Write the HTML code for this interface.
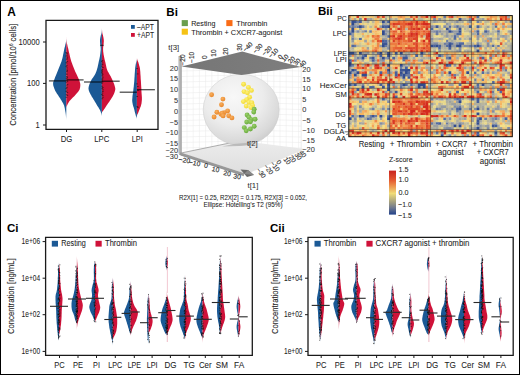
<!DOCTYPE html>
<html><head><meta charset="utf-8"><style>
html,body{margin:0;padding:0;background:#fff;}
body{width:520px;height:375px;overflow:hidden;position:relative;font-family:"Liberation Sans",sans-serif;}
.frame{position:absolute;left:0;top:0;width:518px;height:373px;border:1px solid #000;}
svg{position:absolute;left:0;top:0;}
</style></head><body>
<svg width="520" height="375" viewBox="0 0 520 375" font-family="Liberation Sans, sans-serif">
<rect x="0" y="0" width="520" height="375" fill="#fff"/>
<text x="7.30" y="16.20" font-size="11.88" text-anchor="start" font-weight="bold" fill="#000">A</text>
<linearGradient id="v1" gradientUnits="userSpaceOnUse" x1="0" y1="38.0" x2="0" y2="120.0"><stop offset="0" stop-color="#1b5995" stop-opacity="0.25"/><stop offset="0.082" stop-color="#1b5995"/><stop offset="0.898" stop-color="#1b5995"/><stop offset="1" stop-color="#1b5995" stop-opacity="0.25"/></linearGradient>
<path d="M66.3,38.0 66.3,38.5 66.2,39.1 66.2,39.8 66.1,40.6 66.0,41.5 65.8,42.5 65.6,43.5 65.3,44.7 65.1,45.9 64.7,47.2 64.4,48.6 64.1,50.0 63.8,51.5 63.5,53.1 63.1,54.8 62.8,56.6 62.4,58.3 61.9,60.0 61.4,61.7 60.8,63.3 60.1,65.0 59.4,66.7 58.8,68.3 58.1,70.0 57.4,71.7 56.7,73.6 55.9,75.4 55.2,77.1 54.6,78.7 54.1,80.0 53.7,81.0 53.4,81.7 53.2,82.2 53.1,82.7 53.1,83.3 53.1,84.0 53.2,84.9 53.4,85.9 53.8,86.9 54.1,88.0 54.5,89.0 54.9,90.0 55.3,90.9 55.8,91.7 56.3,92.6 56.8,93.4 57.4,94.2 57.9,95.0 58.4,95.8 59.0,96.7 59.5,97.5 60.1,98.3 60.6,99.2 61.1,100.0 61.6,100.8 62.1,101.7 62.6,102.5 63.1,103.3 63.5,104.2 63.9,105.0 64.2,105.8 64.4,106.7 64.6,107.5 64.8,108.3 64.9,109.2 65.1,110.0 65.2,110.8 65.4,111.7 65.5,112.5 65.6,113.3 65.7,114.2 65.8,115.0 65.9,115.9 66.0,116.9 66.1,117.8 66.2,118.7 66.2,119.5 66.3,120.0 66.3,120.0 66.3,38.0Z" fill="url(#v1)"/>
<linearGradient id="v2" gradientUnits="userSpaceOnUse" x1="0" y1="36.0" x2="0" y2="108.0"><stop offset="0" stop-color="#cf1239" stop-opacity="0.25"/><stop offset="0.123" stop-color="#cf1239"/><stop offset="0.959" stop-color="#cf1239"/><stop offset="1" stop-color="#cf1239" stop-opacity="0.25"/></linearGradient>
<path d="M66.3,36.0 66.3,36.7 66.4,37.6 66.4,38.8 66.5,40.0 66.6,41.3 66.8,42.5 67.0,43.7 67.3,44.8 67.5,46.0 67.8,47.3 68.2,48.6 68.5,50.0 68.8,51.5 69.2,53.1 69.6,54.8 70.0,56.6 70.4,58.3 70.9,60.0 71.4,61.7 72.0,63.3 72.6,65.0 73.3,66.7 73.9,68.3 74.6,70.0 75.3,71.7 76.2,73.5 77.0,75.3 77.8,77.0 78.5,78.6 79.1,80.0 79.5,81.1 79.8,82.0 80.0,82.8 80.2,83.5 80.3,84.2 80.3,85.0 80.3,85.8 80.2,86.7 80.1,87.5 79.9,88.3 79.7,89.2 79.3,90.0 78.8,90.8 78.2,91.7 77.5,92.5 76.8,93.3 76.0,94.2 75.3,95.0 74.5,95.9 73.7,96.7 72.8,97.6 71.9,98.5 71.2,99.3 70.5,100.0 70.0,100.6 69.5,101.1 69.2,101.6 68.9,102.1 68.6,102.5 68.3,103.0 68.0,103.5 67.7,104.0 67.5,104.6 67.3,105.1 67.1,105.6 66.9,106.0 66.7,106.4 66.6,106.8 66.5,107.2 66.4,107.5 66.4,107.8 66.3,108.0 66.3,108.0 66.3,36.0Z" fill="url(#v2)"/>
<linearGradient id="v3" gradientUnits="userSpaceOnUse" x1="0" y1="28.5" x2="0" y2="116.4"><stop offset="0" stop-color="#1b5995" stop-opacity="0.25"/><stop offset="0.074" stop-color="#1b5995"/><stop offset="0.956" stop-color="#1b5995"/><stop offset="1" stop-color="#1b5995" stop-opacity="0.25"/></linearGradient>
<path d="M101.9,28.5 101.8,29.0 101.8,29.7 101.7,30.6 101.6,31.4 101.5,32.3 101.4,33.0 101.3,33.6 101.2,34.1 101.1,34.5 100.9,35.0 100.8,35.5 100.7,36.0 100.6,36.6 100.4,37.3 100.3,37.9 100.2,38.6 100.1,39.3 100.0,40.0 100.0,40.7 100.0,41.3 100.0,41.9 100.1,42.6 100.1,43.3 100.2,44.0 100.3,44.8 100.4,45.6 100.5,46.4 100.6,47.2 100.7,48.1 100.7,49.0 100.7,49.9 100.6,50.8 100.5,51.8 100.4,52.7 100.3,53.8 100.1,55.0 99.9,56.4 99.6,57.9 99.3,59.5 98.9,61.1 98.6,62.6 98.3,64.0 98.0,65.2 97.8,66.3 97.6,67.2 97.3,68.2 97.1,69.1 96.8,70.0 96.5,70.9 96.2,71.7 95.9,72.6 95.5,73.4 95.1,74.2 94.7,75.0 94.2,75.8 93.7,76.6 93.1,77.4 92.5,78.3 91.9,79.1 91.4,80.0 90.9,81.0 90.4,82.0 90.0,83.1 89.5,84.1 89.2,85.1 88.9,86.0 88.7,86.8 88.6,87.4 88.5,88.1 88.5,88.7 88.6,89.3 88.7,90.0 88.9,90.8 89.2,91.6 89.6,92.4 90.0,93.3 90.5,94.2 90.9,95.0 91.4,95.8 91.8,96.7 92.4,97.5 92.9,98.3 93.4,99.2 93.9,100.0 94.4,100.8 94.9,101.7 95.4,102.5 95.9,103.3 96.4,104.2 96.9,105.0 97.4,105.9 98.0,106.7 98.5,107.6 99.0,108.5 99.5,109.3 99.9,110.0 100.2,110.6 100.4,111.1 100.6,111.6 100.8,112.0 100.9,112.5 101.1,113.0 101.3,113.6 101.4,114.2 101.6,114.9 101.7,115.5 101.8,116.0 101.9,116.4 101.9,116.4 101.9,28.5Z" fill="url(#v3)"/>
<linearGradient id="v4" gradientUnits="userSpaceOnUse" x1="0" y1="28.0" x2="0" y2="112.5"><stop offset="0" stop-color="#cf1239" stop-opacity="0.25"/><stop offset="0.083" stop-color="#cf1239"/><stop offset="0.984" stop-color="#cf1239"/><stop offset="1" stop-color="#cf1239" stop-opacity="0.25"/></linearGradient>
<path d="M101.9,28.0 102.0,28.6 102.0,29.4 102.1,30.3 102.2,31.3 102.3,32.2 102.4,33.0 102.5,33.6 102.6,34.1 102.7,34.6 102.9,35.0 103.0,35.5 103.1,36.0 103.2,36.6 103.4,37.3 103.5,37.9 103.6,38.6 103.7,39.3 103.8,40.0 103.8,40.7 103.8,41.3 103.8,41.9 103.7,42.6 103.7,43.3 103.6,44.0 103.5,44.8 103.4,45.6 103.3,46.4 103.2,47.2 103.1,48.1 103.1,49.0 103.1,49.9 103.2,50.8 103.2,51.8 103.4,52.7 103.5,53.8 103.7,55.0 104.0,56.4 104.3,57.9 104.6,59.5 105.0,61.1 105.4,62.6 105.7,64.0 106.0,65.2 106.2,66.3 106.4,67.2 106.6,68.2 106.9,69.1 107.2,70.0 107.6,70.9 108.0,71.7 108.5,72.6 109.0,73.4 109.4,74.2 109.9,75.0 110.3,75.8 110.8,76.6 111.2,77.4 111.6,78.3 112.0,79.1 112.4,80.0 112.8,81.0 113.2,82.0 113.7,83.1 114.1,84.1 114.4,85.1 114.7,86.0 114.9,86.8 115.1,87.4 115.2,88.1 115.3,88.7 115.3,89.3 115.2,90.0 115.0,90.8 114.8,91.6 114.5,92.4 114.2,93.3 113.8,94.2 113.4,95.0 113.0,95.8 112.5,96.7 112.0,97.5 111.5,98.3 110.9,99.2 110.4,100.0 109.8,100.8 109.3,101.7 108.7,102.5 108.1,103.3 107.5,104.2 106.9,105.0 106.3,105.9 105.8,106.8 105.2,107.7 104.7,108.5 104.1,109.3 103.7,110.0 103.3,110.6 102.9,111.1 102.6,111.6 102.3,111.9 102.1,112.3 101.9,112.5 101.9,112.5 101.9,28.0Z" fill="url(#v4)"/>
<linearGradient id="v5" gradientUnits="userSpaceOnUse" x1="0" y1="58.7" x2="0" y2="119.0"><stop offset="0" stop-color="#1b5995" stop-opacity="0.25"/><stop offset="0.087" stop-color="#1b5995"/><stop offset="0.948" stop-color="#1b5995"/><stop offset="1" stop-color="#1b5995" stop-opacity="0.25"/></linearGradient>
<path d="M136.9,58.7 136.8,59.4 136.5,60.4 136.3,61.5 136.0,62.8 135.8,64.0 135.6,65.0 135.5,65.8 135.4,66.5 135.3,67.1 135.2,67.8 135.1,68.7 135.0,70.0 134.9,71.8 134.7,73.9 134.6,76.2 134.4,78.7 134.3,81.0 134.1,83.0 133.9,84.7 133.8,86.3 133.6,87.8 133.4,89.2 133.3,90.6 133.1,92.0 132.9,93.4 132.7,94.8 132.5,96.1 132.4,97.4 132.3,98.7 132.2,99.8 132.2,100.8 132.3,101.8 132.4,102.6 132.6,103.5 132.7,104.2 132.9,105.0 133.1,105.7 133.3,106.4 133.5,107.0 133.7,107.6 133.9,108.3 134.1,109.0 134.3,109.8 134.5,110.6 134.7,111.4 134.9,112.3 135.2,113.2 135.4,114.0 135.7,114.9 135.9,115.9 136.2,116.8 136.5,117.7 136.7,118.5 136.9,119.0 136.9,119.0 136.9,58.7Z" fill="url(#v5)"/>
<linearGradient id="v6" gradientUnits="userSpaceOnUse" x1="0" y1="58.0" x2="0" y2="116.0"><stop offset="0" stop-color="#cf1239" stop-opacity="0.25"/><stop offset="0.055" stop-color="#cf1239"/><stop offset="0.954" stop-color="#cf1239"/><stop offset="1" stop-color="#cf1239" stop-opacity="0.25"/></linearGradient>
<path d="M136.9,58.0 137.2,58.8 137.5,59.9 137.9,61.2 138.4,62.6 138.8,63.9 139.1,65.0 139.3,65.9 139.5,66.5 139.7,67.1 139.8,67.8 140.0,68.7 140.1,70.0 140.3,71.8 140.4,73.9 140.6,76.2 140.7,78.7 140.9,81.0 141.0,83.0 141.1,84.7 141.2,86.3 141.3,87.8 141.4,89.2 141.4,90.6 141.5,92.0 141.6,93.4 141.7,94.8 141.8,96.1 141.9,97.4 141.9,98.7 141.9,99.8 141.8,100.8 141.7,101.8 141.6,102.6 141.5,103.5 141.3,104.2 141.1,105.0 140.9,105.7 140.7,106.4 140.5,107.0 140.2,107.6 140.0,108.3 139.7,109.0 139.4,109.8 139.0,110.7 138.7,111.6 138.3,112.5 138.0,113.3 137.7,114.0 137.5,114.5 137.3,115.0 137.2,115.3 137.1,115.6 137.0,115.8 136.9,116.0 136.9,116.0 136.9,58.0Z" fill="url(#v6)"/>
<rect x="65.58" y="52.00" width="1.7" height="0.55" fill="#111"/>
<rect x="66.04" y="53.46" width="1.7" height="0.55" fill="#111"/>
<rect x="66.01" y="54.71" width="1.7" height="0.55" fill="#111"/>
<rect x="65.48" y="55.74" width="1.7" height="0.55" fill="#111"/>
<rect x="66.39" y="56.80" width="1.7" height="0.55" fill="#111"/>
<rect x="66.15" y="57.89" width="1.7" height="0.55" fill="#111"/>
<rect x="65.88" y="59.55" width="1.7" height="0.55" fill="#111"/>
<rect x="66.43" y="61.23" width="1.7" height="0.55" fill="#111"/>
<rect x="65.54" y="62.44" width="1.7" height="0.55" fill="#111"/>
<rect x="65.62" y="63.65" width="1.7" height="0.55" fill="#111"/>
<rect x="65.85" y="65.06" width="1.7" height="0.55" fill="#111"/>
<rect x="65.47" y="66.44" width="1.7" height="0.55" fill="#111"/>
<rect x="65.91" y="67.59" width="1.7" height="0.55" fill="#111"/>
<rect x="65.94" y="68.81" width="1.7" height="0.55" fill="#111"/>
<rect x="66.24" y="70.02" width="1.7" height="0.55" fill="#111"/>
<rect x="66.03" y="71.19" width="1.7" height="0.55" fill="#111"/>
<rect x="65.75" y="72.80" width="1.7" height="0.55" fill="#111"/>
<rect x="65.90" y="74.49" width="1.7" height="0.55" fill="#111"/>
<rect x="65.99" y="76.02" width="1.7" height="0.55" fill="#111"/>
<rect x="66.32" y="77.04" width="1.7" height="0.55" fill="#111"/>
<rect x="65.78" y="78.45" width="1.7" height="0.55" fill="#111"/>
<rect x="66.10" y="79.93" width="1.7" height="0.55" fill="#111"/>
<rect x="66.53" y="81.25" width="1.7" height="0.55" fill="#111"/>
<rect x="65.47" y="82.58" width="1.7" height="0.55" fill="#111"/>
<rect x="66.59" y="84.08" width="1.7" height="0.55" fill="#111"/>
<rect x="65.86" y="85.65" width="1.7" height="0.55" fill="#111"/>
<rect x="65.95" y="87.12" width="1.7" height="0.55" fill="#111"/>
<rect x="65.47" y="88.24" width="1.7" height="0.55" fill="#111"/>
<rect x="65.70" y="89.77" width="1.7" height="0.55" fill="#111"/>
<rect x="65.50" y="91.05" width="1.7" height="0.55" fill="#111"/>
<rect x="66.46" y="92.36" width="1.7" height="0.55" fill="#111"/>
<rect x="65.73" y="93.94" width="1.7" height="0.55" fill="#111"/>
<rect x="66.46" y="95.23" width="1.7" height="0.55" fill="#111"/>
<rect x="65.61" y="96.90" width="1.7" height="0.55" fill="#111"/>
<line x1="48.90" y1="80.90" x2="66.30" y2="80.90" stroke="#000" stroke-opacity="0.72" stroke-width="1.25"/>
<line x1="66.30" y1="79.90" x2="83.60" y2="79.90" stroke="#000" stroke-opacity="0.72" stroke-width="1.25"/>
<rect x="101.58" y="60.00" width="1.7" height="0.55" fill="#111"/>
<rect x="101.00" y="61.41" width="1.7" height="0.55" fill="#111"/>
<rect x="101.68" y="62.71" width="1.7" height="0.55" fill="#111"/>
<rect x="101.62" y="64.37" width="1.7" height="0.55" fill="#111"/>
<rect x="101.06" y="65.81" width="1.7" height="0.55" fill="#111"/>
<rect x="102.05" y="67.43" width="1.7" height="0.55" fill="#111"/>
<rect x="101.48" y="68.99" width="1.7" height="0.55" fill="#111"/>
<rect x="101.07" y="70.07" width="1.7" height="0.55" fill="#111"/>
<rect x="101.19" y="71.11" width="1.7" height="0.55" fill="#111"/>
<rect x="101.00" y="72.35" width="1.7" height="0.55" fill="#111"/>
<rect x="101.44" y="73.46" width="1.7" height="0.55" fill="#111"/>
<rect x="101.74" y="74.47" width="1.7" height="0.55" fill="#111"/>
<rect x="101.42" y="75.58" width="1.7" height="0.55" fill="#111"/>
<rect x="102.02" y="76.83" width="1.7" height="0.55" fill="#111"/>
<rect x="101.58" y="78.53" width="1.7" height="0.55" fill="#111"/>
<rect x="101.41" y="79.59" width="1.7" height="0.55" fill="#111"/>
<rect x="101.19" y="80.77" width="1.7" height="0.55" fill="#111"/>
<rect x="101.63" y="81.79" width="1.7" height="0.55" fill="#111"/>
<rect x="101.03" y="82.89" width="1.7" height="0.55" fill="#111"/>
<rect x="101.31" y="85.87" width="1.7" height="0.55" fill="#111"/>
<rect x="101.93" y="87.12" width="1.7" height="0.55" fill="#111"/>
<rect x="101.40" y="88.50" width="1.7" height="0.55" fill="#111"/>
<rect x="102.18" y="89.65" width="1.7" height="0.55" fill="#111"/>
<rect x="101.98" y="91.25" width="1.7" height="0.55" fill="#111"/>
<rect x="101.62" y="92.77" width="1.7" height="0.55" fill="#111"/>
<rect x="101.03" y="94.02" width="1.7" height="0.55" fill="#111"/>
<rect x="101.83" y="95.21" width="1.7" height="0.55" fill="#111"/>
<rect x="102.12" y="96.88" width="1.7" height="0.55" fill="#111"/>
<rect x="101.44" y="98.57" width="1.7" height="0.55" fill="#111"/>
<line x1="84.00" y1="82.00" x2="101.90" y2="82.00" stroke="#000" stroke-opacity="0.72" stroke-width="1.25"/>
<line x1="101.90" y1="81.20" x2="119.70" y2="81.20" stroke="#000" stroke-opacity="0.72" stroke-width="1.25"/>
<rect x="136.24" y="68.00" width="1.7" height="0.55" fill="#111"/>
<rect x="136.79" y="73.67" width="1.7" height="0.55" fill="#111"/>
<rect x="136.15" y="83.66" width="1.7" height="0.55" fill="#111"/>
<rect x="136.99" y="86.33" width="1.7" height="0.55" fill="#111"/>
<rect x="137.17" y="90.35" width="1.7" height="0.55" fill="#111"/>
<rect x="136.35" y="96.22" width="1.7" height="0.55" fill="#111"/>
<rect x="136.53" y="106.33" width="1.7" height="0.55" fill="#111"/>
<rect x="136.96" y="107.45" width="1.7" height="0.55" fill="#111"/>
<line x1="119.70" y1="92.20" x2="136.90" y2="92.20" stroke="#000" stroke-opacity="0.72" stroke-width="1.25"/>
<line x1="136.90" y1="89.70" x2="154.90" y2="89.70" stroke="#000" stroke-opacity="0.72" stroke-width="1.25"/>
<rect x="100.2" y="44.8" width="3.4" height="0.9" fill="#111"/>
<path d="M46,20.3 H158 V129.3 H46 Z" fill="none" stroke="#1a1a1a" stroke-width="1.3"/>
<line x1="43" y1="42.0" x2="46" y2="42.0" stroke="#1a1a1a" stroke-width="1"/>
<text x="39.60" y="44.80" font-size="9.07" text-anchor="end" font-weight="normal" fill="#222" textLength="21.0" lengthAdjust="spacingAndGlyphs" stroke="#222" stroke-width="0.06">10000</text>
<line x1="43" y1="83.4" x2="46" y2="83.4" stroke="#1a1a1a" stroke-width="1"/>
<text x="39.60" y="86.20" font-size="9.07" text-anchor="end" font-weight="normal" fill="#222" textLength="12.6" lengthAdjust="spacingAndGlyphs" stroke="#222" stroke-width="0.06">100</text>
<line x1="43" y1="125.0" x2="46" y2="125.0" stroke="#1a1a1a" stroke-width="1"/>
<text x="39.60" y="127.80" font-size="9.07" text-anchor="end" font-weight="normal" fill="#222" textLength="4.2" lengthAdjust="spacingAndGlyphs" stroke="#222" stroke-width="0.06">1</text>
<line x1="66.5" y1="129.3" x2="66.5" y2="132" stroke="#1a1a1a" stroke-width="1"/>
<text x="66.50" y="141.80" font-size="9.30" text-anchor="middle" font-weight="normal" fill="#222" textLength="11.6" lengthAdjust="spacingAndGlyphs" stroke="#222" stroke-width="0.06">DG</text>
<line x1="101.8" y1="129.3" x2="101.8" y2="132" stroke="#1a1a1a" stroke-width="1"/>
<text x="101.80" y="141.80" font-size="9.30" text-anchor="middle" font-weight="normal" fill="#222" textLength="15.0" lengthAdjust="spacingAndGlyphs" stroke="#222" stroke-width="0.06">LPC</text>
<line x1="137.2" y1="129.3" x2="137.2" y2="132" stroke="#1a1a1a" stroke-width="1"/>
<text x="137.20" y="141.80" font-size="9.30" text-anchor="middle" font-weight="normal" fill="#222" textLength="11.0" lengthAdjust="spacingAndGlyphs" stroke="#222" stroke-width="0.06">LPI</text>
<text transform="translate(15.7,74.8) rotate(-90)" font-size="9.2" text-anchor="middle" fill="#2a2a2a" stroke="#2a2a2a" stroke-width="0.12" textLength="102" lengthAdjust="spacingAndGlyphs">Concentration [pmol/10<tspan dy="-2.5" font-size="5.5">6</tspan><tspan dy="2.5"> cells]</tspan></text>
<rect x="131" y="25" width="3.8" height="3.8" fill="#1b5995"/>
<rect x="131" y="33" width="3.8" height="3.8" fill="#cf1239"/>
<text x="137.00" y="30.30" font-size="8.96" text-anchor="start" font-weight="normal" fill="#222" textLength="17.0" lengthAdjust="spacingAndGlyphs" stroke="#222" stroke-width="0.06">–APT</text>
<text x="137.00" y="38.30" font-size="8.96" text-anchor="start" font-weight="normal" fill="#222" textLength="17.0" lengthAdjust="spacingAndGlyphs" stroke="#222" stroke-width="0.06">+APT</text>
<text x="166.30" y="15.90" font-size="11.56" text-anchor="start" font-weight="bold" fill="#000">Bi</text>
<rect x="181.7" y="20.1" width="6.2" height="6" fill="#6a9e4c"/>
<rect x="226.3" y="20.1" width="6.2" height="6" fill="#fa6c16"/>
<rect x="181.7" y="28.7" width="6.2" height="6" fill="#f5c215"/>
<text x="191.20" y="26.00" font-size="7.84" text-anchor="start" font-weight="normal" fill="#222" textLength="24.2" lengthAdjust="spacingAndGlyphs" stroke="#222" stroke-width="0.06">Resting</text>
<text x="236.20" y="26.00" font-size="7.84" text-anchor="start" font-weight="normal" fill="#222" textLength="31.2" lengthAdjust="spacingAndGlyphs" stroke="#222" stroke-width="0.06">Thrombin</text>
<text x="191.20" y="34.60" font-size="7.84" text-anchor="start" font-weight="normal" fill="#222" textLength="91.0" lengthAdjust="spacingAndGlyphs" stroke="#222" stroke-width="0.06">Thrombin + CXCR7-agonist</text>
<defs><radialGradient id="sph" cx="0.4" cy="0.32" r="0.78"><stop offset="0" stop-color="#f8f8f8"/><stop offset="0.5" stop-color="#ececec"/><stop offset="0.8" stop-color="#d9d9d9"/><stop offset="1" stop-color="#c4c4c4"/></radialGradient><linearGradient id="flr" x1="0" y1="0" x2="0" y2="1"><stop offset="0" stop-color="#ececec"/><stop offset="1" stop-color="#dedede"/></linearGradient><linearGradient id="top" x1="0" y1="0" x2="1" y2="0"><stop offset="0" stop-color="#767676"/><stop offset="1" stop-color="#7e7e7e"/></linearGradient><radialGradient id="dO" cx="0.4" cy="0.35" r="0.65"><stop offset="0" stop-color="#f8b060"/><stop offset="1" stop-color="#e8862a"/></radialGradient><radialGradient id="dY" cx="0.4" cy="0.35" r="0.65"><stop offset="0" stop-color="#fff27a"/><stop offset="1" stop-color="#f0d830"/></radialGradient><radialGradient id="dG" cx="0.4" cy="0.35" r="0.65"><stop offset="0" stop-color="#9ad06a"/><stop offset="1" stop-color="#68aa3c"/></radialGradient></defs>
<path d="M181.5,71.0 L240.5,69.5 L301,71.0 M181.5,76.5 L240.5,75.0 L301,76.5 M181.5,82.0 L240.5,80.5 L301,82.0 M181.5,87.5 L240.5,86.0 L301,87.5 M181.5,93.0 L240.5,91.5 L301,93.0 M181.5,98.5 L240.5,97.0 L301,98.5 M181.5,104.0 L240.5,102.5 L301,104.0 M181.5,109.5 L240.5,108.0 L301,109.5 M181.5,115.0 L240.5,113.5 L301,115.0 M181.5,120.5 L240.5,119.0 L301,120.5 M181.5,126.0 L240.5,124.5 L301,126.0 M181.5,131.5 L240.5,130.0 L301,131.5 M181.5,137.0 L240.5,135.5 L301,137.0 M181.5,142.5 L240.5,141.0 L301,142.5 M181.5,148.0 L240.5,146.5 L301,148.0 M187.0,68.0 V150.0 M193.2,68.0 V150.0 M199.4,68.0 V150.0 M205.6,68.0 V150.0 M211.8,68.0 V150.0 M218.0,68.0 V150.0 M224.2,68.0 V150.0 M230.4,68.0 V150.0 M236.6,68.0 V150.0 M242.8,68.0 V150.0 M249.0,68.0 V150.0 M255.2,68.0 V150.0 M261.4,68.0 V150.0 M267.6,68.0 V150.0 M273.8,68.0 V150.0 M280.0,68.0 V150.0 M286.2,68.0 V150.0 M292.4,68.0 V150.0 M298.6,68.0 V150.0" stroke="#e9e9e9" stroke-width="0.5" fill="none"/>
<polygon points="181,153 240.5,140.8 305,149 247,174" fill="url(#flr)"/>
<path d="M181,153 L240.5,140.8" stroke="#9a9a9a" stroke-width="0.8" fill="none"/>
<ellipse cx="241.2" cy="109.8" rx="38" ry="35.6" fill="url(#sph)" stroke="#c8c8c8" stroke-width="0.5"/>
<path d="M222,146.5 Q240,141 258,144 Q240,146.5 222,146.5Z" fill="#b4b4b4" fill-opacity="0.8"/>
<polygon points="181.5,66.5 242.3,51.6 301.2,66.9 241.5,75" fill="url(#top)"/>
<rect x="178.4" y="56" width="3" height="97.5" fill="#b9b9b9"/>
<line x1="181.2" y1="56" x2="181.2" y2="153.5" stroke="#8a8a8a" stroke-width="0.7"/>
<path d="M179.5,153.5 L244,174.5" stroke="#999" stroke-width="2.6" fill="none"/>
<path d="M180.5,155 L244,175.8" stroke="#888" stroke-width="0.7" fill="none"/>
<polygon points="240.5,169.5 248,170 254,175 247,177" fill="#6a6a6a"/>
<polygon points="244,174 248,170 254,175" fill="#8a8a8a"/>
<line x1="301.2" y1="67" x2="301.2" y2="151.5" stroke="#e0e0e0" stroke-width="0.6"/>
<circle cx="211.6" cy="94.8" r="2.45" fill="url(#dO)"/>
<circle cx="222.9" cy="99.1" r="2.45" fill="url(#dO)"/>
<circle cx="221.5" cy="104.7" r="2.45" fill="url(#dO)"/>
<circle cx="216.9" cy="112.2" r="2.45" fill="url(#dO)"/>
<circle cx="227.6" cy="110.9" r="2.45" fill="url(#dO)"/>
<circle cx="224.2" cy="112.7" r="2.45" fill="url(#dO)"/>
<circle cx="221.0" cy="114.3" r="2.45" fill="url(#dO)"/>
<circle cx="222.1" cy="113.3" r="2.45" fill="url(#dO)"/>
<circle cx="223.1" cy="115.9" r="2.45" fill="url(#dO)"/>
<circle cx="228.7" cy="115.7" r="2.45" fill="url(#dO)"/>
<circle cx="231.9" cy="117.9" r="2.45" fill="url(#dO)"/>
<circle cx="214.1" cy="117.0" r="2.45" fill="url(#dO)"/>
<circle cx="243.6" cy="84.2" r="2.45" fill="url(#dY)"/>
<circle cx="248.4" cy="87.4" r="2.45" fill="url(#dY)"/>
<circle cx="251.4" cy="90.4" r="2.45" fill="url(#dY)"/>
<circle cx="244.0" cy="91.6" r="2.45" fill="url(#dY)"/>
<circle cx="247.4" cy="92.8" r="2.45" fill="url(#dY)"/>
<circle cx="249.6" cy="97.2" r="2.45" fill="url(#dY)"/>
<circle cx="246.6" cy="99.6" r="2.45" fill="url(#dY)"/>
<circle cx="243.4" cy="101.6" r="2.45" fill="url(#dY)"/>
<circle cx="249.0" cy="102.4" r="2.45" fill="url(#dY)"/>
<circle cx="251.8" cy="102.8" r="2.45" fill="url(#dY)"/>
<circle cx="246.2" cy="106.1" r="2.45" fill="url(#dY)"/>
<circle cx="252.6" cy="105.6" r="2.45" fill="url(#dY)"/>
<circle cx="250.9" cy="107.5" r="2.45" fill="url(#dY)"/>
<circle cx="254.2" cy="109.3" r="2.45" fill="url(#dG)"/>
<circle cx="253.7" cy="112.1" r="2.45" fill="url(#dG)"/>
<circle cx="247.1" cy="115.0" r="2.45" fill="url(#dG)"/>
<circle cx="249.0" cy="117.3" r="2.45" fill="url(#dG)"/>
<circle cx="251.4" cy="119.6" r="2.45" fill="url(#dG)"/>
<circle cx="255.1" cy="119.2" r="2.45" fill="url(#dG)"/>
<circle cx="246.7" cy="122.0" r="2.45" fill="url(#dG)"/>
<circle cx="250.4" cy="121.7" r="2.45" fill="url(#dG)"/>
<circle cx="254.2" cy="126.2" r="2.45" fill="url(#dG)"/>
<circle cx="244.3" cy="127.6" r="2.45" fill="url(#dG)"/>
<circle cx="250.4" cy="129.0" r="2.45" fill="url(#dG)"/>
<circle cx="246.2" cy="130.8" r="2.45" fill="url(#dG)"/>
<text x="178.00" y="70.80" font-size="7.39" text-anchor="end" font-weight="normal" fill="#333" stroke="#333" stroke-width="0.06">20</text>
<text x="178.00" y="81.00" font-size="7.39" text-anchor="end" font-weight="normal" fill="#333" stroke="#333" stroke-width="0.06">15</text>
<text x="178.00" y="91.60" font-size="7.39" text-anchor="end" font-weight="normal" fill="#333" stroke="#333" stroke-width="0.06">10</text>
<text x="178.00" y="102.80" font-size="7.39" text-anchor="end" font-weight="normal" fill="#333" stroke="#333" stroke-width="0.06">5</text>
<text x="178.00" y="113.50" font-size="7.39" text-anchor="end" font-weight="normal" fill="#333" stroke="#333" stroke-width="0.06">0</text>
<text x="178.00" y="125.00" font-size="7.39" text-anchor="end" font-weight="normal" fill="#333" stroke="#333" stroke-width="0.06">−5</text>
<text x="178.00" y="134.80" font-size="7.39" text-anchor="end" font-weight="normal" fill="#333" stroke="#333" stroke-width="0.06">−10</text>
<text x="178.00" y="146.30" font-size="7.39" text-anchor="end" font-weight="normal" fill="#333" stroke="#333" stroke-width="0.06">−15</text>
<text x="178.00" y="153.00" font-size="7.39" text-anchor="end" font-weight="normal" fill="#333" stroke="#333" stroke-width="0.06">−20</text>
<text x="178.00" y="158.80" font-size="7.39" text-anchor="end" font-weight="normal" fill="#333" stroke="#333" stroke-width="0.06">−30</text>
<text x="302.30" y="72.30" font-size="7.39" text-anchor="start" font-weight="normal" fill="#333" stroke="#333" stroke-width="0.06">20</text>
<text x="302.30" y="81.50" font-size="7.39" text-anchor="start" font-weight="normal" fill="#333" stroke="#333" stroke-width="0.06">15</text>
<text x="302.30" y="91.10" font-size="7.39" text-anchor="start" font-weight="normal" fill="#333" stroke="#333" stroke-width="0.06">10</text>
<text x="302.30" y="101.80" font-size="7.39" text-anchor="start" font-weight="normal" fill="#333" stroke="#333" stroke-width="0.06">5</text>
<text x="302.30" y="111.60" font-size="7.39" text-anchor="start" font-weight="normal" fill="#333" stroke="#333" stroke-width="0.06">0</text>
<text x="302.30" y="123.10" font-size="7.39" text-anchor="start" font-weight="normal" fill="#333" stroke="#333" stroke-width="0.06">−5</text>
<text x="302.30" y="133.00" font-size="7.39" text-anchor="start" font-weight="normal" fill="#333" stroke="#333" stroke-width="0.06">−10</text>
<text x="302.30" y="142.80" font-size="7.39" text-anchor="start" font-weight="normal" fill="#333" stroke="#333" stroke-width="0.06">−15</text>
<text x="302.30" y="152.40" font-size="7.39" text-anchor="start" font-weight="normal" fill="#333" stroke="#333" stroke-width="0.06">−20</text>
<text transform="translate(184.8,65.5) rotate(-90)" font-size="6.5" fill="#333" stroke="#333" stroke-width="0.15">−20</text>
<text transform="translate(193.9,62.8) rotate(-90)" font-size="6.5" fill="#333" stroke="#333" stroke-width="0.15">−10</text>
<text transform="translate(206.6,59.0) rotate(-90)" font-size="6.5" fill="#333" stroke="#333" stroke-width="0.15">0</text>
<text transform="translate(216.2,56.7) rotate(-90)" font-size="6.5" fill="#333" stroke="#333" stroke-width="0.15">10</text>
<text transform="translate(227.6,54.8) rotate(-90)" font-size="6.5" fill="#333" stroke="#333" stroke-width="0.15">20</text>
<text transform="translate(241.6,50.8) rotate(-90)" font-size="6.5" fill="#333" stroke="#333" stroke-width="0.15">30</text>
<text transform="translate(245.4,52.3) rotate(-45)" font-size="6.4" fill="#333" stroke="#333" stroke-width="0.15">−40</text>
<text transform="translate(255.4,54.0) rotate(-45)" font-size="6.4" fill="#333" stroke="#333" stroke-width="0.15">−30</text>
<text transform="translate(264.6,56.3) rotate(-45)" font-size="6.4" fill="#333" stroke="#333" stroke-width="0.15">−20</text>
<text transform="translate(271.0,58.6) rotate(-45)" font-size="6.4" fill="#333" stroke="#333" stroke-width="0.15">−10</text>
<text transform="translate(280.5,59.8) rotate(-45)" font-size="6.4" fill="#333" stroke="#333" stroke-width="0.15">0</text>
<text transform="translate(284.0,62.0) rotate(-45)" font-size="6.4" fill="#333" stroke="#333" stroke-width="0.15">10</text>
<text transform="translate(290.5,64.0) rotate(-45)" font-size="6.4" fill="#333" stroke="#333" stroke-width="0.15">20</text>
<text transform="translate(296.0,66.0) rotate(-45)" font-size="6.4" fill="#333" stroke="#333" stroke-width="0.15">30</text>
<text transform="translate(301.8,68.0) rotate(-45)" font-size="6.4" fill="#333" stroke="#333" stroke-width="0.15">40</text>
<text transform="translate(178.3,161.5) rotate(10)" font-size="6.8" fill="#333" stroke="#333" stroke-width="0.15">−20</text>
<text transform="translate(188.5,164.3) rotate(10)" font-size="6.8" fill="#333" stroke="#333" stroke-width="0.15">−10</text>
<text transform="translate(203.8,167.6) rotate(10)" font-size="6.8" fill="#333" stroke="#333" stroke-width="0.15">0</text>
<text transform="translate(211.5,171.1) rotate(10)" font-size="6.8" fill="#333" stroke="#333" stroke-width="0.15">10</text>
<text transform="translate(223.0,175.0) rotate(10)" font-size="6.8" fill="#333" stroke="#333" stroke-width="0.15">20</text>
<text transform="translate(233.0,178.2) rotate(10)" font-size="6.8" fill="#333" stroke="#333" stroke-width="0.15">30</text>
<text transform="translate(256.0,170.0) rotate(52)" font-size="6.5" fill="#333" stroke="#333" stroke-width="0.15">−30</text>
<text transform="translate(263.5,166.5) rotate(52)" font-size="6.5" fill="#333" stroke="#333" stroke-width="0.15">−20</text>
<text transform="translate(270.0,163.5) rotate(52)" font-size="6.5" fill="#333" stroke="#333" stroke-width="0.15">−10</text>
<text transform="translate(276.0,162.3) rotate(52)" font-size="6.5" fill="#333" stroke="#333" stroke-width="0.15">0</text>
<text transform="translate(283.3,159.5) rotate(52)" font-size="6.5" fill="#333" stroke="#333" stroke-width="0.15">10</text>
<text transform="translate(288.5,157.5) rotate(52)" font-size="6.5" fill="#333" stroke="#333" stroke-width="0.15">20</text>
<text transform="translate(294.3,154.8) rotate(52)" font-size="6.5" fill="#333" stroke="#333" stroke-width="0.15">30</text>
<text transform="translate(298.8,152.5) rotate(52)" font-size="6.5" fill="#333" stroke="#333" stroke-width="0.15">40</text>
<text x="168.30" y="50.00" font-size="7.84" text-anchor="start" font-weight="normal" fill="#333" stroke="#333" stroke-width="0.06">t[3]</text>
<text x="246.90" y="145.60" font-size="7.84" text-anchor="start" font-weight="normal" fill="#333" stroke="#333" stroke-width="0.06">t[2]</text>
<text x="247.50" y="188.00" font-size="7.84" text-anchor="start" font-weight="normal" fill="#333" stroke="#333" stroke-width="0.06">t[1]</text>
<text x="243.00" y="200.30" font-size="7.06" text-anchor="middle" font-weight="normal" fill="#222" textLength="128.0" lengthAdjust="spacingAndGlyphs" stroke="#222" stroke-width="0.06">R2X[1] = 0.25, R2X[2] = 0.175, R2X[3] = 0.052,</text>
<text x="243.00" y="207.30" font-size="7.06" text-anchor="middle" font-weight="normal" fill="#222" textLength="79.0" lengthAdjust="spacingAndGlyphs" stroke="#222" stroke-width="0.06">Ellipse: Hotelling’s T2 (95%)</text>
<text x="318.00" y="15.40" font-size="11.56" text-anchor="start" font-weight="bold" fill="#000">Bii</text>
<g transform="translate(348.80,15.60) scale(2.5547,2.4220)">
<path fill="#f19851" d="M0 0h1.1v1.1h-1.1zM16 0h1.1v1.1h-1.1zM42 0h1.1v1.1h-1.1zM55 1h1.1v1.1h-1.1zM52 3h1.1v1.1h-1.1zM22 4h1.1v1.1h-1.1zM61 4h1.1v1.1h-1.1zM18 5h1.1v1.1h-1.1zM23 11h1.1v1.1h-1.1zM16 12h1.1v1.1h-1.1zM17 12h1.1v1.1h-1.1zM20 12h1.1v1.1h-1.1zM21 12h1.1v1.1h-1.1zM25 12h1.1v1.1h-1.1zM27 12h1.1v1.1h-1.1zM11 13h1.1v1.1h-1.1zM5 14h1.1v1.1h-1.1zM7 14h1.1v1.1h-1.1zM27 14h1.1v1.1h-1.1zM38 15h1.1v1.1h-1.1zM46 15h1.1v1.1h-1.1zM55 15h1.1v1.1h-1.1zM37 16h1.1v1.1h-1.1zM53 17h1.1v1.1h-1.1zM26 18h1.1v1.1h-1.1zM48 18h1.1v1.1h-1.1zM22 19h1.1v1.1h-1.1zM24 19h1.1v1.1h-1.1zM32 19h1.1v1.1h-1.1zM45 19h1.1v1.1h-1.1zM53 19h1.1v1.1h-1.1zM8 20h1.1v1.1h-1.1zM46 20h1.1v1.1h-1.1zM52 20h1.1v1.1h-1.1zM28 21h1.1v1.1h-1.1zM29 21h1.1v1.1h-1.1zM6 22h1.1v1.1h-1.1zM30 22h1.1v1.1h-1.1zM17 23h1.1v1.1h-1.1zM35 23h1.1v1.1h-1.1zM33 24h1.1v1.1h-1.1zM49 24h1.1v1.1h-1.1zM34 25h1.1v1.1h-1.1zM43 25h1.1v1.1h-1.1zM48 25h1.1v1.1h-1.1zM35 26h1.1v1.1h-1.1zM1 27h1.1v1.1h-1.1zM25 27h1.1v1.1h-1.1zM39 27h1.1v1.1h-1.1zM62 27h1.1v1.1h-1.1zM63 28h1.1v1.1h-1.1zM57 29h1.1v1.1h-1.1zM58 29h1.1v1.1h-1.1zM61 29h1.1v1.1h-1.1zM4 30h1.1v1.1h-1.1zM41 30h1.1v1.1h-1.1zM53 30h1.1v1.1h-1.1zM38 31h1.1v1.1h-1.1zM63 31h1.1v1.1h-1.1zM23 32h1.1v1.1h-1.1zM55 32h1.1v1.1h-1.1zM7 33h1.1v1.1h-1.1zM34 33h1.1v1.1h-1.1zM62 33h1.1v1.1h-1.1zM29 34h1.1v1.1h-1.1zM31 34h1.1v1.1h-1.1zM21 35h1.1v1.1h-1.1zM22 35h1.1v1.1h-1.1zM1 37h1.1v1.1h-1.1zM14 39h1.1v1.1h-1.1zM35 41h1.1v1.1h-1.1zM54 41h1.1v1.1h-1.1zM56 41h1.1v1.1h-1.1zM28 42h1.1v1.1h-1.1zM16 43h1.1v1.1h-1.1zM27 43h1.1v1.1h-1.1zM6 44h1.1v1.1h-1.1zM22 45h1.1v1.1h-1.1zM20 46h1.1v1.1h-1.1zM43 47h1.1v1.1h-1.1zM6 48h1.1v1.1h-1.1zM2 49h1.1v1.1h-1.1zM6 49h1.1v1.1h-1.1zM26 49h1.1v1.1h-1.1zM32 49h1.1v1.1h-1.1zM49 49h1.1v1.1h-1.1zM60 49h1.1v1.1h-1.1zM63 49h1.1v1.1h-1.1z"/>
<path fill="#f4d780" d="M1 0h1.1v1.1h-1.1zM7 0h1.1v1.1h-1.1zM35 0h1.1v1.1h-1.1zM11 1h1.1v1.1h-1.1zM42 1h1.1v1.1h-1.1zM49 1h1.1v1.1h-1.1zM56 1h1.1v1.1h-1.1zM52 2h1.1v1.1h-1.1zM56 2h1.1v1.1h-1.1zM6 3h1.1v1.1h-1.1zM33 3h1.1v1.1h-1.1zM40 3h1.1v1.1h-1.1zM61 3h1.1v1.1h-1.1zM7 4h1.1v1.1h-1.1zM48 4h1.1v1.1h-1.1zM7 5h1.1v1.1h-1.1zM41 5h1.1v1.1h-1.1zM51 5h1.1v1.1h-1.1zM55 5h1.1v1.1h-1.1zM59 5h1.1v1.1h-1.1zM62 5h1.1v1.1h-1.1zM12 6h1.1v1.1h-1.1zM2 7h1.1v1.1h-1.1zM8 7h1.1v1.1h-1.1zM60 7h1.1v1.1h-1.1zM2 8h1.1v1.1h-1.1zM8 8h1.1v1.1h-1.1zM43 8h1.1v1.1h-1.1zM22 9h1.1v1.1h-1.1zM42 9h1.1v1.1h-1.1zM48 9h1.1v1.1h-1.1zM45 10h1.1v1.1h-1.1zM46 10h1.1v1.1h-1.1zM57 11h1.1v1.1h-1.1zM8 12h1.1v1.1h-1.1zM48 13h1.1v1.1h-1.1zM54 13h1.1v1.1h-1.1zM15 14h1.1v1.1h-1.1zM7 16h1.1v1.1h-1.1zM19 16h1.1v1.1h-1.1zM47 16h1.1v1.1h-1.1zM49 17h1.1v1.1h-1.1zM57 17h1.1v1.1h-1.1zM7 18h1.1v1.1h-1.1zM15 18h1.1v1.1h-1.1zM43 18h1.1v1.1h-1.1zM60 18h1.1v1.1h-1.1zM3 19h1.1v1.1h-1.1zM18 19h1.1v1.1h-1.1zM46 19h1.1v1.1h-1.1zM35 20h1.1v1.1h-1.1zM9 21h1.1v1.1h-1.1zM19 21h1.1v1.1h-1.1zM58 21h1.1v1.1h-1.1zM62 21h1.1v1.1h-1.1zM4 22h1.1v1.1h-1.1zM19 22h1.1v1.1h-1.1zM32 22h1.1v1.1h-1.1zM41 22h1.1v1.1h-1.1zM7 23h1.1v1.1h-1.1zM40 23h1.1v1.1h-1.1zM48 23h1.1v1.1h-1.1zM31 24h1.1v1.1h-1.1zM35 24h1.1v1.1h-1.1zM52 24h1.1v1.1h-1.1zM31 25h1.1v1.1h-1.1zM17 26h1.1v1.1h-1.1zM20 26h1.1v1.1h-1.1zM23 26h1.1v1.1h-1.1zM35 27h1.1v1.1h-1.1zM37 27h1.1v1.1h-1.1zM6 28h1.1v1.1h-1.1zM9 28h1.1v1.1h-1.1zM42 28h1.1v1.1h-1.1zM48 28h1.1v1.1h-1.1zM11 29h1.1v1.1h-1.1zM8 30h1.1v1.1h-1.1zM13 30h1.1v1.1h-1.1zM29 30h1.1v1.1h-1.1zM39 30h1.1v1.1h-1.1zM46 30h1.1v1.1h-1.1zM61 30h1.1v1.1h-1.1zM36 31h1.1v1.1h-1.1zM40 31h1.1v1.1h-1.1zM43 31h1.1v1.1h-1.1zM61 31h1.1v1.1h-1.1zM25 32h1.1v1.1h-1.1zM49 32h1.1v1.1h-1.1zM53 32h1.1v1.1h-1.1zM9 33h1.1v1.1h-1.1zM19 33h1.1v1.1h-1.1zM22 33h1.1v1.1h-1.1zM16 34h1.1v1.1h-1.1zM14 35h1.1v1.1h-1.1zM61 35h1.1v1.1h-1.1zM12 36h1.1v1.1h-1.1zM13 36h1.1v1.1h-1.1zM26 36h1.1v1.1h-1.1zM34 36h1.1v1.1h-1.1zM7 37h1.1v1.1h-1.1zM45 37h1.1v1.1h-1.1zM56 37h1.1v1.1h-1.1zM3 38h1.1v1.1h-1.1zM9 39h1.1v1.1h-1.1zM13 39h1.1v1.1h-1.1zM34 39h1.1v1.1h-1.1zM50 39h1.1v1.1h-1.1zM57 39h1.1v1.1h-1.1zM58 39h1.1v1.1h-1.1zM3 40h1.1v1.1h-1.1zM45 40h1.1v1.1h-1.1zM14 41h1.1v1.1h-1.1zM50 41h1.1v1.1h-1.1zM13 42h1.1v1.1h-1.1zM32 42h1.1v1.1h-1.1zM59 42h1.1v1.1h-1.1zM6 43h1.1v1.1h-1.1zM12 43h1.1v1.1h-1.1zM35 43h1.1v1.1h-1.1zM40 43h1.1v1.1h-1.1zM45 43h1.1v1.1h-1.1zM46 43h1.1v1.1h-1.1zM3 44h1.1v1.1h-1.1zM8 44h1.1v1.1h-1.1zM10 44h1.1v1.1h-1.1zM37 44h1.1v1.1h-1.1zM60 44h1.1v1.1h-1.1zM19 45h1.1v1.1h-1.1zM62 45h1.1v1.1h-1.1zM12 47h1.1v1.1h-1.1zM27 47h1.1v1.1h-1.1zM38 48h1.1v1.1h-1.1zM41 48h1.1v1.1h-1.1zM21 49h1.1v1.1h-1.1zM33 49h1.1v1.1h-1.1zM37 49h1.1v1.1h-1.1zM40 49h1.1v1.1h-1.1zM56 49h1.1v1.1h-1.1z"/>
<path fill="#f4e087" d="M2 0h1.1v1.1h-1.1zM51 0h1.1v1.1h-1.1zM52 0h1.1v1.1h-1.1zM5 1h1.1v1.1h-1.1zM20 1h1.1v1.1h-1.1zM63 1h1.1v1.1h-1.1zM8 2h1.1v1.1h-1.1zM59 2h1.1v1.1h-1.1zM12 3h1.1v1.1h-1.1zM34 3h1.1v1.1h-1.1zM35 3h1.1v1.1h-1.1zM36 3h1.1v1.1h-1.1zM49 3h1.1v1.1h-1.1zM11 4h1.1v1.1h-1.1zM36 4h1.1v1.1h-1.1zM58 4h1.1v1.1h-1.1zM3 5h1.1v1.1h-1.1zM37 5h1.1v1.1h-1.1zM52 5h1.1v1.1h-1.1zM63 5h1.1v1.1h-1.1zM34 8h1.1v1.1h-1.1zM55 8h1.1v1.1h-1.1zM0 9h1.1v1.1h-1.1zM5 9h1.1v1.1h-1.1zM27 9h1.1v1.1h-1.1zM29 9h1.1v1.1h-1.1zM38 9h1.1v1.1h-1.1zM49 9h1.1v1.1h-1.1zM51 9h1.1v1.1h-1.1zM59 9h1.1v1.1h-1.1zM2 10h1.1v1.1h-1.1zM27 10h1.1v1.1h-1.1zM57 10h1.1v1.1h-1.1zM61 10h1.1v1.1h-1.1zM12 11h1.1v1.1h-1.1zM2 13h1.1v1.1h-1.1zM4 13h1.1v1.1h-1.1zM45 13h1.1v1.1h-1.1zM52 13h1.1v1.1h-1.1zM34 14h1.1v1.1h-1.1zM44 14h1.1v1.1h-1.1zM43 15h1.1v1.1h-1.1zM32 16h1.1v1.1h-1.1zM54 16h1.1v1.1h-1.1zM54 17h1.1v1.1h-1.1zM20 18h1.1v1.1h-1.1zM56 18h1.1v1.1h-1.1zM1 19h1.1v1.1h-1.1zM8 19h1.1v1.1h-1.1zM42 19h1.1v1.1h-1.1zM50 19h1.1v1.1h-1.1zM33 20h1.1v1.1h-1.1zM49 20h1.1v1.1h-1.1zM61 20h1.1v1.1h-1.1zM57 21h1.1v1.1h-1.1zM27 22h1.1v1.1h-1.1zM29 22h1.1v1.1h-1.1zM63 22h1.1v1.1h-1.1zM4 24h1.1v1.1h-1.1zM34 24h1.1v1.1h-1.1zM37 24h1.1v1.1h-1.1zM56 24h1.1v1.1h-1.1zM61 24h1.1v1.1h-1.1zM22 25h1.1v1.1h-1.1zM30 25h1.1v1.1h-1.1zM6 26h1.1v1.1h-1.1zM15 26h1.1v1.1h-1.1zM21 27h1.1v1.1h-1.1zM54 27h1.1v1.1h-1.1zM63 27h1.1v1.1h-1.1zM30 28h1.1v1.1h-1.1zM36 28h1.1v1.1h-1.1zM38 28h1.1v1.1h-1.1zM41 29h1.1v1.1h-1.1zM43 29h1.1v1.1h-1.1zM22 30h1.1v1.1h-1.1zM25 30h1.1v1.1h-1.1zM32 30h1.1v1.1h-1.1zM45 30h1.1v1.1h-1.1zM57 30h1.1v1.1h-1.1zM22 31h1.1v1.1h-1.1zM44 31h1.1v1.1h-1.1zM47 31h1.1v1.1h-1.1zM35 32h1.1v1.1h-1.1zM40 32h1.1v1.1h-1.1zM47 32h1.1v1.1h-1.1zM10 34h1.1v1.1h-1.1zM10 35h1.1v1.1h-1.1zM16 35h1.1v1.1h-1.1zM45 35h1.1v1.1h-1.1zM55 35h1.1v1.1h-1.1zM1 36h1.1v1.1h-1.1zM2 36h1.1v1.1h-1.1zM6 36h1.1v1.1h-1.1zM15 36h1.1v1.1h-1.1zM54 36h1.1v1.1h-1.1zM6 37h1.1v1.1h-1.1zM8 37h1.1v1.1h-1.1zM62 38h1.1v1.1h-1.1zM8 39h1.1v1.1h-1.1zM37 39h1.1v1.1h-1.1zM51 39h1.1v1.1h-1.1zM16 40h1.1v1.1h-1.1zM47 40h1.1v1.1h-1.1zM17 41h1.1v1.1h-1.1zM26 41h1.1v1.1h-1.1zM3 42h1.1v1.1h-1.1zM14 42h1.1v1.1h-1.1zM14 43h1.1v1.1h-1.1zM36 43h1.1v1.1h-1.1zM1 44h1.1v1.1h-1.1zM5 45h1.1v1.1h-1.1zM8 45h1.1v1.1h-1.1zM13 45h1.1v1.1h-1.1zM59 45h1.1v1.1h-1.1zM60 45h1.1v1.1h-1.1zM10 46h1.1v1.1h-1.1zM13 46h1.1v1.1h-1.1zM41 46h1.1v1.1h-1.1zM44 46h1.1v1.1h-1.1zM46 46h1.1v1.1h-1.1zM15 47h1.1v1.1h-1.1zM21 47h1.1v1.1h-1.1zM22 47h1.1v1.1h-1.1zM16 48h1.1v1.1h-1.1zM51 48h1.1v1.1h-1.1zM25 49h1.1v1.1h-1.1zM34 49h1.1v1.1h-1.1z"/>
<path fill="#d83823" d="M3 0h1.1v1.1h-1.1zM26 0h1.1v1.1h-1.1zM40 0h1.1v1.1h-1.1zM29 2h1.1v1.1h-1.1zM17 3h1.1v1.1h-1.1zM25 5h1.1v1.1h-1.1zM24 8h1.1v1.1h-1.1zM30 8h1.1v1.1h-1.1zM30 9h1.1v1.1h-1.1zM17 10h1.1v1.1h-1.1zM24 10h1.1v1.1h-1.1zM26 10h1.1v1.1h-1.1zM29 13h1.1v1.1h-1.1zM28 14h1.1v1.1h-1.1zM60 15h1.1v1.1h-1.1zM51 17h1.1v1.1h-1.1zM36 19h1.1v1.1h-1.1zM59 19h1.1v1.1h-1.1zM3 20h1.1v1.1h-1.1zM11 20h1.1v1.1h-1.1zM37 20h1.1v1.1h-1.1zM5 21h1.1v1.1h-1.1zM18 21h1.1v1.1h-1.1zM42 21h1.1v1.1h-1.1zM43 21h1.1v1.1h-1.1zM6 23h1.1v1.1h-1.1zM6 25h1.1v1.1h-1.1zM9 26h1.1v1.1h-1.1zM13 26h1.1v1.1h-1.1zM15 27h1.1v1.1h-1.1zM13 31h1.1v1.1h-1.1zM29 31h1.1v1.1h-1.1zM1 32h1.1v1.1h-1.1zM6 32h1.1v1.1h-1.1zM32 32h1.1v1.1h-1.1zM5 33h1.1v1.1h-1.1zM24 33h1.1v1.1h-1.1zM25 33h1.1v1.1h-1.1zM35 33h1.1v1.1h-1.1zM43 33h1.1v1.1h-1.1zM46 33h1.1v1.1h-1.1zM51 33h1.1v1.1h-1.1zM61 33h1.1v1.1h-1.1zM27 35h1.1v1.1h-1.1zM30 35h1.1v1.1h-1.1zM21 36h1.1v1.1h-1.1zM29 36h1.1v1.1h-1.1zM0 37h1.1v1.1h-1.1zM24 37h1.1v1.1h-1.1zM17 38h1.1v1.1h-1.1zM19 39h1.1v1.1h-1.1zM20 39h1.1v1.1h-1.1zM23 40h1.1v1.1h-1.1zM29 40h1.1v1.1h-1.1zM49 41h1.1v1.1h-1.1zM57 41h1.1v1.1h-1.1zM24 42h1.1v1.1h-1.1zM17 43h1.1v1.1h-1.1zM20 43h1.1v1.1h-1.1zM26 43h1.1v1.1h-1.1zM17 44h1.1v1.1h-1.1zM30 44h1.1v1.1h-1.1zM24 45h1.1v1.1h-1.1zM26 45h1.1v1.1h-1.1zM0 47h1.1v1.1h-1.1zM1 47h1.1v1.1h-1.1zM44 47h1.1v1.1h-1.1zM47 47h1.1v1.1h-1.1zM1 48h1.1v1.1h-1.1zM4 48h1.1v1.1h-1.1zM13 48h1.1v1.1h-1.1zM30 49h1.1v1.1h-1.1zM48 49h1.1v1.1h-1.1z"/>
<path fill="#ddcf8f" d="M4 0h1.1v1.1h-1.1zM45 0h1.1v1.1h-1.1zM58 0h1.1v1.1h-1.1zM29 1h1.1v1.1h-1.1zM31 1h1.1v1.1h-1.1zM53 1h1.1v1.1h-1.1zM5 3h1.1v1.1h-1.1zM7 3h1.1v1.1h-1.1zM9 3h1.1v1.1h-1.1zM44 3h1.1v1.1h-1.1zM9 4h1.1v1.1h-1.1zM52 4h1.1v1.1h-1.1zM55 4h1.1v1.1h-1.1zM6 5h1.1v1.1h-1.1zM15 5h1.1v1.1h-1.1zM33 5h1.1v1.1h-1.1zM34 5h1.1v1.1h-1.1zM47 5h1.1v1.1h-1.1zM54 5h1.1v1.1h-1.1zM7 6h1.1v1.1h-1.1zM52 6h1.1v1.1h-1.1zM55 6h1.1v1.1h-1.1zM3 7h1.1v1.1h-1.1zM4 7h1.1v1.1h-1.1zM7 7h1.1v1.1h-1.1zM9 7h1.1v1.1h-1.1zM62 7h1.1v1.1h-1.1zM36 8h1.1v1.1h-1.1zM48 8h1.1v1.1h-1.1zM37 9h1.1v1.1h-1.1zM44 9h1.1v1.1h-1.1zM0 10h1.1v1.1h-1.1zM56 10h1.1v1.1h-1.1zM59 10h1.1v1.1h-1.1zM63 10h1.1v1.1h-1.1zM0 11h1.1v1.1h-1.1zM8 11h1.1v1.1h-1.1zM10 11h1.1v1.1h-1.1zM45 11h1.1v1.1h-1.1zM52 11h1.1v1.1h-1.1zM60 11h1.1v1.1h-1.1zM7 12h1.1v1.1h-1.1zM61 12h1.1v1.1h-1.1zM44 13h1.1v1.1h-1.1zM46 13h1.1v1.1h-1.1zM2 14h1.1v1.1h-1.1zM52 14h1.1v1.1h-1.1zM3 15h1.1v1.1h-1.1zM8 15h1.1v1.1h-1.1zM13 15h1.1v1.1h-1.1zM30 15h1.1v1.1h-1.1zM57 15h1.1v1.1h-1.1zM8 16h1.1v1.1h-1.1zM0 17h1.1v1.1h-1.1zM16 17h1.1v1.1h-1.1zM47 17h1.1v1.1h-1.1zM50 18h1.1v1.1h-1.1zM62 18h1.1v1.1h-1.1zM31 19h1.1v1.1h-1.1zM36 20h1.1v1.1h-1.1zM42 20h1.1v1.1h-1.1zM36 21h1.1v1.1h-1.1zM3 22h1.1v1.1h-1.1zM17 22h1.1v1.1h-1.1zM55 22h1.1v1.1h-1.1zM42 23h1.1v1.1h-1.1zM47 23h1.1v1.1h-1.1zM51 23h1.1v1.1h-1.1zM59 23h1.1v1.1h-1.1zM10 24h1.1v1.1h-1.1zM11 24h1.1v1.1h-1.1zM17 24h1.1v1.1h-1.1zM43 24h1.1v1.1h-1.1zM45 24h1.1v1.1h-1.1zM15 25h1.1v1.1h-1.1zM27 25h1.1v1.1h-1.1zM37 25h1.1v1.1h-1.1zM46 25h1.1v1.1h-1.1zM54 25h1.1v1.1h-1.1zM36 26h1.1v1.1h-1.1zM38 26h1.1v1.1h-1.1zM27 27h1.1v1.1h-1.1zM40 27h1.1v1.1h-1.1zM37 28h1.1v1.1h-1.1zM2 29h1.1v1.1h-1.1zM4 29h1.1v1.1h-1.1zM6 29h1.1v1.1h-1.1zM25 29h1.1v1.1h-1.1zM32 29h1.1v1.1h-1.1zM34 29h1.1v1.1h-1.1zM52 29h1.1v1.1h-1.1zM6 30h1.1v1.1h-1.1zM28 30h1.1v1.1h-1.1zM38 30h1.1v1.1h-1.1zM40 30h1.1v1.1h-1.1zM43 30h1.1v1.1h-1.1zM47 30h1.1v1.1h-1.1zM62 30h1.1v1.1h-1.1zM12 31h1.1v1.1h-1.1zM21 31h1.1v1.1h-1.1zM31 31h1.1v1.1h-1.1zM37 31h1.1v1.1h-1.1zM52 31h1.1v1.1h-1.1zM37 32h1.1v1.1h-1.1zM10 33h1.1v1.1h-1.1zM63 33h1.1v1.1h-1.1zM45 34h1.1v1.1h-1.1zM7 35h1.1v1.1h-1.1zM12 35h1.1v1.1h-1.1zM33 35h1.1v1.1h-1.1zM51 35h1.1v1.1h-1.1zM3 36h1.1v1.1h-1.1zM61 36h1.1v1.1h-1.1zM3 37h1.1v1.1h-1.1zM5 37h1.1v1.1h-1.1zM40 37h1.1v1.1h-1.1zM53 37h1.1v1.1h-1.1zM61 37h1.1v1.1h-1.1zM6 38h1.1v1.1h-1.1zM7 38h1.1v1.1h-1.1zM10 38h1.1v1.1h-1.1zM55 38h1.1v1.1h-1.1zM12 39h1.1v1.1h-1.1zM40 39h1.1v1.1h-1.1zM8 40h1.1v1.1h-1.1zM10 40h1.1v1.1h-1.1zM12 40h1.1v1.1h-1.1zM13 40h1.1v1.1h-1.1zM41 40h1.1v1.1h-1.1zM46 40h1.1v1.1h-1.1zM48 40h1.1v1.1h-1.1zM49 40h1.1v1.1h-1.1zM55 40h1.1v1.1h-1.1zM58 40h1.1v1.1h-1.1zM59 40h1.1v1.1h-1.1zM6 41h1.1v1.1h-1.1zM21 41h1.1v1.1h-1.1zM25 41h1.1v1.1h-1.1zM1 42h1.1v1.1h-1.1zM35 42h1.1v1.1h-1.1zM47 42h1.1v1.1h-1.1zM49 42h1.1v1.1h-1.1zM52 42h1.1v1.1h-1.1zM7 43h1.1v1.1h-1.1zM8 43h1.1v1.1h-1.1zM34 43h1.1v1.1h-1.1zM41 43h1.1v1.1h-1.1zM53 43h1.1v1.1h-1.1zM59 43h1.1v1.1h-1.1zM7 44h1.1v1.1h-1.1zM52 44h1.1v1.1h-1.1zM58 44h1.1v1.1h-1.1zM7 45h1.1v1.1h-1.1zM48 45h1.1v1.1h-1.1zM55 45h1.1v1.1h-1.1zM53 46h1.1v1.1h-1.1zM61 46h1.1v1.1h-1.1zM11 47h1.1v1.1h-1.1zM14 48h1.1v1.1h-1.1zM61 48h1.1v1.1h-1.1zM54 49h1.1v1.1h-1.1z"/>
<path fill="#f5b462" d="M5 0h1.1v1.1h-1.1zM12 0h1.1v1.1h-1.1zM34 0h1.1v1.1h-1.1zM38 0h1.1v1.1h-1.1zM43 0h1.1v1.1h-1.1zM1 1h1.1v1.1h-1.1zM21 1h1.1v1.1h-1.1zM34 1h1.1v1.1h-1.1zM55 2h1.1v1.1h-1.1zM48 3h1.1v1.1h-1.1zM58 3h1.1v1.1h-1.1zM49 5h1.1v1.1h-1.1zM10 6h1.1v1.1h-1.1zM22 6h1.1v1.1h-1.1zM23 6h1.1v1.1h-1.1zM5 7h1.1v1.1h-1.1zM18 8h1.1v1.1h-1.1zM27 8h1.1v1.1h-1.1zM44 8h1.1v1.1h-1.1zM49 8h1.1v1.1h-1.1zM63 9h1.1v1.1h-1.1zM16 10h1.1v1.1h-1.1zM60 10h1.1v1.1h-1.1zM2 11h1.1v1.1h-1.1zM9 12h1.1v1.1h-1.1zM9 13h1.1v1.1h-1.1zM37 15h1.1v1.1h-1.1zM40 15h1.1v1.1h-1.1zM45 15h1.1v1.1h-1.1zM50 15h1.1v1.1h-1.1zM56 15h1.1v1.1h-1.1zM33 16h1.1v1.1h-1.1zM59 16h1.1v1.1h-1.1zM40 17h1.1v1.1h-1.1zM56 17h1.1v1.1h-1.1zM60 17h1.1v1.1h-1.1zM3 18h1.1v1.1h-1.1zM19 18h1.1v1.1h-1.1zM29 18h1.1v1.1h-1.1zM31 18h1.1v1.1h-1.1zM11 19h1.1v1.1h-1.1zM56 19h1.1v1.1h-1.1zM18 20h1.1v1.1h-1.1zM45 20h1.1v1.1h-1.1zM50 21h1.1v1.1h-1.1zM51 21h1.1v1.1h-1.1zM12 22h1.1v1.1h-1.1zM56 22h1.1v1.1h-1.1zM29 23h1.1v1.1h-1.1zM38 23h1.1v1.1h-1.1zM26 24h1.1v1.1h-1.1zM24 25h1.1v1.1h-1.1zM53 25h1.1v1.1h-1.1zM57 25h1.1v1.1h-1.1zM5 26h1.1v1.1h-1.1zM22 26h1.1v1.1h-1.1zM43 26h1.1v1.1h-1.1zM51 26h1.1v1.1h-1.1zM2 27h1.1v1.1h-1.1zM14 27h1.1v1.1h-1.1zM53 27h1.1v1.1h-1.1zM57 27h1.1v1.1h-1.1zM1 29h1.1v1.1h-1.1zM39 29h1.1v1.1h-1.1zM51 29h1.1v1.1h-1.1zM63 29h1.1v1.1h-1.1zM0 30h1.1v1.1h-1.1zM30 30h1.1v1.1h-1.1zM42 30h1.1v1.1h-1.1zM52 30h1.1v1.1h-1.1zM63 30h1.1v1.1h-1.1zM7 31h1.1v1.1h-1.1zM15 31h1.1v1.1h-1.1zM20 31h1.1v1.1h-1.1zM46 31h1.1v1.1h-1.1zM58 31h1.1v1.1h-1.1zM62 31h1.1v1.1h-1.1zM33 32h1.1v1.1h-1.1zM36 32h1.1v1.1h-1.1zM4 33h1.1v1.1h-1.1zM15 33h1.1v1.1h-1.1zM23 33h1.1v1.1h-1.1zM38 33h1.1v1.1h-1.1zM45 33h1.1v1.1h-1.1zM49 33h1.1v1.1h-1.1zM28 34h1.1v1.1h-1.1zM1 35h1.1v1.1h-1.1zM5 35h1.1v1.1h-1.1zM32 35h1.1v1.1h-1.1zM9 36h1.1v1.1h-1.1zM11 36h1.1v1.1h-1.1zM48 36h1.1v1.1h-1.1zM59 36h1.1v1.1h-1.1zM63 37h1.1v1.1h-1.1zM29 38h1.1v1.1h-1.1zM5 39h1.1v1.1h-1.1zM33 39h1.1v1.1h-1.1zM45 39h1.1v1.1h-1.1zM46 39h1.1v1.1h-1.1zM59 39h1.1v1.1h-1.1zM4 40h1.1v1.1h-1.1zM5 40h1.1v1.1h-1.1zM9 40h1.1v1.1h-1.1zM40 41h1.1v1.1h-1.1zM61 41h1.1v1.1h-1.1zM47 43h1.1v1.1h-1.1zM61 43h1.1v1.1h-1.1zM59 44h1.1v1.1h-1.1zM63 44h1.1v1.1h-1.1zM1 46h1.1v1.1h-1.1zM5 47h1.1v1.1h-1.1zM23 47h1.1v1.1h-1.1zM38 47h1.1v1.1h-1.1zM49 47h1.1v1.1h-1.1zM50 47h1.1v1.1h-1.1zM54 47h1.1v1.1h-1.1zM56 47h1.1v1.1h-1.1zM0 48h1.1v1.1h-1.1zM20 48h1.1v1.1h-1.1zM35 48h1.1v1.1h-1.1zM47 48h1.1v1.1h-1.1zM3 49h1.1v1.1h-1.1zM7 49h1.1v1.1h-1.1zM20 49h1.1v1.1h-1.1zM28 49h1.1v1.1h-1.1zM29 49h1.1v1.1h-1.1z"/>
<path fill="#f4ce78" d="M6 0h1.1v1.1h-1.1zM17 0h1.1v1.1h-1.1zM18 0h1.1v1.1h-1.1zM44 0h1.1v1.1h-1.1zM53 0h1.1v1.1h-1.1zM63 0h1.1v1.1h-1.1zM48 2h1.1v1.1h-1.1zM49 2h1.1v1.1h-1.1zM11 3h1.1v1.1h-1.1zM50 3h1.1v1.1h-1.1zM5 5h1.1v1.1h-1.1zM8 5h1.1v1.1h-1.1zM9 5h1.1v1.1h-1.1zM29 5h1.1v1.1h-1.1zM11 6h1.1v1.1h-1.1zM60 6h1.1v1.1h-1.1zM12 7h1.1v1.1h-1.1zM0 8h1.1v1.1h-1.1zM57 8h1.1v1.1h-1.1zM7 9h1.1v1.1h-1.1zM15 9h1.1v1.1h-1.1zM3 10h1.1v1.1h-1.1zM5 10h1.1v1.1h-1.1zM7 10h1.1v1.1h-1.1zM25 10h1.1v1.1h-1.1zM44 10h1.1v1.1h-1.1zM48 10h1.1v1.1h-1.1zM6 11h1.1v1.1h-1.1zM9 11h1.1v1.1h-1.1zM49 11h1.1v1.1h-1.1zM55 11h1.1v1.1h-1.1zM59 12h1.1v1.1h-1.1zM17 15h1.1v1.1h-1.1zM49 15h1.1v1.1h-1.1zM59 15h1.1v1.1h-1.1zM25 16h1.1v1.1h-1.1zM29 16h1.1v1.1h-1.1zM49 16h1.1v1.1h-1.1zM7 17h1.1v1.1h-1.1zM37 17h1.1v1.1h-1.1zM14 18h1.1v1.1h-1.1zM52 18h1.1v1.1h-1.1zM57 18h1.1v1.1h-1.1zM5 19h1.1v1.1h-1.1zM47 19h1.1v1.1h-1.1zM16 20h1.1v1.1h-1.1zM28 20h1.1v1.1h-1.1zM40 20h1.1v1.1h-1.1zM7 21h1.1v1.1h-1.1zM23 21h1.1v1.1h-1.1zM33 21h1.1v1.1h-1.1zM41 21h1.1v1.1h-1.1zM52 21h1.1v1.1h-1.1zM35 22h1.1v1.1h-1.1zM40 22h1.1v1.1h-1.1zM45 22h1.1v1.1h-1.1zM27 24h1.1v1.1h-1.1zM30 24h1.1v1.1h-1.1zM55 24h1.1v1.1h-1.1zM4 25h1.1v1.1h-1.1zM17 25h1.1v1.1h-1.1zM49 25h1.1v1.1h-1.1zM52 25h1.1v1.1h-1.1zM30 26h1.1v1.1h-1.1zM37 26h1.1v1.1h-1.1zM40 26h1.1v1.1h-1.1zM42 26h1.1v1.1h-1.1zM47 26h1.1v1.1h-1.1zM59 26h1.1v1.1h-1.1zM5 27h1.1v1.1h-1.1zM10 28h1.1v1.1h-1.1zM41 28h1.1v1.1h-1.1zM44 28h1.1v1.1h-1.1zM46 28h1.1v1.1h-1.1zM57 28h1.1v1.1h-1.1zM60 28h1.1v1.1h-1.1zM7 29h1.1v1.1h-1.1zM10 29h1.1v1.1h-1.1zM47 29h1.1v1.1h-1.1zM14 30h1.1v1.1h-1.1zM19 30h1.1v1.1h-1.1zM34 30h1.1v1.1h-1.1zM48 30h1.1v1.1h-1.1zM54 30h1.1v1.1h-1.1zM8 31h1.1v1.1h-1.1zM45 31h1.1v1.1h-1.1zM5 32h1.1v1.1h-1.1zM19 32h1.1v1.1h-1.1zM22 32h1.1v1.1h-1.1zM48 32h1.1v1.1h-1.1zM58 32h1.1v1.1h-1.1zM63 32h1.1v1.1h-1.1zM2 33h1.1v1.1h-1.1zM27 33h1.1v1.1h-1.1zM29 33h1.1v1.1h-1.1zM53 33h1.1v1.1h-1.1zM3 35h1.1v1.1h-1.1zM35 35h1.1v1.1h-1.1zM4 36h1.1v1.1h-1.1zM7 36h1.1v1.1h-1.1zM17 36h1.1v1.1h-1.1zM31 36h1.1v1.1h-1.1zM12 37h1.1v1.1h-1.1zM36 39h1.1v1.1h-1.1zM6 40h1.1v1.1h-1.1zM14 40h1.1v1.1h-1.1zM61 40h1.1v1.1h-1.1zM11 41h1.1v1.1h-1.1zM31 41h1.1v1.1h-1.1zM39 41h1.1v1.1h-1.1zM36 42h1.1v1.1h-1.1zM46 42h1.1v1.1h-1.1zM62 42h1.1v1.1h-1.1zM3 43h1.1v1.1h-1.1zM4 43h1.1v1.1h-1.1zM9 43h1.1v1.1h-1.1zM11 43h1.1v1.1h-1.1zM3 45h1.1v1.1h-1.1zM6 45h1.1v1.1h-1.1zM14 45h1.1v1.1h-1.1zM63 45h1.1v1.1h-1.1zM2 46h1.1v1.1h-1.1zM6 46h1.1v1.1h-1.1zM3 47h1.1v1.1h-1.1zM7 47h1.1v1.1h-1.1zM18 47h1.1v1.1h-1.1zM19 47h1.1v1.1h-1.1zM29 47h1.1v1.1h-1.1zM58 47h1.1v1.1h-1.1zM43 48h1.1v1.1h-1.1zM46 48h1.1v1.1h-1.1zM1 49h1.1v1.1h-1.1zM35 49h1.1v1.1h-1.1z"/>
<path fill="#f5c671" d="M8 0h1.1v1.1h-1.1zM9 0h1.1v1.1h-1.1zM22 0h1.1v1.1h-1.1zM23 0h1.1v1.1h-1.1zM36 0h1.1v1.1h-1.1zM19 1h1.1v1.1h-1.1zM32 1h1.1v1.1h-1.1zM60 2h1.1v1.1h-1.1zM0 3h1.1v1.1h-1.1zM4 3h1.1v1.1h-1.1zM55 3h1.1v1.1h-1.1zM0 5h1.1v1.1h-1.1zM11 7h1.1v1.1h-1.1zM44 7h1.1v1.1h-1.1zM51 7h1.1v1.1h-1.1zM6 8h1.1v1.1h-1.1zM6 9h1.1v1.1h-1.1zM9 9h1.1v1.1h-1.1zM28 9h1.1v1.1h-1.1zM60 9h1.1v1.1h-1.1zM4 10h1.1v1.1h-1.1zM10 10h1.1v1.1h-1.1zM35 10h1.1v1.1h-1.1zM3 11h1.1v1.1h-1.1zM0 12h1.1v1.1h-1.1zM10 12h1.1v1.1h-1.1zM22 12h1.1v1.1h-1.1zM6 13h1.1v1.1h-1.1zM60 13h1.1v1.1h-1.1zM3 14h1.1v1.1h-1.1zM55 14h1.1v1.1h-1.1zM42 15h1.1v1.1h-1.1zM47 15h1.1v1.1h-1.1zM54 15h1.1v1.1h-1.1zM62 15h1.1v1.1h-1.1zM13 16h1.1v1.1h-1.1zM11 17h1.1v1.1h-1.1zM26 17h1.1v1.1h-1.1zM43 17h1.1v1.1h-1.1zM45 17h1.1v1.1h-1.1zM37 18h1.1v1.1h-1.1zM58 18h1.1v1.1h-1.1zM17 19h1.1v1.1h-1.1zM20 19h1.1v1.1h-1.1zM27 19h1.1v1.1h-1.1zM28 19h1.1v1.1h-1.1zM33 19h1.1v1.1h-1.1zM43 19h1.1v1.1h-1.1zM60 19h1.1v1.1h-1.1zM29 20h1.1v1.1h-1.1zM25 21h1.1v1.1h-1.1zM39 21h1.1v1.1h-1.1zM40 21h1.1v1.1h-1.1zM11 22h1.1v1.1h-1.1zM39 22h1.1v1.1h-1.1zM46 22h1.1v1.1h-1.1zM11 23h1.1v1.1h-1.1zM19 23h1.1v1.1h-1.1zM30 23h1.1v1.1h-1.1zM55 23h1.1v1.1h-1.1zM63 23h1.1v1.1h-1.1zM10 25h1.1v1.1h-1.1zM36 25h1.1v1.1h-1.1zM38 25h1.1v1.1h-1.1zM60 25h1.1v1.1h-1.1zM1 26h1.1v1.1h-1.1zM10 26h1.1v1.1h-1.1zM27 26h1.1v1.1h-1.1zM55 26h1.1v1.1h-1.1zM56 26h1.1v1.1h-1.1zM63 26h1.1v1.1h-1.1zM19 27h1.1v1.1h-1.1zM48 27h1.1v1.1h-1.1zM50 27h1.1v1.1h-1.1zM14 28h1.1v1.1h-1.1zM34 28h1.1v1.1h-1.1zM45 28h1.1v1.1h-1.1zM19 29h1.1v1.1h-1.1zM33 29h1.1v1.1h-1.1zM18 30h1.1v1.1h-1.1zM21 30h1.1v1.1h-1.1zM43 32h1.1v1.1h-1.1zM59 32h1.1v1.1h-1.1zM61 32h1.1v1.1h-1.1zM12 33h1.1v1.1h-1.1zM31 33h1.1v1.1h-1.1zM2 35h1.1v1.1h-1.1zM9 35h1.1v1.1h-1.1zM13 35h1.1v1.1h-1.1zM41 35h1.1v1.1h-1.1zM47 35h1.1v1.1h-1.1zM60 35h1.1v1.1h-1.1zM14 36h1.1v1.1h-1.1zM16 36h1.1v1.1h-1.1zM14 37h1.1v1.1h-1.1zM16 37h1.1v1.1h-1.1zM1 38h1.1v1.1h-1.1zM20 38h1.1v1.1h-1.1zM7 39h1.1v1.1h-1.1zM10 39h1.1v1.1h-1.1zM16 39h1.1v1.1h-1.1zM26 39h1.1v1.1h-1.1zM32 39h1.1v1.1h-1.1zM47 39h1.1v1.1h-1.1zM7 40h1.1v1.1h-1.1zM0 41h1.1v1.1h-1.1zM30 41h1.1v1.1h-1.1zM46 41h1.1v1.1h-1.1zM23 42h1.1v1.1h-1.1zM44 43h1.1v1.1h-1.1zM9 44h1.1v1.1h-1.1zM55 44h1.1v1.1h-1.1zM1 45h1.1v1.1h-1.1zM17 45h1.1v1.1h-1.1zM3 46h1.1v1.1h-1.1zM7 46h1.1v1.1h-1.1zM9 46h1.1v1.1h-1.1zM12 46h1.1v1.1h-1.1zM14 46h1.1v1.1h-1.1zM18 46h1.1v1.1h-1.1zM60 46h1.1v1.1h-1.1zM2 47h1.1v1.1h-1.1zM32 47h1.1v1.1h-1.1zM48 47h1.1v1.1h-1.1zM9 48h1.1v1.1h-1.1zM12 48h1.1v1.1h-1.1zM52 48h1.1v1.1h-1.1zM14 49h1.1v1.1h-1.1zM42 49h1.1v1.1h-1.1zM47 49h1.1v1.1h-1.1zM59 49h1.1v1.1h-1.1zM62 49h1.1v1.1h-1.1z"/>
<path fill="#c6be98" d="M10 0h1.1v1.1h-1.1zM14 0h1.1v1.1h-1.1zM27 0h1.1v1.1h-1.1zM41 0h1.1v1.1h-1.1zM9 1h1.1v1.1h-1.1zM36 1h1.1v1.1h-1.1zM40 1h1.1v1.1h-1.1zM46 1h1.1v1.1h-1.1zM6 2h1.1v1.1h-1.1zM62 2h1.1v1.1h-1.1zM41 3h1.1v1.1h-1.1zM47 3h1.1v1.1h-1.1zM59 3h1.1v1.1h-1.1zM6 4h1.1v1.1h-1.1zM45 4h1.1v1.1h-1.1zM53 4h1.1v1.1h-1.1zM10 5h1.1v1.1h-1.1zM36 5h1.1v1.1h-1.1zM46 5h1.1v1.1h-1.1zM48 5h1.1v1.1h-1.1zM4 6h1.1v1.1h-1.1zM45 6h1.1v1.1h-1.1zM46 6h1.1v1.1h-1.1zM37 7h1.1v1.1h-1.1zM39 7h1.1v1.1h-1.1zM40 7h1.1v1.1h-1.1zM5 8h1.1v1.1h-1.1zM12 8h1.1v1.1h-1.1zM29 8h1.1v1.1h-1.1zM47 8h1.1v1.1h-1.1zM46 9h1.1v1.1h-1.1zM56 9h1.1v1.1h-1.1zM57 9h1.1v1.1h-1.1zM50 10h1.1v1.1h-1.1zM1 11h1.1v1.1h-1.1zM4 12h1.1v1.1h-1.1zM53 12h1.1v1.1h-1.1zM60 12h1.1v1.1h-1.1zM0 13h1.1v1.1h-1.1zM32 13h1.1v1.1h-1.1zM40 13h1.1v1.1h-1.1zM47 13h1.1v1.1h-1.1zM59 13h1.1v1.1h-1.1zM61 13h1.1v1.1h-1.1zM62 13h1.1v1.1h-1.1zM1 14h1.1v1.1h-1.1zM38 14h1.1v1.1h-1.1zM39 14h1.1v1.1h-1.1zM53 14h1.1v1.1h-1.1zM54 14h1.1v1.1h-1.1zM21 15h1.1v1.1h-1.1zM24 15h1.1v1.1h-1.1zM42 16h1.1v1.1h-1.1zM44 16h1.1v1.1h-1.1zM32 17h1.1v1.1h-1.1zM18 18h1.1v1.1h-1.1zM24 18h1.1v1.1h-1.1zM38 18h1.1v1.1h-1.1zM39 18h1.1v1.1h-1.1zM7 19h1.1v1.1h-1.1zM14 19h1.1v1.1h-1.1zM38 19h1.1v1.1h-1.1zM55 19h1.1v1.1h-1.1zM9 20h1.1v1.1h-1.1zM31 20h1.1v1.1h-1.1zM1 21h1.1v1.1h-1.1zM16 21h1.1v1.1h-1.1zM46 21h1.1v1.1h-1.1zM16 22h1.1v1.1h-1.1zM25 22h1.1v1.1h-1.1zM37 22h1.1v1.1h-1.1zM42 22h1.1v1.1h-1.1zM9 23h1.1v1.1h-1.1zM28 23h1.1v1.1h-1.1zM7 24h1.1v1.1h-1.1zM25 24h1.1v1.1h-1.1zM38 24h1.1v1.1h-1.1zM51 24h1.1v1.1h-1.1zM62 24h1.1v1.1h-1.1zM35 25h1.1v1.1h-1.1zM51 25h1.1v1.1h-1.1zM41 26h1.1v1.1h-1.1zM31 27h1.1v1.1h-1.1zM11 28h1.1v1.1h-1.1zM23 28h1.1v1.1h-1.1zM10 30h1.1v1.1h-1.1zM23 31h1.1v1.1h-1.1zM27 31h1.1v1.1h-1.1zM0 32h1.1v1.1h-1.1zM4 32h1.1v1.1h-1.1zM46 32h1.1v1.1h-1.1zM57 32h1.1v1.1h-1.1zM58 33h1.1v1.1h-1.1zM2 34h1.1v1.1h-1.1zM9 34h1.1v1.1h-1.1zM15 34h1.1v1.1h-1.1zM33 34h1.1v1.1h-1.1zM37 34h1.1v1.1h-1.1zM40 34h1.1v1.1h-1.1zM46 34h1.1v1.1h-1.1zM57 34h1.1v1.1h-1.1zM49 35h1.1v1.1h-1.1zM52 35h1.1v1.1h-1.1zM33 36h1.1v1.1h-1.1zM56 36h1.1v1.1h-1.1zM9 37h1.1v1.1h-1.1zM28 37h1.1v1.1h-1.1zM34 37h1.1v1.1h-1.1zM39 37h1.1v1.1h-1.1zM54 37h1.1v1.1h-1.1zM55 37h1.1v1.1h-1.1zM57 37h1.1v1.1h-1.1zM62 37h1.1v1.1h-1.1zM61 39h1.1v1.1h-1.1zM34 40h1.1v1.1h-1.1zM36 40h1.1v1.1h-1.1zM37 40h1.1v1.1h-1.1zM38 40h1.1v1.1h-1.1zM53 40h1.1v1.1h-1.1zM42 42h1.1v1.1h-1.1zM54 42h1.1v1.1h-1.1zM1 43h1.1v1.1h-1.1zM5 43h1.1v1.1h-1.1zM33 43h1.1v1.1h-1.1zM43 43h1.1v1.1h-1.1zM58 43h1.1v1.1h-1.1zM2 44h1.1v1.1h-1.1zM41 44h1.1v1.1h-1.1zM45 44h1.1v1.1h-1.1zM49 44h1.1v1.1h-1.1zM51 44h1.1v1.1h-1.1zM54 44h1.1v1.1h-1.1zM12 45h1.1v1.1h-1.1zM32 45h1.1v1.1h-1.1zM35 45h1.1v1.1h-1.1zM39 45h1.1v1.1h-1.1zM45 45h1.1v1.1h-1.1zM43 46h1.1v1.1h-1.1zM52 46h1.1v1.1h-1.1zM8 47h1.1v1.1h-1.1zM27 49h1.1v1.1h-1.1zM58 49h1.1v1.1h-1.1z"/>
<path fill="#e1532d" d="M11 0h1.1v1.1h-1.1zM24 0h1.1v1.1h-1.1zM25 1h1.1v1.1h-1.1zM24 2h1.1v1.1h-1.1zM27 3h1.1v1.1h-1.1zM17 4h1.1v1.1h-1.1zM20 4h1.1v1.1h-1.1zM26 4h1.1v1.1h-1.1zM30 4h1.1v1.1h-1.1zM16 5h1.1v1.1h-1.1zM20 5h1.1v1.1h-1.1zM17 6h1.1v1.1h-1.1zM24 6h1.1v1.1h-1.1zM26 6h1.1v1.1h-1.1zM29 6h1.1v1.1h-1.1zM31 6h1.1v1.1h-1.1zM21 7h1.1v1.1h-1.1zM25 8h1.1v1.1h-1.1zM23 9h1.1v1.1h-1.1zM11 10h1.1v1.1h-1.1zM23 10h1.1v1.1h-1.1zM25 11h1.1v1.1h-1.1zM59 11h1.1v1.1h-1.1zM30 12h1.1v1.1h-1.1zM20 13h1.1v1.1h-1.1zM22 13h1.1v1.1h-1.1zM25 13h1.1v1.1h-1.1zM19 14h1.1v1.1h-1.1zM21 14h1.1v1.1h-1.1zM53 15h1.1v1.1h-1.1zM1 18h1.1v1.1h-1.1zM16 18h1.1v1.1h-1.1zM32 18h1.1v1.1h-1.1zM33 18h1.1v1.1h-1.1zM45 18h1.1v1.1h-1.1zM46 18h1.1v1.1h-1.1zM47 18h1.1v1.1h-1.1zM58 19h1.1v1.1h-1.1zM60 20h1.1v1.1h-1.1zM53 21h1.1v1.1h-1.1zM5 23h1.1v1.1h-1.1zM25 25h1.1v1.1h-1.1zM11 26h1.1v1.1h-1.1zM12 26h1.1v1.1h-1.1zM3 27h1.1v1.1h-1.1zM8 27h1.1v1.1h-1.1zM41 27h1.1v1.1h-1.1zM58 27h1.1v1.1h-1.1zM48 29h1.1v1.1h-1.1zM44 30h1.1v1.1h-1.1zM3 32h1.1v1.1h-1.1zM24 32h1.1v1.1h-1.1zM30 32h1.1v1.1h-1.1zM31 32h1.1v1.1h-1.1zM0 33h1.1v1.1h-1.1zM50 33h1.1v1.1h-1.1zM55 33h1.1v1.1h-1.1zM60 33h1.1v1.1h-1.1zM20 35h1.1v1.1h-1.1zM23 35h1.1v1.1h-1.1zM24 35h1.1v1.1h-1.1zM31 35h1.1v1.1h-1.1zM27 36h1.1v1.1h-1.1zM28 36h1.1v1.1h-1.1zM19 37h1.1v1.1h-1.1zM26 37h1.1v1.1h-1.1zM27 38h1.1v1.1h-1.1zM27 39h1.1v1.1h-1.1zM0 40h1.1v1.1h-1.1zM17 40h1.1v1.1h-1.1zM41 41h1.1v1.1h-1.1zM30 42h1.1v1.1h-1.1zM63 42h1.1v1.1h-1.1zM25 43h1.1v1.1h-1.1zM28 43h1.1v1.1h-1.1zM29 43h1.1v1.1h-1.1zM23 44h1.1v1.1h-1.1zM24 46h1.1v1.1h-1.1zM26 46h1.1v1.1h-1.1zM30 46h1.1v1.1h-1.1zM24 47h1.1v1.1h-1.1zM37 47h1.1v1.1h-1.1zM21 48h1.1v1.1h-1.1zM52 49h1.1v1.1h-1.1z"/>
<path fill="#dd4528" d="M13 0h1.1v1.1h-1.1zM61 0h1.1v1.1h-1.1zM61 1h1.1v1.1h-1.1zM18 3h1.1v1.1h-1.1zM19 3h1.1v1.1h-1.1zM22 3h1.1v1.1h-1.1zM28 3h1.1v1.1h-1.1zM31 3h1.1v1.1h-1.1zM24 4h1.1v1.1h-1.1zM24 5h1.1v1.1h-1.1zM26 5h1.1v1.1h-1.1zM20 6h1.1v1.1h-1.1zM25 7h1.1v1.1h-1.1zM30 7h1.1v1.1h-1.1zM16 8h1.1v1.1h-1.1zM19 8h1.1v1.1h-1.1zM23 8h1.1v1.1h-1.1zM26 8h1.1v1.1h-1.1zM18 9h1.1v1.1h-1.1zM20 9h1.1v1.1h-1.1zM25 9h1.1v1.1h-1.1zM26 9h1.1v1.1h-1.1zM31 9h1.1v1.1h-1.1zM12 10h1.1v1.1h-1.1zM19 11h1.1v1.1h-1.1zM26 11h1.1v1.1h-1.1zM31 11h1.1v1.1h-1.1zM26 12h1.1v1.1h-1.1zM23 13h1.1v1.1h-1.1zM24 13h1.1v1.1h-1.1zM26 13h1.1v1.1h-1.1zM26 14h1.1v1.1h-1.1zM30 14h1.1v1.1h-1.1zM10 21h1.1v1.1h-1.1zM55 21h1.1v1.1h-1.1zM24 24h1.1v1.1h-1.1zM40 24h1.1v1.1h-1.1zM14 25h1.1v1.1h-1.1zM26 27h1.1v1.1h-1.1zM38 27h1.1v1.1h-1.1zM47 27h1.1v1.1h-1.1zM5 31h1.1v1.1h-1.1zM55 31h1.1v1.1h-1.1zM14 32h1.1v1.1h-1.1zM17 32h1.1v1.1h-1.1zM20 32h1.1v1.1h-1.1zM29 32h1.1v1.1h-1.1zM41 32h1.1v1.1h-1.1zM14 33h1.1v1.1h-1.1zM30 33h1.1v1.1h-1.1zM36 33h1.1v1.1h-1.1zM52 33h1.1v1.1h-1.1zM18 35h1.1v1.1h-1.1zM28 35h1.1v1.1h-1.1zM29 35h1.1v1.1h-1.1zM22 37h1.1v1.1h-1.1zM23 38h1.1v1.1h-1.1zM24 38h1.1v1.1h-1.1zM25 38h1.1v1.1h-1.1zM26 38h1.1v1.1h-1.1zM0 39h1.1v1.1h-1.1zM22 39h1.1v1.1h-1.1zM28 39h1.1v1.1h-1.1zM21 40h1.1v1.1h-1.1zM26 40h1.1v1.1h-1.1zM55 41h1.1v1.1h-1.1zM63 41h1.1v1.1h-1.1zM24 43h1.1v1.1h-1.1zM30 43h1.1v1.1h-1.1zM20 44h1.1v1.1h-1.1zM30 45h1.1v1.1h-1.1zM30 47h1.1v1.1h-1.1zM24 48h1.1v1.1h-1.1zM29 48h1.1v1.1h-1.1zM45 48h1.1v1.1h-1.1zM60 48h1.1v1.1h-1.1zM55 49h1.1v1.1h-1.1zM61 49h1.1v1.1h-1.1z"/>
<path fill="#d1c794" d="M15 0h1.1v1.1h-1.1zM31 0h1.1v1.1h-1.1zM17 1h1.1v1.1h-1.1zM24 1h1.1v1.1h-1.1zM5 2h1.1v1.1h-1.1zM38 2h1.1v1.1h-1.1zM32 3h1.1v1.1h-1.1zM42 3h1.1v1.1h-1.1zM43 3h1.1v1.1h-1.1zM53 3h1.1v1.1h-1.1zM19 4h1.1v1.1h-1.1zM49 4h1.1v1.1h-1.1zM13 5h1.1v1.1h-1.1zM31 5h1.1v1.1h-1.1zM59 6h1.1v1.1h-1.1zM33 7h1.1v1.1h-1.1zM35 7h1.1v1.1h-1.1zM47 7h1.1v1.1h-1.1zM59 7h1.1v1.1h-1.1zM45 8h1.1v1.1h-1.1zM54 8h1.1v1.1h-1.1zM56 8h1.1v1.1h-1.1zM3 9h1.1v1.1h-1.1zM40 9h1.1v1.1h-1.1zM62 9h1.1v1.1h-1.1zM8 10h1.1v1.1h-1.1zM33 10h1.1v1.1h-1.1zM34 10h1.1v1.1h-1.1zM36 10h1.1v1.1h-1.1zM42 10h1.1v1.1h-1.1zM43 10h1.1v1.1h-1.1zM58 10h1.1v1.1h-1.1zM4 11h1.1v1.1h-1.1zM53 11h1.1v1.1h-1.1zM56 11h1.1v1.1h-1.1zM62 11h1.1v1.1h-1.1zM5 12h1.1v1.1h-1.1zM6 12h1.1v1.1h-1.1zM34 13h1.1v1.1h-1.1zM50 13h1.1v1.1h-1.1zM32 14h1.1v1.1h-1.1zM36 14h1.1v1.1h-1.1zM51 14h1.1v1.1h-1.1zM10 15h1.1v1.1h-1.1zM19 15h1.1v1.1h-1.1zM3 16h1.1v1.1h-1.1zM27 16h1.1v1.1h-1.1zM52 16h1.1v1.1h-1.1zM24 17h1.1v1.1h-1.1zM27 17h1.1v1.1h-1.1zM36 17h1.1v1.1h-1.1zM4 18h1.1v1.1h-1.1zM34 18h1.1v1.1h-1.1zM63 18h1.1v1.1h-1.1zM15 19h1.1v1.1h-1.1zM32 20h1.1v1.1h-1.1zM58 20h1.1v1.1h-1.1zM62 20h1.1v1.1h-1.1zM57 22h1.1v1.1h-1.1zM60 23h1.1v1.1h-1.1zM61 23h1.1v1.1h-1.1zM2 25h1.1v1.1h-1.1zM16 25h1.1v1.1h-1.1zM50 25h1.1v1.1h-1.1zM58 25h1.1v1.1h-1.1zM54 26h1.1v1.1h-1.1zM61 26h1.1v1.1h-1.1zM43 27h1.1v1.1h-1.1zM51 27h1.1v1.1h-1.1zM33 28h1.1v1.1h-1.1zM49 28h1.1v1.1h-1.1zM56 28h1.1v1.1h-1.1zM22 29h1.1v1.1h-1.1zM27 30h1.1v1.1h-1.1zM19 31h1.1v1.1h-1.1zM9 32h1.1v1.1h-1.1zM54 32h1.1v1.1h-1.1zM20 33h1.1v1.1h-1.1zM1 34h1.1v1.1h-1.1zM53 34h1.1v1.1h-1.1zM62 34h1.1v1.1h-1.1zM53 35h1.1v1.1h-1.1zM10 36h1.1v1.1h-1.1zM36 36h1.1v1.1h-1.1zM45 36h1.1v1.1h-1.1zM55 36h1.1v1.1h-1.1zM57 36h1.1v1.1h-1.1zM46 37h1.1v1.1h-1.1zM11 38h1.1v1.1h-1.1zM14 38h1.1v1.1h-1.1zM16 38h1.1v1.1h-1.1zM32 38h1.1v1.1h-1.1zM33 38h1.1v1.1h-1.1zM37 38h1.1v1.1h-1.1zM48 38h1.1v1.1h-1.1zM53 38h1.1v1.1h-1.1zM41 39h1.1v1.1h-1.1zM52 39h1.1v1.1h-1.1zM53 39h1.1v1.1h-1.1zM62 39h1.1v1.1h-1.1zM32 40h1.1v1.1h-1.1zM51 40h1.1v1.1h-1.1zM56 40h1.1v1.1h-1.1zM18 41h1.1v1.1h-1.1zM23 41h1.1v1.1h-1.1zM24 41h1.1v1.1h-1.1zM5 42h1.1v1.1h-1.1zM41 42h1.1v1.1h-1.1zM37 43h1.1v1.1h-1.1zM39 43h1.1v1.1h-1.1zM52 43h1.1v1.1h-1.1zM57 43h1.1v1.1h-1.1zM15 44h1.1v1.1h-1.1zM0 45h1.1v1.1h-1.1zM46 45h1.1v1.1h-1.1zM8 46h1.1v1.1h-1.1zM15 46h1.1v1.1h-1.1zM35 46h1.1v1.1h-1.1zM42 46h1.1v1.1h-1.1zM31 47h1.1v1.1h-1.1zM53 47h1.1v1.1h-1.1zM56 48h1.1v1.1h-1.1zM58 48h1.1v1.1h-1.1z"/>
<path fill="#f3a659" d="M19 0h1.1v1.1h-1.1zM21 0h1.1v1.1h-1.1zM25 0h1.1v1.1h-1.1zM46 0h1.1v1.1h-1.1zM48 0h1.1v1.1h-1.1zM56 0h1.1v1.1h-1.1zM57 0h1.1v1.1h-1.1zM57 1h1.1v1.1h-1.1zM16 2h1.1v1.1h-1.1zM58 2h1.1v1.1h-1.1zM46 3h1.1v1.1h-1.1zM16 4h1.1v1.1h-1.1zM27 4h1.1v1.1h-1.1zM60 5h1.1v1.1h-1.1zM48 6h1.1v1.1h-1.1zM16 7h1.1v1.1h-1.1zM22 7h1.1v1.1h-1.1zM61 7h1.1v1.1h-1.1zM7 8h1.1v1.1h-1.1zM52 8h1.1v1.1h-1.1zM7 11h1.1v1.1h-1.1zM19 12h1.1v1.1h-1.1zM28 12h1.1v1.1h-1.1zM5 13h1.1v1.1h-1.1zM11 14h1.1v1.1h-1.1zM18 14h1.1v1.1h-1.1zM41 15h1.1v1.1h-1.1zM44 15h1.1v1.1h-1.1zM51 15h1.1v1.1h-1.1zM52 15h1.1v1.1h-1.1zM11 16h1.1v1.1h-1.1zM24 16h1.1v1.1h-1.1zM30 16h1.1v1.1h-1.1zM41 16h1.1v1.1h-1.1zM48 16h1.1v1.1h-1.1zM19 17h1.1v1.1h-1.1zM35 17h1.1v1.1h-1.1zM41 17h1.1v1.1h-1.1zM59 17h1.1v1.1h-1.1zM17 18h1.1v1.1h-1.1zM41 18h1.1v1.1h-1.1zM42 18h1.1v1.1h-1.1zM4 19h1.1v1.1h-1.1zM61 19h1.1v1.1h-1.1zM4 20h1.1v1.1h-1.1zM14 20h1.1v1.1h-1.1zM19 20h1.1v1.1h-1.1zM24 20h1.1v1.1h-1.1zM26 20h1.1v1.1h-1.1zM44 20h1.1v1.1h-1.1zM48 20h1.1v1.1h-1.1zM63 20h1.1v1.1h-1.1zM2 21h1.1v1.1h-1.1zM17 21h1.1v1.1h-1.1zM7 22h1.1v1.1h-1.1zM8 22h1.1v1.1h-1.1zM58 23h1.1v1.1h-1.1zM1 24h1.1v1.1h-1.1zM13 24h1.1v1.1h-1.1zM54 24h1.1v1.1h-1.1zM59 24h1.1v1.1h-1.1zM1 25h1.1v1.1h-1.1zM29 25h1.1v1.1h-1.1zM47 25h1.1v1.1h-1.1zM19 26h1.1v1.1h-1.1zM7 27h1.1v1.1h-1.1zM32 27h1.1v1.1h-1.1zM34 27h1.1v1.1h-1.1zM40 29h1.1v1.1h-1.1zM55 29h1.1v1.1h-1.1zM2 30h1.1v1.1h-1.1zM12 30h1.1v1.1h-1.1zM11 31h1.1v1.1h-1.1zM34 31h1.1v1.1h-1.1zM35 31h1.1v1.1h-1.1zM54 31h1.1v1.1h-1.1zM13 32h1.1v1.1h-1.1zM18 32h1.1v1.1h-1.1zM42 32h1.1v1.1h-1.1zM62 32h1.1v1.1h-1.1zM57 33h1.1v1.1h-1.1zM21 34h1.1v1.1h-1.1zM6 35h1.1v1.1h-1.1zM54 35h1.1v1.1h-1.1zM57 35h1.1v1.1h-1.1zM0 38h1.1v1.1h-1.1zM6 39h1.1v1.1h-1.1zM11 39h1.1v1.1h-1.1zM55 39h1.1v1.1h-1.1zM60 39h1.1v1.1h-1.1zM1 40h1.1v1.1h-1.1zM51 41h1.1v1.1h-1.1zM22 42h1.1v1.1h-1.1zM29 42h1.1v1.1h-1.1zM22 43h1.1v1.1h-1.1zM19 44h1.1v1.1h-1.1zM21 44h1.1v1.1h-1.1zM9 45h1.1v1.1h-1.1zM21 45h1.1v1.1h-1.1zM63 46h1.1v1.1h-1.1zM4 47h1.1v1.1h-1.1zM20 47h1.1v1.1h-1.1zM35 47h1.1v1.1h-1.1zM45 47h1.1v1.1h-1.1zM55 47h1.1v1.1h-1.1zM59 47h1.1v1.1h-1.1zM63 47h1.1v1.1h-1.1zM22 48h1.1v1.1h-1.1zM27 48h1.1v1.1h-1.1zM24 49h1.1v1.1h-1.1zM31 49h1.1v1.1h-1.1z"/>
<path fill="#ee8a48" d="M20 0h1.1v1.1h-1.1zM29 0h1.1v1.1h-1.1zM55 0h1.1v1.1h-1.1zM60 1h1.1v1.1h-1.1zM17 2h1.1v1.1h-1.1zM18 2h1.1v1.1h-1.1zM23 2h1.1v1.1h-1.1zM25 3h1.1v1.1h-1.1zM10 4h1.1v1.1h-1.1zM12 5h1.1v1.1h-1.1zM58 5h1.1v1.1h-1.1zM18 7h1.1v1.1h-1.1zM28 7h1.1v1.1h-1.1zM10 8h1.1v1.1h-1.1zM16 9h1.1v1.1h-1.1zM9 10h1.1v1.1h-1.1zM18 10h1.1v1.1h-1.1zM54 10h1.1v1.1h-1.1zM11 11h1.1v1.1h-1.1zM21 11h1.1v1.1h-1.1zM24 11h1.1v1.1h-1.1zM27 11h1.1v1.1h-1.1zM28 11h1.1v1.1h-1.1zM11 12h1.1v1.1h-1.1zM24 12h1.1v1.1h-1.1zM29 12h1.1v1.1h-1.1zM10 13h1.1v1.1h-1.1zM16 13h1.1v1.1h-1.1zM21 13h1.1v1.1h-1.1zM51 13h1.1v1.1h-1.1zM6 14h1.1v1.1h-1.1zM16 14h1.1v1.1h-1.1zM23 14h1.1v1.1h-1.1zM56 14h1.1v1.1h-1.1zM26 15h1.1v1.1h-1.1zM58 15h1.1v1.1h-1.1zM1 16h1.1v1.1h-1.1zM61 16h1.1v1.1h-1.1zM20 17h1.1v1.1h-1.1zM40 18h1.1v1.1h-1.1zM55 18h1.1v1.1h-1.1zM25 19h1.1v1.1h-1.1zM37 19h1.1v1.1h-1.1zM62 19h1.1v1.1h-1.1zM15 21h1.1v1.1h-1.1zM35 21h1.1v1.1h-1.1zM38 21h1.1v1.1h-1.1zM9 22h1.1v1.1h-1.1zM10 22h1.1v1.1h-1.1zM14 22h1.1v1.1h-1.1zM28 22h1.1v1.1h-1.1zM48 22h1.1v1.1h-1.1zM13 23h1.1v1.1h-1.1zM8 24h1.1v1.1h-1.1zM16 24h1.1v1.1h-1.1zM3 25h1.1v1.1h-1.1zM5 25h1.1v1.1h-1.1zM55 25h1.1v1.1h-1.1zM59 25h1.1v1.1h-1.1zM26 26h1.1v1.1h-1.1zM33 26h1.1v1.1h-1.1zM45 26h1.1v1.1h-1.1zM46 26h1.1v1.1h-1.1zM42 27h1.1v1.1h-1.1zM61 27h1.1v1.1h-1.1zM37 29h1.1v1.1h-1.1zM42 29h1.1v1.1h-1.1zM60 29h1.1v1.1h-1.1zM23 30h1.1v1.1h-1.1zM35 30h1.1v1.1h-1.1zM51 30h1.1v1.1h-1.1zM55 30h1.1v1.1h-1.1zM24 31h1.1v1.1h-1.1zM2 32h1.1v1.1h-1.1zM28 32h1.1v1.1h-1.1zM1 33h1.1v1.1h-1.1zM6 33h1.1v1.1h-1.1zM28 33h1.1v1.1h-1.1zM54 33h1.1v1.1h-1.1zM22 34h1.1v1.1h-1.1zM23 34h1.1v1.1h-1.1zM23 36h1.1v1.1h-1.1zM63 36h1.1v1.1h-1.1zM25 37h1.1v1.1h-1.1zM23 39h1.1v1.1h-1.1zM48 39h1.1v1.1h-1.1zM11 40h1.1v1.1h-1.1zM27 40h1.1v1.1h-1.1zM60 40h1.1v1.1h-1.1zM42 41h1.1v1.1h-1.1zM44 41h1.1v1.1h-1.1zM47 41h1.1v1.1h-1.1zM59 41h1.1v1.1h-1.1zM19 42h1.1v1.1h-1.1zM20 42h1.1v1.1h-1.1zM21 42h1.1v1.1h-1.1zM25 42h1.1v1.1h-1.1zM10 43h1.1v1.1h-1.1zM32 43h1.1v1.1h-1.1zM63 43h1.1v1.1h-1.1zM18 44h1.1v1.1h-1.1zM11 45h1.1v1.1h-1.1zM29 45h1.1v1.1h-1.1zM29 46h1.1v1.1h-1.1zM6 47h1.1v1.1h-1.1zM13 47h1.1v1.1h-1.1zM34 47h1.1v1.1h-1.1zM41 47h1.1v1.1h-1.1z"/>
<path fill="#ec7c40" d="M28 0h1.1v1.1h-1.1zM49 0h1.1v1.1h-1.1zM54 1h1.1v1.1h-1.1zM62 1h1.1v1.1h-1.1zM20 2h1.1v1.1h-1.1zM22 2h1.1v1.1h-1.1zM27 2h1.1v1.1h-1.1zM60 3h1.1v1.1h-1.1zM18 4h1.1v1.1h-1.1zM23 4h1.1v1.1h-1.1zM25 4h1.1v1.1h-1.1zM16 6h1.1v1.1h-1.1zM21 6h1.1v1.1h-1.1zM28 6h1.1v1.1h-1.1zM19 7h1.1v1.1h-1.1zM10 9h1.1v1.1h-1.1zM11 9h1.1v1.1h-1.1zM20 10h1.1v1.1h-1.1zM28 10h1.1v1.1h-1.1zM16 11h1.1v1.1h-1.1zM17 11h1.1v1.1h-1.1zM18 11h1.1v1.1h-1.1zM20 11h1.1v1.1h-1.1zM22 11h1.1v1.1h-1.1zM18 12h1.1v1.1h-1.1zM31 12h1.1v1.1h-1.1zM27 13h1.1v1.1h-1.1zM9 14h1.1v1.1h-1.1zM29 14h1.1v1.1h-1.1zM33 15h1.1v1.1h-1.1zM48 15h1.1v1.1h-1.1zM61 15h1.1v1.1h-1.1zM31 16h1.1v1.1h-1.1zM40 16h1.1v1.1h-1.1zM63 16h1.1v1.1h-1.1zM62 17h1.1v1.1h-1.1zM22 18h1.1v1.1h-1.1zM44 18h1.1v1.1h-1.1zM51 18h1.1v1.1h-1.1zM52 19h1.1v1.1h-1.1zM57 19h1.1v1.1h-1.1zM51 20h1.1v1.1h-1.1zM32 21h1.1v1.1h-1.1zM44 21h1.1v1.1h-1.1zM63 21h1.1v1.1h-1.1zM26 22h1.1v1.1h-1.1zM4 23h1.1v1.1h-1.1zM14 23h1.1v1.1h-1.1zM26 23h1.1v1.1h-1.1zM15 24h1.1v1.1h-1.1zM19 25h1.1v1.1h-1.1zM28 25h1.1v1.1h-1.1zM33 25h1.1v1.1h-1.1zM4 26h1.1v1.1h-1.1zM44 26h1.1v1.1h-1.1zM6 27h1.1v1.1h-1.1zM24 29h1.1v1.1h-1.1zM30 29h1.1v1.1h-1.1zM44 29h1.1v1.1h-1.1zM20 30h1.1v1.1h-1.1zM26 30h1.1v1.1h-1.1zM0 31h1.1v1.1h-1.1zM4 31h1.1v1.1h-1.1zM6 31h1.1v1.1h-1.1zM26 31h1.1v1.1h-1.1zM26 32h1.1v1.1h-1.1zM34 32h1.1v1.1h-1.1zM0 34h1.1v1.1h-1.1zM11 34h1.1v1.1h-1.1zM20 34h1.1v1.1h-1.1zM25 34h1.1v1.1h-1.1zM26 34h1.1v1.1h-1.1zM27 34h1.1v1.1h-1.1zM11 35h1.1v1.1h-1.1zM8 36h1.1v1.1h-1.1zM22 36h1.1v1.1h-1.1zM17 37h1.1v1.1h-1.1zM20 37h1.1v1.1h-1.1zM22 38h1.1v1.1h-1.1zM31 38h1.1v1.1h-1.1zM19 40h1.1v1.1h-1.1zM31 40h1.1v1.1h-1.1zM38 41h1.1v1.1h-1.1zM62 41h1.1v1.1h-1.1zM16 42h1.1v1.1h-1.1zM17 42h1.1v1.1h-1.1zM18 42h1.1v1.1h-1.1zM19 43h1.1v1.1h-1.1zM29 44h1.1v1.1h-1.1zM20 45h1.1v1.1h-1.1zM23 45h1.1v1.1h-1.1zM27 45h1.1v1.1h-1.1zM28 45h1.1v1.1h-1.1zM16 46h1.1v1.1h-1.1zM17 46h1.1v1.1h-1.1zM21 46h1.1v1.1h-1.1zM22 46h1.1v1.1h-1.1zM25 46h1.1v1.1h-1.1zM61 47h1.1v1.1h-1.1zM2 48h1.1v1.1h-1.1zM25 48h1.1v1.1h-1.1zM63 48h1.1v1.1h-1.1zM10 49h1.1v1.1h-1.1zM19 49h1.1v1.1h-1.1zM45 49h1.1v1.1h-1.1z"/>
<path fill="#d42a1e" d="M30 0h1.1v1.1h-1.1zM33 0h1.1v1.1h-1.1zM6 1h1.1v1.1h-1.1zM48 1h1.1v1.1h-1.1zM59 1h1.1v1.1h-1.1zM26 2h1.1v1.1h-1.1zM23 3h1.1v1.1h-1.1zM24 3h1.1v1.1h-1.1zM26 3h1.1v1.1h-1.1zM29 3h1.1v1.1h-1.1zM30 3h1.1v1.1h-1.1zM11 5h1.1v1.1h-1.1zM19 5h1.1v1.1h-1.1zM27 5h1.1v1.1h-1.1zM30 5h1.1v1.1h-1.1zM24 7h1.1v1.1h-1.1zM26 7h1.1v1.1h-1.1zM31 7h1.1v1.1h-1.1zM17 8h1.1v1.1h-1.1zM20 8h1.1v1.1h-1.1zM31 8h1.1v1.1h-1.1zM19 9h1.1v1.1h-1.1zM29 10h1.1v1.1h-1.1zM31 10h1.1v1.1h-1.1zM24 14h1.1v1.1h-1.1zM34 15h1.1v1.1h-1.1zM45 16h1.1v1.1h-1.1zM60 16h1.1v1.1h-1.1zM34 17h1.1v1.1h-1.1zM46 17h1.1v1.1h-1.1zM53 18h1.1v1.1h-1.1zM59 18h1.1v1.1h-1.1zM30 19h1.1v1.1h-1.1zM35 19h1.1v1.1h-1.1zM39 19h1.1v1.1h-1.1zM40 19h1.1v1.1h-1.1zM44 19h1.1v1.1h-1.1zM51 19h1.1v1.1h-1.1zM63 19h1.1v1.1h-1.1zM7 20h1.1v1.1h-1.1zM10 20h1.1v1.1h-1.1zM13 20h1.1v1.1h-1.1zM43 20h1.1v1.1h-1.1zM59 20h1.1v1.1h-1.1zM11 21h1.1v1.1h-1.1zM24 21h1.1v1.1h-1.1zM26 21h1.1v1.1h-1.1zM48 21h1.1v1.1h-1.1zM59 21h1.1v1.1h-1.1zM52 22h1.1v1.1h-1.1zM12 24h1.1v1.1h-1.1zM19 24h1.1v1.1h-1.1zM18 25h1.1v1.1h-1.1zM26 25h1.1v1.1h-1.1zM41 25h1.1v1.1h-1.1zM63 25h1.1v1.1h-1.1zM14 26h1.1v1.1h-1.1zM16 26h1.1v1.1h-1.1zM24 26h1.1v1.1h-1.1zM4 27h1.1v1.1h-1.1zM11 27h1.1v1.1h-1.1zM17 27h1.1v1.1h-1.1zM24 27h1.1v1.1h-1.1zM28 27h1.1v1.1h-1.1zM29 27h1.1v1.1h-1.1zM36 27h1.1v1.1h-1.1zM44 27h1.1v1.1h-1.1zM45 27h1.1v1.1h-1.1zM59 27h1.1v1.1h-1.1zM60 27h1.1v1.1h-1.1zM47 28h1.1v1.1h-1.1zM59 28h1.1v1.1h-1.1zM45 29h1.1v1.1h-1.1zM46 29h1.1v1.1h-1.1zM5 30h1.1v1.1h-1.1zM7 30h1.1v1.1h-1.1zM11 30h1.1v1.1h-1.1zM24 30h1.1v1.1h-1.1zM36 30h1.1v1.1h-1.1zM59 30h1.1v1.1h-1.1zM60 30h1.1v1.1h-1.1zM1 31h1.1v1.1h-1.1zM30 31h1.1v1.1h-1.1zM7 32h1.1v1.1h-1.1zM8 32h1.1v1.1h-1.1zM10 32h1.1v1.1h-1.1zM39 32h1.1v1.1h-1.1zM51 32h1.1v1.1h-1.1zM60 32h1.1v1.1h-1.1zM11 33h1.1v1.1h-1.1zM17 33h1.1v1.1h-1.1zM21 33h1.1v1.1h-1.1zM26 33h1.1v1.1h-1.1zM39 33h1.1v1.1h-1.1zM41 33h1.1v1.1h-1.1zM44 33h1.1v1.1h-1.1zM47 33h1.1v1.1h-1.1zM48 33h1.1v1.1h-1.1zM17 35h1.1v1.1h-1.1zM19 35h1.1v1.1h-1.1zM26 35h1.1v1.1h-1.1zM63 35h1.1v1.1h-1.1zM0 36h1.1v1.1h-1.1zM24 36h1.1v1.1h-1.1zM30 36h1.1v1.1h-1.1zM29 37h1.1v1.1h-1.1zM30 37h1.1v1.1h-1.1zM30 38h1.1v1.1h-1.1zM24 39h1.1v1.1h-1.1zM25 39h1.1v1.1h-1.1zM29 39h1.1v1.1h-1.1zM30 39h1.1v1.1h-1.1zM31 39h1.1v1.1h-1.1zM24 40h1.1v1.1h-1.1zM28 40h1.1v1.1h-1.1zM30 40h1.1v1.1h-1.1zM32 41h1.1v1.1h-1.1zM33 41h1.1v1.1h-1.1zM34 41h1.1v1.1h-1.1zM45 41h1.1v1.1h-1.1zM48 41h1.1v1.1h-1.1zM26 42h1.1v1.1h-1.1zM23 43h1.1v1.1h-1.1zM14 47h1.1v1.1h-1.1zM16 47h1.1v1.1h-1.1zM17 47h1.1v1.1h-1.1zM36 47h1.1v1.1h-1.1zM40 47h1.1v1.1h-1.1zM42 47h1.1v1.1h-1.1zM46 47h1.1v1.1h-1.1zM3 48h1.1v1.1h-1.1zM11 48h1.1v1.1h-1.1zM17 48h1.1v1.1h-1.1zM19 48h1.1v1.1h-1.1zM23 48h1.1v1.1h-1.1zM28 48h1.1v1.1h-1.1zM30 48h1.1v1.1h-1.1zM37 48h1.1v1.1h-1.1zM44 48h1.1v1.1h-1.1zM9 49h1.1v1.1h-1.1zM23 49h1.1v1.1h-1.1z"/>
<path fill="#e66032" d="M32 0h1.1v1.1h-1.1zM39 0h1.1v1.1h-1.1zM47 0h1.1v1.1h-1.1zM19 2h1.1v1.1h-1.1zM21 2h1.1v1.1h-1.1zM20 3h1.1v1.1h-1.1zM21 3h1.1v1.1h-1.1zM21 4h1.1v1.1h-1.1zM29 4h1.1v1.1h-1.1zM31 4h1.1v1.1h-1.1zM23 5h1.1v1.1h-1.1zM28 5h1.1v1.1h-1.1zM18 6h1.1v1.1h-1.1zM23 7h1.1v1.1h-1.1zM21 8h1.1v1.1h-1.1zM28 8h1.1v1.1h-1.1zM17 9h1.1v1.1h-1.1zM21 9h1.1v1.1h-1.1zM24 9h1.1v1.1h-1.1zM19 10h1.1v1.1h-1.1zM29 11h1.1v1.1h-1.1zM18 13h1.1v1.1h-1.1zM19 13h1.1v1.1h-1.1zM28 13h1.1v1.1h-1.1zM30 13h1.1v1.1h-1.1zM31 13h1.1v1.1h-1.1zM10 14h1.1v1.1h-1.1zM25 14h1.1v1.1h-1.1zM31 14h1.1v1.1h-1.1zM55 16h1.1v1.1h-1.1zM57 16h1.1v1.1h-1.1zM11 18h1.1v1.1h-1.1zM36 18h1.1v1.1h-1.1zM13 19h1.1v1.1h-1.1zM29 19h1.1v1.1h-1.1zM49 19h1.1v1.1h-1.1zM6 20h1.1v1.1h-1.1zM3 21h1.1v1.1h-1.1zM12 21h1.1v1.1h-1.1zM37 21h1.1v1.1h-1.1zM56 21h1.1v1.1h-1.1zM34 22h1.1v1.1h-1.1zM59 22h1.1v1.1h-1.1zM37 23h1.1v1.1h-1.1zM63 24h1.1v1.1h-1.1zM9 25h1.1v1.1h-1.1zM11 25h1.1v1.1h-1.1zM44 25h1.1v1.1h-1.1zM45 25h1.1v1.1h-1.1zM56 25h1.1v1.1h-1.1zM60 26h1.1v1.1h-1.1zM16 27h1.1v1.1h-1.1zM30 27h1.1v1.1h-1.1zM35 29h1.1v1.1h-1.1zM36 29h1.1v1.1h-1.1zM1 30h1.1v1.1h-1.1zM11 32h1.1v1.1h-1.1zM15 32h1.1v1.1h-1.1zM27 32h1.1v1.1h-1.1zM3 33h1.1v1.1h-1.1zM8 33h1.1v1.1h-1.1zM13 33h1.1v1.1h-1.1zM33 33h1.1v1.1h-1.1zM40 33h1.1v1.1h-1.1zM42 33h1.1v1.1h-1.1zM24 34h1.1v1.1h-1.1zM63 34h1.1v1.1h-1.1zM20 36h1.1v1.1h-1.1zM25 36h1.1v1.1h-1.1zM23 37h1.1v1.1h-1.1zM27 37h1.1v1.1h-1.1zM31 37h1.1v1.1h-1.1zM17 39h1.1v1.1h-1.1zM18 39h1.1v1.1h-1.1zM21 39h1.1v1.1h-1.1zM63 39h1.1v1.1h-1.1zM18 40h1.1v1.1h-1.1zM22 40h1.1v1.1h-1.1zM25 40h1.1v1.1h-1.1zM58 41h1.1v1.1h-1.1zM31 43h1.1v1.1h-1.1zM22 44h1.1v1.1h-1.1zM16 45h1.1v1.1h-1.1zM18 45h1.1v1.1h-1.1zM31 45h1.1v1.1h-1.1zM5 46h1.1v1.1h-1.1zM11 46h1.1v1.1h-1.1zM28 46h1.1v1.1h-1.1zM31 46h1.1v1.1h-1.1zM39 47h1.1v1.1h-1.1zM8 48h1.1v1.1h-1.1zM26 48h1.1v1.1h-1.1zM32 48h1.1v1.1h-1.1zM49 48h1.1v1.1h-1.1zM59 48h1.1v1.1h-1.1zM5 49h1.1v1.1h-1.1z"/>
<path fill="#6a7ba1" d="M37 0h1.1v1.1h-1.1zM3 2h1.1v1.1h-1.1zM50 2h1.1v1.1h-1.1zM1 4h1.1v1.1h-1.1zM3 4h1.1v1.1h-1.1zM5 4h1.1v1.1h-1.1zM6 6h1.1v1.1h-1.1zM8 6h1.1v1.1h-1.1zM34 6h1.1v1.1h-1.1zM40 6h1.1v1.1h-1.1zM34 7h1.1v1.1h-1.1zM1 9h1.1v1.1h-1.1zM38 10h1.1v1.1h-1.1zM37 11h1.1v1.1h-1.1zM2 12h1.1v1.1h-1.1zM14 12h1.1v1.1h-1.1zM47 12h1.1v1.1h-1.1zM51 12h1.1v1.1h-1.1zM58 12h1.1v1.1h-1.1zM11 15h1.1v1.1h-1.1zM5 16h1.1v1.1h-1.1zM22 16h1.1v1.1h-1.1zM3 17h1.1v1.1h-1.1zM8 17h1.1v1.1h-1.1zM15 17h1.1v1.1h-1.1zM38 17h1.1v1.1h-1.1zM55 17h1.1v1.1h-1.1zM1 20h1.1v1.1h-1.1zM20 21h1.1v1.1h-1.1zM61 22h1.1v1.1h-1.1zM15 23h1.1v1.1h-1.1zM22 24h1.1v1.1h-1.1zM23 24h1.1v1.1h-1.1zM41 24h1.1v1.1h-1.1zM2 26h1.1v1.1h-1.1zM49 26h1.1v1.1h-1.1zM52 26h1.1v1.1h-1.1zM20 28h1.1v1.1h-1.1zM20 29h1.1v1.1h-1.1zM50 29h1.1v1.1h-1.1zM56 31h1.1v1.1h-1.1zM32 34h1.1v1.1h-1.1zM43 34h1.1v1.1h-1.1zM43 37h1.1v1.1h-1.1zM9 38h1.1v1.1h-1.1zM15 38h1.1v1.1h-1.1zM34 38h1.1v1.1h-1.1zM47 38h1.1v1.1h-1.1zM54 38h1.1v1.1h-1.1zM42 39h1.1v1.1h-1.1zM8 41h1.1v1.1h-1.1zM10 41h1.1v1.1h-1.1zM8 42h1.1v1.1h-1.1zM50 42h1.1v1.1h-1.1zM53 42h1.1v1.1h-1.1zM57 42h1.1v1.1h-1.1zM32 44h1.1v1.1h-1.1zM38 44h1.1v1.1h-1.1zM34 48h1.1v1.1h-1.1z"/>
<path fill="#526aa0" d="M50 0h1.1v1.1h-1.1zM63 2h1.1v1.1h-1.1zM39 4h1.1v1.1h-1.1zM42 4h1.1v1.1h-1.1zM57 4h1.1v1.1h-1.1zM32 5h1.1v1.1h-1.1zM58 6h1.1v1.1h-1.1zM42 7h1.1v1.1h-1.1zM43 7h1.1v1.1h-1.1zM50 7h1.1v1.1h-1.1zM15 8h1.1v1.1h-1.1zM41 8h1.1v1.1h-1.1zM4 9h1.1v1.1h-1.1zM41 9h1.1v1.1h-1.1zM14 10h1.1v1.1h-1.1zM40 11h1.1v1.1h-1.1zM43 11h1.1v1.1h-1.1zM44 11h1.1v1.1h-1.1zM1 12h1.1v1.1h-1.1zM38 12h1.1v1.1h-1.1zM56 12h1.1v1.1h-1.1zM35 13h1.1v1.1h-1.1zM21 18h1.1v1.1h-1.1zM39 20h1.1v1.1h-1.1zM2 22h1.1v1.1h-1.1zM23 23h1.1v1.1h-1.1zM49 23h1.1v1.1h-1.1zM52 23h1.1v1.1h-1.1zM56 27h1.1v1.1h-1.1zM22 28h1.1v1.1h-1.1zM24 28h1.1v1.1h-1.1zM43 28h1.1v1.1h-1.1zM50 28h1.1v1.1h-1.1zM8 29h1.1v1.1h-1.1zM9 29h1.1v1.1h-1.1zM58 30h1.1v1.1h-1.1zM59 31h1.1v1.1h-1.1zM18 33h1.1v1.1h-1.1zM42 34h1.1v1.1h-1.1zM58 34h1.1v1.1h-1.1zM1 41h1.1v1.1h-1.1zM15 41h1.1v1.1h-1.1zM7 42h1.1v1.1h-1.1zM37 42h1.1v1.1h-1.1zM34 44h1.1v1.1h-1.1z"/>
<path fill="#f5bd69" d="M54 0h1.1v1.1h-1.1zM10 1h1.1v1.1h-1.1zM26 1h1.1v1.1h-1.1zM10 2h1.1v1.1h-1.1zM11 2h1.1v1.1h-1.1zM10 3h1.1v1.1h-1.1zM45 3h1.1v1.1h-1.1zM51 3h1.1v1.1h-1.1zM62 3h1.1v1.1h-1.1zM63 3h1.1v1.1h-1.1zM59 4h1.1v1.1h-1.1zM2 5h1.1v1.1h-1.1zM9 6h1.1v1.1h-1.1zM19 6h1.1v1.1h-1.1zM10 7h1.1v1.1h-1.1zM12 9h1.1v1.1h-1.1zM53 9h1.1v1.1h-1.1zM30 10h1.1v1.1h-1.1zM12 13h1.1v1.1h-1.1zM58 13h1.1v1.1h-1.1zM4 14h1.1v1.1h-1.1zM8 14h1.1v1.1h-1.1zM12 14h1.1v1.1h-1.1zM59 14h1.1v1.1h-1.1zM39 15h1.1v1.1h-1.1zM50 16h1.1v1.1h-1.1zM53 16h1.1v1.1h-1.1zM44 17h1.1v1.1h-1.1zM58 17h1.1v1.1h-1.1zM61 17h1.1v1.1h-1.1zM63 17h1.1v1.1h-1.1zM30 18h1.1v1.1h-1.1zM49 18h1.1v1.1h-1.1zM26 19h1.1v1.1h-1.1zM41 19h1.1v1.1h-1.1zM54 19h1.1v1.1h-1.1zM17 20h1.1v1.1h-1.1zM47 20h1.1v1.1h-1.1zM13 21h1.1v1.1h-1.1zM13 22h1.1v1.1h-1.1zM24 22h1.1v1.1h-1.1zM51 22h1.1v1.1h-1.1zM41 23h1.1v1.1h-1.1zM45 23h1.1v1.1h-1.1zM9 24h1.1v1.1h-1.1zM53 24h1.1v1.1h-1.1zM57 24h1.1v1.1h-1.1zM58 24h1.1v1.1h-1.1zM32 25h1.1v1.1h-1.1zM39 25h1.1v1.1h-1.1zM0 26h1.1v1.1h-1.1zM8 26h1.1v1.1h-1.1zM29 26h1.1v1.1h-1.1zM34 26h1.1v1.1h-1.1zM50 26h1.1v1.1h-1.1zM53 26h1.1v1.1h-1.1zM12 27h1.1v1.1h-1.1zM52 27h1.1v1.1h-1.1zM58 28h1.1v1.1h-1.1zM38 29h1.1v1.1h-1.1zM9 31h1.1v1.1h-1.1zM33 31h1.1v1.1h-1.1zM41 31h1.1v1.1h-1.1zM48 31h1.1v1.1h-1.1zM12 32h1.1v1.1h-1.1zM60 34h1.1v1.1h-1.1zM0 35h1.1v1.1h-1.1zM59 35h1.1v1.1h-1.1zM5 36h1.1v1.1h-1.1zM59 37h1.1v1.1h-1.1zM63 38h1.1v1.1h-1.1zM3 39h1.1v1.1h-1.1zM49 39h1.1v1.1h-1.1zM22 41h1.1v1.1h-1.1zM37 41h1.1v1.1h-1.1zM53 41h1.1v1.1h-1.1zM13 43h1.1v1.1h-1.1zM11 44h1.1v1.1h-1.1zM14 44h1.1v1.1h-1.1zM27 44h1.1v1.1h-1.1zM25 45h1.1v1.1h-1.1zM44 45h1.1v1.1h-1.1zM33 47h1.1v1.1h-1.1zM62 47h1.1v1.1h-1.1zM5 48h1.1v1.1h-1.1zM7 48h1.1v1.1h-1.1zM10 48h1.1v1.1h-1.1zM42 48h1.1v1.1h-1.1zM53 48h1.1v1.1h-1.1zM4 49h1.1v1.1h-1.1zM8 49h1.1v1.1h-1.1zM16 49h1.1v1.1h-1.1zM17 49h1.1v1.1h-1.1zM18 49h1.1v1.1h-1.1zM22 49h1.1v1.1h-1.1z"/>
<path fill="#ea6e37" d="M59 0h1.1v1.1h-1.1zM60 0h1.1v1.1h-1.1zM25 2h1.1v1.1h-1.1zM28 2h1.1v1.1h-1.1zM30 2h1.1v1.1h-1.1zM16 3h1.1v1.1h-1.1zM57 3h1.1v1.1h-1.1zM28 4h1.1v1.1h-1.1zM21 5h1.1v1.1h-1.1zM25 6h1.1v1.1h-1.1zM27 6h1.1v1.1h-1.1zM30 6h1.1v1.1h-1.1zM17 7h1.1v1.1h-1.1zM20 7h1.1v1.1h-1.1zM27 7h1.1v1.1h-1.1zM29 7h1.1v1.1h-1.1zM9 8h1.1v1.1h-1.1zM11 8h1.1v1.1h-1.1zM22 8h1.1v1.1h-1.1zM21 10h1.1v1.1h-1.1zM22 10h1.1v1.1h-1.1zM30 11h1.1v1.1h-1.1zM23 12h1.1v1.1h-1.1zM17 13h1.1v1.1h-1.1zM17 14h1.1v1.1h-1.1zM20 14h1.1v1.1h-1.1zM22 14h1.1v1.1h-1.1zM23 18h1.1v1.1h-1.1zM25 18h1.1v1.1h-1.1zM4 21h1.1v1.1h-1.1zM6 21h1.1v1.1h-1.1zM61 21h1.1v1.1h-1.1zM36 22h1.1v1.1h-1.1zM43 22h1.1v1.1h-1.1zM44 22h1.1v1.1h-1.1zM10 23h1.1v1.1h-1.1zM25 23h1.1v1.1h-1.1zM34 23h1.1v1.1h-1.1zM44 23h1.1v1.1h-1.1zM28 24h1.1v1.1h-1.1zM44 24h1.1v1.1h-1.1zM12 25h1.1v1.1h-1.1zM40 25h1.1v1.1h-1.1zM3 26h1.1v1.1h-1.1zM7 26h1.1v1.1h-1.1zM32 26h1.1v1.1h-1.1zM9 27h1.1v1.1h-1.1zM10 27h1.1v1.1h-1.1zM13 27h1.1v1.1h-1.1zM33 27h1.1v1.1h-1.1zM17 29h1.1v1.1h-1.1zM32 31h1.1v1.1h-1.1zM60 31h1.1v1.1h-1.1zM45 32h1.1v1.1h-1.1zM50 32h1.1v1.1h-1.1zM37 33h1.1v1.1h-1.1zM17 34h1.1v1.1h-1.1zM18 34h1.1v1.1h-1.1zM19 34h1.1v1.1h-1.1zM25 35h1.1v1.1h-1.1zM18 36h1.1v1.1h-1.1zM19 36h1.1v1.1h-1.1zM18 37h1.1v1.1h-1.1zM21 37h1.1v1.1h-1.1zM18 38h1.1v1.1h-1.1zM19 38h1.1v1.1h-1.1zM21 38h1.1v1.1h-1.1zM28 38h1.1v1.1h-1.1zM20 40h1.1v1.1h-1.1zM63 40h1.1v1.1h-1.1zM36 41h1.1v1.1h-1.1zM52 41h1.1v1.1h-1.1zM60 41h1.1v1.1h-1.1zM27 42h1.1v1.1h-1.1zM31 42h1.1v1.1h-1.1zM18 43h1.1v1.1h-1.1zM21 43h1.1v1.1h-1.1zM16 44h1.1v1.1h-1.1zM24 44h1.1v1.1h-1.1zM25 44h1.1v1.1h-1.1zM28 44h1.1v1.1h-1.1zM31 44h1.1v1.1h-1.1zM19 46h1.1v1.1h-1.1zM23 46h1.1v1.1h-1.1zM27 46h1.1v1.1h-1.1zM26 47h1.1v1.1h-1.1zM28 47h1.1v1.1h-1.1zM51 47h1.1v1.1h-1.1zM15 48h1.1v1.1h-1.1zM18 48h1.1v1.1h-1.1zM40 48h1.1v1.1h-1.1zM0 49h1.1v1.1h-1.1zM11 49h1.1v1.1h-1.1zM13 49h1.1v1.1h-1.1zM51 49h1.1v1.1h-1.1z"/>
<path fill="#9da0a0" d="M62 0h1.1v1.1h-1.1zM8 1h1.1v1.1h-1.1zM52 1h1.1v1.1h-1.1zM14 2h1.1v1.1h-1.1zM2 3h1.1v1.1h-1.1zM56 3h1.1v1.1h-1.1zM33 4h1.1v1.1h-1.1zM43 4h1.1v1.1h-1.1zM54 4h1.1v1.1h-1.1zM60 4h1.1v1.1h-1.1zM39 5h1.1v1.1h-1.1zM0 6h1.1v1.1h-1.1zM5 6h1.1v1.1h-1.1zM38 6h1.1v1.1h-1.1zM49 6h1.1v1.1h-1.1zM36 7h1.1v1.1h-1.1zM38 7h1.1v1.1h-1.1zM41 7h1.1v1.1h-1.1zM54 7h1.1v1.1h-1.1zM63 7h1.1v1.1h-1.1zM13 9h1.1v1.1h-1.1zM14 9h1.1v1.1h-1.1zM54 9h1.1v1.1h-1.1zM6 10h1.1v1.1h-1.1zM32 10h1.1v1.1h-1.1zM37 12h1.1v1.1h-1.1zM7 13h1.1v1.1h-1.1zM57 13h1.1v1.1h-1.1zM58 14h1.1v1.1h-1.1zM5 15h1.1v1.1h-1.1zM14 15h1.1v1.1h-1.1zM2 16h1.1v1.1h-1.1zM10 16h1.1v1.1h-1.1zM20 16h1.1v1.1h-1.1zM56 16h1.1v1.1h-1.1zM10 18h1.1v1.1h-1.1zM16 19h1.1v1.1h-1.1zM23 20h1.1v1.1h-1.1zM0 21h1.1v1.1h-1.1zM49 21h1.1v1.1h-1.1zM31 22h1.1v1.1h-1.1zM8 23h1.1v1.1h-1.1zM16 23h1.1v1.1h-1.1zM21 23h1.1v1.1h-1.1zM36 23h1.1v1.1h-1.1zM62 23h1.1v1.1h-1.1zM31 26h1.1v1.1h-1.1zM58 26h1.1v1.1h-1.1zM23 27h1.1v1.1h-1.1zM25 28h1.1v1.1h-1.1zM39 28h1.1v1.1h-1.1zM40 28h1.1v1.1h-1.1zM61 28h1.1v1.1h-1.1zM21 29h1.1v1.1h-1.1zM23 29h1.1v1.1h-1.1zM26 29h1.1v1.1h-1.1zM28 29h1.1v1.1h-1.1zM31 29h1.1v1.1h-1.1zM59 29h1.1v1.1h-1.1zM39 31h1.1v1.1h-1.1zM56 32h1.1v1.1h-1.1zM34 34h1.1v1.1h-1.1zM47 34h1.1v1.1h-1.1zM55 34h1.1v1.1h-1.1zM39 35h1.1v1.1h-1.1zM40 36h1.1v1.1h-1.1zM41 36h1.1v1.1h-1.1zM2 38h1.1v1.1h-1.1zM8 38h1.1v1.1h-1.1zM38 38h1.1v1.1h-1.1zM52 38h1.1v1.1h-1.1zM43 39h1.1v1.1h-1.1zM43 40h1.1v1.1h-1.1zM54 40h1.1v1.1h-1.1zM12 42h1.1v1.1h-1.1zM45 42h1.1v1.1h-1.1zM58 42h1.1v1.1h-1.1zM2 43h1.1v1.1h-1.1zM48 43h1.1v1.1h-1.1zM4 44h1.1v1.1h-1.1zM44 44h1.1v1.1h-1.1zM57 44h1.1v1.1h-1.1zM33 45h1.1v1.1h-1.1zM34 45h1.1v1.1h-1.1zM50 45h1.1v1.1h-1.1zM53 45h1.1v1.1h-1.1zM40 46h1.1v1.1h-1.1zM9 47h1.1v1.1h-1.1zM25 47h1.1v1.1h-1.1zM15 49h1.1v1.1h-1.1z"/>
<path fill="#bab69c" d="M0 1h1.1v1.1h-1.1zM12 1h1.1v1.1h-1.1zM27 1h1.1v1.1h-1.1zM28 1h1.1v1.1h-1.1zM39 1h1.1v1.1h-1.1zM9 2h1.1v1.1h-1.1zM12 2h1.1v1.1h-1.1zM35 2h1.1v1.1h-1.1zM36 2h1.1v1.1h-1.1zM39 2h1.1v1.1h-1.1zM53 2h1.1v1.1h-1.1zM54 2h1.1v1.1h-1.1zM57 2h1.1v1.1h-1.1zM15 3h1.1v1.1h-1.1zM8 4h1.1v1.1h-1.1zM38 4h1.1v1.1h-1.1zM40 4h1.1v1.1h-1.1zM46 4h1.1v1.1h-1.1zM56 4h1.1v1.1h-1.1zM22 5h1.1v1.1h-1.1zM35 5h1.1v1.1h-1.1zM45 5h1.1v1.1h-1.1zM50 5h1.1v1.1h-1.1zM2 6h1.1v1.1h-1.1zM56 6h1.1v1.1h-1.1zM32 7h1.1v1.1h-1.1zM56 7h1.1v1.1h-1.1zM13 8h1.1v1.1h-1.1zM39 8h1.1v1.1h-1.1zM46 8h1.1v1.1h-1.1zM53 8h1.1v1.1h-1.1zM62 8h1.1v1.1h-1.1zM2 9h1.1v1.1h-1.1zM33 9h1.1v1.1h-1.1zM34 9h1.1v1.1h-1.1zM45 9h1.1v1.1h-1.1zM52 9h1.1v1.1h-1.1zM39 10h1.1v1.1h-1.1zM41 10h1.1v1.1h-1.1zM47 10h1.1v1.1h-1.1zM52 10h1.1v1.1h-1.1zM36 11h1.1v1.1h-1.1zM48 11h1.1v1.1h-1.1zM63 11h1.1v1.1h-1.1zM3 12h1.1v1.1h-1.1zM57 12h1.1v1.1h-1.1zM13 13h1.1v1.1h-1.1zM14 13h1.1v1.1h-1.1zM33 13h1.1v1.1h-1.1zM36 13h1.1v1.1h-1.1zM38 13h1.1v1.1h-1.1zM55 13h1.1v1.1h-1.1zM0 14h1.1v1.1h-1.1zM37 14h1.1v1.1h-1.1zM40 14h1.1v1.1h-1.1zM49 14h1.1v1.1h-1.1zM9 16h1.1v1.1h-1.1zM34 16h1.1v1.1h-1.1zM39 16h1.1v1.1h-1.1zM46 16h1.1v1.1h-1.1zM58 16h1.1v1.1h-1.1zM6 17h1.1v1.1h-1.1zM10 17h1.1v1.1h-1.1zM18 17h1.1v1.1h-1.1zM23 17h1.1v1.1h-1.1zM28 17h1.1v1.1h-1.1zM30 17h1.1v1.1h-1.1zM54 18h1.1v1.1h-1.1zM6 19h1.1v1.1h-1.1zM2 20h1.1v1.1h-1.1zM27 20h1.1v1.1h-1.1zM30 20h1.1v1.1h-1.1zM21 21h1.1v1.1h-1.1zM27 21h1.1v1.1h-1.1zM5 22h1.1v1.1h-1.1zM18 22h1.1v1.1h-1.1zM47 22h1.1v1.1h-1.1zM33 23h1.1v1.1h-1.1zM53 23h1.1v1.1h-1.1zM57 23h1.1v1.1h-1.1zM14 24h1.1v1.1h-1.1zM18 27h1.1v1.1h-1.1zM7 28h1.1v1.1h-1.1zM13 28h1.1v1.1h-1.1zM16 28h1.1v1.1h-1.1zM18 28h1.1v1.1h-1.1zM19 28h1.1v1.1h-1.1zM32 28h1.1v1.1h-1.1zM0 29h1.1v1.1h-1.1zM9 30h1.1v1.1h-1.1zM17 30h1.1v1.1h-1.1zM17 31h1.1v1.1h-1.1zM28 31h1.1v1.1h-1.1zM49 31h1.1v1.1h-1.1zM3 34h1.1v1.1h-1.1zM6 34h1.1v1.1h-1.1zM8 34h1.1v1.1h-1.1zM35 36h1.1v1.1h-1.1zM38 36h1.1v1.1h-1.1zM46 36h1.1v1.1h-1.1zM52 36h1.1v1.1h-1.1zM58 36h1.1v1.1h-1.1zM10 37h1.1v1.1h-1.1zM13 37h1.1v1.1h-1.1zM15 37h1.1v1.1h-1.1zM32 37h1.1v1.1h-1.1zM35 37h1.1v1.1h-1.1zM38 37h1.1v1.1h-1.1zM4 38h1.1v1.1h-1.1zM12 38h1.1v1.1h-1.1zM44 38h1.1v1.1h-1.1zM51 38h1.1v1.1h-1.1zM60 38h1.1v1.1h-1.1zM15 39h1.1v1.1h-1.1zM38 39h1.1v1.1h-1.1zM44 39h1.1v1.1h-1.1zM15 40h1.1v1.1h-1.1zM33 40h1.1v1.1h-1.1zM42 40h1.1v1.1h-1.1zM44 40h1.1v1.1h-1.1zM52 40h1.1v1.1h-1.1zM57 40h1.1v1.1h-1.1zM13 41h1.1v1.1h-1.1zM19 41h1.1v1.1h-1.1zM27 41h1.1v1.1h-1.1zM43 41h1.1v1.1h-1.1zM4 42h1.1v1.1h-1.1zM9 42h1.1v1.1h-1.1zM33 42h1.1v1.1h-1.1zM0 43h1.1v1.1h-1.1zM15 43h1.1v1.1h-1.1zM54 43h1.1v1.1h-1.1zM60 43h1.1v1.1h-1.1zM36 44h1.1v1.1h-1.1zM46 44h1.1v1.1h-1.1zM61 44h1.1v1.1h-1.1zM62 44h1.1v1.1h-1.1zM36 45h1.1v1.1h-1.1zM49 45h1.1v1.1h-1.1zM4 46h1.1v1.1h-1.1zM56 46h1.1v1.1h-1.1zM10 47h1.1v1.1h-1.1zM52 47h1.1v1.1h-1.1zM33 48h1.1v1.1h-1.1zM54 48h1.1v1.1h-1.1zM62 48h1.1v1.1h-1.1zM12 49h1.1v1.1h-1.1zM38 49h1.1v1.1h-1.1z"/>
<path fill="#a6a79f" d="M2 1h1.1v1.1h-1.1zM7 1h1.1v1.1h-1.1zM14 1h1.1v1.1h-1.1zM22 1h1.1v1.1h-1.1zM23 1h1.1v1.1h-1.1zM7 2h1.1v1.1h-1.1zM34 2h1.1v1.1h-1.1zM41 2h1.1v1.1h-1.1zM44 2h1.1v1.1h-1.1zM46 2h1.1v1.1h-1.1zM51 2h1.1v1.1h-1.1zM61 2h1.1v1.1h-1.1zM3 3h1.1v1.1h-1.1zM14 3h1.1v1.1h-1.1zM44 4h1.1v1.1h-1.1zM51 4h1.1v1.1h-1.1zM63 4h1.1v1.1h-1.1zM4 5h1.1v1.1h-1.1zM36 6h1.1v1.1h-1.1zM37 6h1.1v1.1h-1.1zM47 6h1.1v1.1h-1.1zM62 6h1.1v1.1h-1.1zM48 7h1.1v1.1h-1.1zM52 7h1.1v1.1h-1.1zM53 7h1.1v1.1h-1.1zM14 8h1.1v1.1h-1.1zM40 8h1.1v1.1h-1.1zM59 8h1.1v1.1h-1.1zM61 8h1.1v1.1h-1.1zM35 9h1.1v1.1h-1.1zM39 9h1.1v1.1h-1.1zM61 9h1.1v1.1h-1.1zM40 10h1.1v1.1h-1.1zM53 10h1.1v1.1h-1.1zM41 11h1.1v1.1h-1.1zM36 12h1.1v1.1h-1.1zM44 12h1.1v1.1h-1.1zM55 12h1.1v1.1h-1.1zM63 12h1.1v1.1h-1.1zM49 13h1.1v1.1h-1.1zM63 13h1.1v1.1h-1.1zM13 14h1.1v1.1h-1.1zM46 14h1.1v1.1h-1.1zM61 14h1.1v1.1h-1.1zM62 14h1.1v1.1h-1.1zM63 14h1.1v1.1h-1.1zM6 15h1.1v1.1h-1.1zM23 15h1.1v1.1h-1.1zM25 15h1.1v1.1h-1.1zM31 15h1.1v1.1h-1.1zM16 16h1.1v1.1h-1.1zM18 16h1.1v1.1h-1.1zM23 16h1.1v1.1h-1.1zM51 16h1.1v1.1h-1.1zM62 16h1.1v1.1h-1.1zM2 17h1.1v1.1h-1.1zM25 17h1.1v1.1h-1.1zM31 17h1.1v1.1h-1.1zM42 17h1.1v1.1h-1.1zM50 17h1.1v1.1h-1.1zM5 18h1.1v1.1h-1.1zM27 18h1.1v1.1h-1.1zM12 19h1.1v1.1h-1.1zM48 19h1.1v1.1h-1.1zM34 20h1.1v1.1h-1.1zM30 21h1.1v1.1h-1.1zM31 21h1.1v1.1h-1.1zM47 21h1.1v1.1h-1.1zM0 22h1.1v1.1h-1.1zM33 22h1.1v1.1h-1.1zM60 22h1.1v1.1h-1.1zM1 23h1.1v1.1h-1.1zM36 24h1.1v1.1h-1.1zM42 24h1.1v1.1h-1.1zM47 24h1.1v1.1h-1.1zM60 24h1.1v1.1h-1.1zM21 26h1.1v1.1h-1.1zM39 26h1.1v1.1h-1.1zM62 26h1.1v1.1h-1.1zM46 27h1.1v1.1h-1.1zM26 28h1.1v1.1h-1.1zM31 28h1.1v1.1h-1.1zM53 28h1.1v1.1h-1.1zM53 29h1.1v1.1h-1.1zM62 29h1.1v1.1h-1.1zM50 30h1.1v1.1h-1.1zM53 31h1.1v1.1h-1.1zM52 32h1.1v1.1h-1.1zM56 33h1.1v1.1h-1.1zM14 34h1.1v1.1h-1.1zM35 34h1.1v1.1h-1.1zM39 34h1.1v1.1h-1.1zM44 34h1.1v1.1h-1.1zM49 34h1.1v1.1h-1.1zM59 34h1.1v1.1h-1.1zM56 35h1.1v1.1h-1.1zM43 36h1.1v1.1h-1.1zM47 36h1.1v1.1h-1.1zM62 36h1.1v1.1h-1.1zM47 37h1.1v1.1h-1.1zM52 37h1.1v1.1h-1.1zM5 38h1.1v1.1h-1.1zM36 38h1.1v1.1h-1.1zM61 38h1.1v1.1h-1.1zM2 39h1.1v1.1h-1.1zM4 39h1.1v1.1h-1.1zM39 39h1.1v1.1h-1.1zM54 39h1.1v1.1h-1.1zM35 40h1.1v1.1h-1.1zM2 41h1.1v1.1h-1.1zM3 41h1.1v1.1h-1.1zM7 41h1.1v1.1h-1.1zM6 42h1.1v1.1h-1.1zM34 42h1.1v1.1h-1.1zM43 42h1.1v1.1h-1.1zM48 42h1.1v1.1h-1.1zM55 42h1.1v1.1h-1.1zM51 43h1.1v1.1h-1.1zM0 44h1.1v1.1h-1.1zM5 44h1.1v1.1h-1.1zM13 44h1.1v1.1h-1.1zM33 44h1.1v1.1h-1.1zM42 44h1.1v1.1h-1.1zM56 44h1.1v1.1h-1.1zM15 45h1.1v1.1h-1.1zM38 45h1.1v1.1h-1.1zM40 45h1.1v1.1h-1.1zM47 45h1.1v1.1h-1.1zM58 45h1.1v1.1h-1.1zM34 46h1.1v1.1h-1.1zM51 46h1.1v1.1h-1.1zM58 46h1.1v1.1h-1.1zM59 46h1.1v1.1h-1.1zM48 48h1.1v1.1h-1.1zM44 49h1.1v1.1h-1.1z"/>
<path fill="#e8d88b" d="M3 1h1.1v1.1h-1.1zM13 1h1.1v1.1h-1.1zM15 1h1.1v1.1h-1.1zM30 1h1.1v1.1h-1.1zM38 1h1.1v1.1h-1.1zM41 1h1.1v1.1h-1.1zM58 1h1.1v1.1h-1.1zM31 2h1.1v1.1h-1.1zM45 2h1.1v1.1h-1.1zM8 3h1.1v1.1h-1.1zM37 3h1.1v1.1h-1.1zM54 3h1.1v1.1h-1.1zM17 5h1.1v1.1h-1.1zM40 5h1.1v1.1h-1.1zM44 5h1.1v1.1h-1.1zM57 5h1.1v1.1h-1.1zM61 5h1.1v1.1h-1.1zM44 6h1.1v1.1h-1.1zM51 6h1.1v1.1h-1.1zM61 6h1.1v1.1h-1.1zM6 7h1.1v1.1h-1.1zM45 7h1.1v1.1h-1.1zM46 7h1.1v1.1h-1.1zM57 7h1.1v1.1h-1.1zM3 8h1.1v1.1h-1.1zM4 8h1.1v1.1h-1.1zM33 8h1.1v1.1h-1.1zM35 8h1.1v1.1h-1.1zM63 8h1.1v1.1h-1.1zM8 9h1.1v1.1h-1.1zM37 10h1.1v1.1h-1.1zM49 10h1.1v1.1h-1.1zM51 10h1.1v1.1h-1.1zM5 11h1.1v1.1h-1.1zM58 11h1.1v1.1h-1.1zM3 13h1.1v1.1h-1.1zM8 13h1.1v1.1h-1.1zM42 13h1.1v1.1h-1.1zM56 13h1.1v1.1h-1.1zM48 14h1.1v1.1h-1.1zM27 15h1.1v1.1h-1.1zM32 15h1.1v1.1h-1.1zM35 15h1.1v1.1h-1.1zM36 15h1.1v1.1h-1.1zM63 15h1.1v1.1h-1.1zM14 16h1.1v1.1h-1.1zM17 16h1.1v1.1h-1.1zM1 17h1.1v1.1h-1.1zM33 17h1.1v1.1h-1.1zM6 18h1.1v1.1h-1.1zM35 18h1.1v1.1h-1.1zM61 18h1.1v1.1h-1.1zM2 19h1.1v1.1h-1.1zM19 19h1.1v1.1h-1.1zM21 19h1.1v1.1h-1.1zM34 19h1.1v1.1h-1.1zM53 20h1.1v1.1h-1.1zM54 20h1.1v1.1h-1.1zM54 21h1.1v1.1h-1.1zM38 22h1.1v1.1h-1.1zM49 22h1.1v1.1h-1.1zM53 22h1.1v1.1h-1.1zM62 22h1.1v1.1h-1.1zM24 23h1.1v1.1h-1.1zM50 23h1.1v1.1h-1.1zM29 24h1.1v1.1h-1.1zM32 24h1.1v1.1h-1.1zM46 24h1.1v1.1h-1.1zM7 25h1.1v1.1h-1.1zM8 25h1.1v1.1h-1.1zM13 25h1.1v1.1h-1.1zM42 25h1.1v1.1h-1.1zM61 25h1.1v1.1h-1.1zM62 25h1.1v1.1h-1.1zM18 26h1.1v1.1h-1.1zM25 26h1.1v1.1h-1.1zM28 26h1.1v1.1h-1.1zM48 26h1.1v1.1h-1.1zM57 26h1.1v1.1h-1.1zM55 27h1.1v1.1h-1.1zM8 28h1.1v1.1h-1.1zM35 28h1.1v1.1h-1.1zM3 29h1.1v1.1h-1.1zM12 29h1.1v1.1h-1.1zM14 29h1.1v1.1h-1.1zM16 29h1.1v1.1h-1.1zM33 30h1.1v1.1h-1.1zM37 30h1.1v1.1h-1.1zM3 31h1.1v1.1h-1.1zM10 31h1.1v1.1h-1.1zM51 31h1.1v1.1h-1.1zM57 31h1.1v1.1h-1.1zM16 32h1.1v1.1h-1.1zM21 32h1.1v1.1h-1.1zM38 32h1.1v1.1h-1.1zM16 33h1.1v1.1h-1.1zM59 33h1.1v1.1h-1.1zM30 34h1.1v1.1h-1.1zM61 34h1.1v1.1h-1.1zM8 35h1.1v1.1h-1.1zM34 35h1.1v1.1h-1.1zM36 35h1.1v1.1h-1.1zM37 35h1.1v1.1h-1.1zM44 35h1.1v1.1h-1.1zM46 35h1.1v1.1h-1.1zM48 35h1.1v1.1h-1.1zM58 35h1.1v1.1h-1.1zM62 35h1.1v1.1h-1.1zM37 36h1.1v1.1h-1.1zM44 36h1.1v1.1h-1.1zM60 36h1.1v1.1h-1.1zM11 37h1.1v1.1h-1.1zM33 37h1.1v1.1h-1.1zM49 37h1.1v1.1h-1.1zM60 37h1.1v1.1h-1.1zM1 39h1.1v1.1h-1.1zM35 39h1.1v1.1h-1.1zM40 40h1.1v1.1h-1.1zM62 40h1.1v1.1h-1.1zM20 41h1.1v1.1h-1.1zM28 41h1.1v1.1h-1.1zM29 41h1.1v1.1h-1.1zM11 42h1.1v1.1h-1.1zM40 42h1.1v1.1h-1.1zM49 43h1.1v1.1h-1.1zM26 44h1.1v1.1h-1.1zM47 44h1.1v1.1h-1.1zM48 44h1.1v1.1h-1.1zM53 44h1.1v1.1h-1.1zM4 45h1.1v1.1h-1.1zM10 45h1.1v1.1h-1.1zM61 45h1.1v1.1h-1.1zM0 46h1.1v1.1h-1.1zM36 46h1.1v1.1h-1.1zM55 46h1.1v1.1h-1.1zM57 46h1.1v1.1h-1.1zM60 47h1.1v1.1h-1.1zM39 48h1.1v1.1h-1.1zM55 48h1.1v1.1h-1.1zM43 49h1.1v1.1h-1.1zM53 49h1.1v1.1h-1.1z"/>
<path fill="#828ca2" d="M4 1h1.1v1.1h-1.1zM33 1h1.1v1.1h-1.1zM47 1h1.1v1.1h-1.1zM42 2h1.1v1.1h-1.1zM47 2h1.1v1.1h-1.1zM0 4h1.1v1.1h-1.1zM2 4h1.1v1.1h-1.1zM32 4h1.1v1.1h-1.1zM37 4h1.1v1.1h-1.1zM3 6h1.1v1.1h-1.1zM33 6h1.1v1.1h-1.1zM35 6h1.1v1.1h-1.1zM54 6h1.1v1.1h-1.1zM14 7h1.1v1.1h-1.1zM32 9h1.1v1.1h-1.1zM47 9h1.1v1.1h-1.1zM55 9h1.1v1.1h-1.1zM33 11h1.1v1.1h-1.1zM34 11h1.1v1.1h-1.1zM38 11h1.1v1.1h-1.1zM42 11h1.1v1.1h-1.1zM50 11h1.1v1.1h-1.1zM54 11h1.1v1.1h-1.1zM45 12h1.1v1.1h-1.1zM46 12h1.1v1.1h-1.1zM48 12h1.1v1.1h-1.1zM54 12h1.1v1.1h-1.1zM15 13h1.1v1.1h-1.1zM43 13h1.1v1.1h-1.1zM43 14h1.1v1.1h-1.1zM60 14h1.1v1.1h-1.1zM2 15h1.1v1.1h-1.1zM0 16h1.1v1.1h-1.1zM28 16h1.1v1.1h-1.1zM36 16h1.1v1.1h-1.1zM2 18h1.1v1.1h-1.1zM13 18h1.1v1.1h-1.1zM28 18h1.1v1.1h-1.1zM60 21h1.1v1.1h-1.1zM50 22h1.1v1.1h-1.1zM58 22h1.1v1.1h-1.1zM27 23h1.1v1.1h-1.1zM54 23h1.1v1.1h-1.1zM0 24h1.1v1.1h-1.1zM1 28h1.1v1.1h-1.1zM5 28h1.1v1.1h-1.1zM17 28h1.1v1.1h-1.1zM62 28h1.1v1.1h-1.1zM16 31h1.1v1.1h-1.1zM41 34h1.1v1.1h-1.1zM54 34h1.1v1.1h-1.1zM56 34h1.1v1.1h-1.1zM15 35h1.1v1.1h-1.1zM4 37h1.1v1.1h-1.1zM41 37h1.1v1.1h-1.1zM50 37h1.1v1.1h-1.1zM13 38h1.1v1.1h-1.1zM35 38h1.1v1.1h-1.1zM40 38h1.1v1.1h-1.1zM49 38h1.1v1.1h-1.1zM56 39h1.1v1.1h-1.1zM2 42h1.1v1.1h-1.1zM39 42h1.1v1.1h-1.1zM56 42h1.1v1.1h-1.1zM12 44h1.1v1.1h-1.1zM43 44h1.1v1.1h-1.1zM38 46h1.1v1.1h-1.1zM39 46h1.1v1.1h-1.1zM54 46h1.1v1.1h-1.1zM62 46h1.1v1.1h-1.1zM36 48h1.1v1.1h-1.1zM39 49h1.1v1.1h-1.1zM46 49h1.1v1.1h-1.1zM57 49h1.1v1.1h-1.1z"/>
<path fill="#b0af9d" d="M16 1h1.1v1.1h-1.1zM18 1h1.1v1.1h-1.1zM37 1h1.1v1.1h-1.1zM44 1h1.1v1.1h-1.1zM45 1h1.1v1.1h-1.1zM50 1h1.1v1.1h-1.1zM51 1h1.1v1.1h-1.1zM0 2h1.1v1.1h-1.1zM32 2h1.1v1.1h-1.1zM40 2h1.1v1.1h-1.1zM43 2h1.1v1.1h-1.1zM39 3h1.1v1.1h-1.1zM35 4h1.1v1.1h-1.1zM62 4h1.1v1.1h-1.1zM42 5h1.1v1.1h-1.1zM53 5h1.1v1.1h-1.1zM56 5h1.1v1.1h-1.1zM57 6h1.1v1.1h-1.1zM15 7h1.1v1.1h-1.1zM49 7h1.1v1.1h-1.1zM55 7h1.1v1.1h-1.1zM32 8h1.1v1.1h-1.1zM37 8h1.1v1.1h-1.1zM51 8h1.1v1.1h-1.1zM58 8h1.1v1.1h-1.1zM36 9h1.1v1.1h-1.1zM62 10h1.1v1.1h-1.1zM15 11h1.1v1.1h-1.1zM35 11h1.1v1.1h-1.1zM46 11h1.1v1.1h-1.1zM47 11h1.1v1.1h-1.1zM51 11h1.1v1.1h-1.1zM61 11h1.1v1.1h-1.1zM52 12h1.1v1.1h-1.1zM62 12h1.1v1.1h-1.1zM1 13h1.1v1.1h-1.1zM37 13h1.1v1.1h-1.1zM41 13h1.1v1.1h-1.1zM53 13h1.1v1.1h-1.1zM14 14h1.1v1.1h-1.1zM33 14h1.1v1.1h-1.1zM41 14h1.1v1.1h-1.1zM45 14h1.1v1.1h-1.1zM47 14h1.1v1.1h-1.1zM57 14h1.1v1.1h-1.1zM22 15h1.1v1.1h-1.1zM4 16h1.1v1.1h-1.1zM43 16h1.1v1.1h-1.1zM29 17h1.1v1.1h-1.1zM48 17h1.1v1.1h-1.1zM8 18h1.1v1.1h-1.1zM9 19h1.1v1.1h-1.1zM10 19h1.1v1.1h-1.1zM23 19h1.1v1.1h-1.1zM5 20h1.1v1.1h-1.1zM12 20h1.1v1.1h-1.1zM22 20h1.1v1.1h-1.1zM25 20h1.1v1.1h-1.1zM55 20h1.1v1.1h-1.1zM56 20h1.1v1.1h-1.1zM8 21h1.1v1.1h-1.1zM14 21h1.1v1.1h-1.1zM34 21h1.1v1.1h-1.1zM54 22h1.1v1.1h-1.1zM31 23h1.1v1.1h-1.1zM43 23h1.1v1.1h-1.1zM3 24h1.1v1.1h-1.1zM48 24h1.1v1.1h-1.1zM20 25h1.1v1.1h-1.1zM0 27h1.1v1.1h-1.1zM20 27h1.1v1.1h-1.1zM49 27h1.1v1.1h-1.1zM3 28h1.1v1.1h-1.1zM4 28h1.1v1.1h-1.1zM51 28h1.1v1.1h-1.1zM54 28h1.1v1.1h-1.1zM54 29h1.1v1.1h-1.1zM16 30h1.1v1.1h-1.1zM31 30h1.1v1.1h-1.1zM56 30h1.1v1.1h-1.1zM44 32h1.1v1.1h-1.1zM32 33h1.1v1.1h-1.1zM4 34h1.1v1.1h-1.1zM5 34h1.1v1.1h-1.1zM12 34h1.1v1.1h-1.1zM51 34h1.1v1.1h-1.1zM38 35h1.1v1.1h-1.1zM40 35h1.1v1.1h-1.1zM39 36h1.1v1.1h-1.1zM42 36h1.1v1.1h-1.1zM49 36h1.1v1.1h-1.1zM50 36h1.1v1.1h-1.1zM51 36h1.1v1.1h-1.1zM53 36h1.1v1.1h-1.1zM2 37h1.1v1.1h-1.1zM44 37h1.1v1.1h-1.1zM48 37h1.1v1.1h-1.1zM51 37h1.1v1.1h-1.1zM39 38h1.1v1.1h-1.1zM41 38h1.1v1.1h-1.1zM45 38h1.1v1.1h-1.1zM46 38h1.1v1.1h-1.1zM56 38h1.1v1.1h-1.1zM59 38h1.1v1.1h-1.1zM2 40h1.1v1.1h-1.1zM10 42h1.1v1.1h-1.1zM38 42h1.1v1.1h-1.1zM44 42h1.1v1.1h-1.1zM60 42h1.1v1.1h-1.1zM38 43h1.1v1.1h-1.1zM42 43h1.1v1.1h-1.1zM55 43h1.1v1.1h-1.1zM62 43h1.1v1.1h-1.1zM39 44h1.1v1.1h-1.1zM2 45h1.1v1.1h-1.1zM37 45h1.1v1.1h-1.1zM42 45h1.1v1.1h-1.1zM52 45h1.1v1.1h-1.1zM32 46h1.1v1.1h-1.1zM33 46h1.1v1.1h-1.1zM45 46h1.1v1.1h-1.1zM47 46h1.1v1.1h-1.1zM48 46h1.1v1.1h-1.1zM31 48h1.1v1.1h-1.1zM41 49h1.1v1.1h-1.1z"/>
<path fill="#9399a1" d="M35 1h1.1v1.1h-1.1zM33 2h1.1v1.1h-1.1zM37 2h1.1v1.1h-1.1zM13 3h1.1v1.1h-1.1zM38 3h1.1v1.1h-1.1zM12 4h1.1v1.1h-1.1zM41 4h1.1v1.1h-1.1zM14 5h1.1v1.1h-1.1zM14 6h1.1v1.1h-1.1zM15 6h1.1v1.1h-1.1zM32 6h1.1v1.1h-1.1zM41 6h1.1v1.1h-1.1zM42 6h1.1v1.1h-1.1zM63 6h1.1v1.1h-1.1zM1 7h1.1v1.1h-1.1zM58 7h1.1v1.1h-1.1zM1 8h1.1v1.1h-1.1zM38 8h1.1v1.1h-1.1zM42 8h1.1v1.1h-1.1zM50 8h1.1v1.1h-1.1zM60 8h1.1v1.1h-1.1zM43 9h1.1v1.1h-1.1zM50 9h1.1v1.1h-1.1zM58 9h1.1v1.1h-1.1zM1 10h1.1v1.1h-1.1zM15 10h1.1v1.1h-1.1zM55 10h1.1v1.1h-1.1zM32 11h1.1v1.1h-1.1zM12 12h1.1v1.1h-1.1zM15 12h1.1v1.1h-1.1zM40 12h1.1v1.1h-1.1zM41 12h1.1v1.1h-1.1zM35 14h1.1v1.1h-1.1zM42 14h1.1v1.1h-1.1zM7 15h1.1v1.1h-1.1zM9 15h1.1v1.1h-1.1zM16 15h1.1v1.1h-1.1zM29 15h1.1v1.1h-1.1zM21 16h1.1v1.1h-1.1zM38 16h1.1v1.1h-1.1zM4 17h1.1v1.1h-1.1zM12 17h1.1v1.1h-1.1zM14 17h1.1v1.1h-1.1zM12 18h1.1v1.1h-1.1zM21 20h1.1v1.1h-1.1zM41 20h1.1v1.1h-1.1zM50 20h1.1v1.1h-1.1zM57 20h1.1v1.1h-1.1zM45 21h1.1v1.1h-1.1zM2 23h1.1v1.1h-1.1zM32 23h1.1v1.1h-1.1zM56 23h1.1v1.1h-1.1zM39 24h1.1v1.1h-1.1zM50 24h1.1v1.1h-1.1zM0 25h1.1v1.1h-1.1zM22 27h1.1v1.1h-1.1zM55 28h1.1v1.1h-1.1zM18 29h1.1v1.1h-1.1zM49 29h1.1v1.1h-1.1zM56 29h1.1v1.1h-1.1zM49 30h1.1v1.1h-1.1zM2 31h1.1v1.1h-1.1zM14 31h1.1v1.1h-1.1zM25 31h1.1v1.1h-1.1zM7 34h1.1v1.1h-1.1zM36 34h1.1v1.1h-1.1zM38 34h1.1v1.1h-1.1zM52 34h1.1v1.1h-1.1zM4 35h1.1v1.1h-1.1zM42 35h1.1v1.1h-1.1zM32 36h1.1v1.1h-1.1zM36 37h1.1v1.1h-1.1zM37 37h1.1v1.1h-1.1zM42 37h1.1v1.1h-1.1zM58 37h1.1v1.1h-1.1zM57 38h1.1v1.1h-1.1zM58 38h1.1v1.1h-1.1zM39 40h1.1v1.1h-1.1zM56 43h1.1v1.1h-1.1zM40 44h1.1v1.1h-1.1zM51 45h1.1v1.1h-1.1zM54 45h1.1v1.1h-1.1zM37 46h1.1v1.1h-1.1zM49 46h1.1v1.1h-1.1zM57 47h1.1v1.1h-1.1z"/>
<path fill="#3d5694" d="M43 1h1.1v1.1h-1.1zM2 2h1.1v1.1h-1.1zM13 4h1.1v1.1h-1.1zM34 4h1.1v1.1h-1.1zM38 5h1.1v1.1h-1.1zM43 5h1.1v1.1h-1.1zM13 11h1.1v1.1h-1.1zM14 11h1.1v1.1h-1.1zM39 11h1.1v1.1h-1.1zM18 15h1.1v1.1h-1.1zM6 16h1.1v1.1h-1.1zM9 17h1.1v1.1h-1.1zM21 17h1.1v1.1h-1.1zM22 17h1.1v1.1h-1.1zM39 17h1.1v1.1h-1.1zM38 20h1.1v1.1h-1.1zM20 22h1.1v1.1h-1.1zM21 22h1.1v1.1h-1.1zM23 25h1.1v1.1h-1.1zM0 28h1.1v1.1h-1.1zM2 28h1.1v1.1h-1.1zM13 29h1.1v1.1h-1.1zM3 30h1.1v1.1h-1.1zM18 31h1.1v1.1h-1.1zM43 38h1.1v1.1h-1.1zM9 41h1.1v1.1h-1.1zM16 41h1.1v1.1h-1.1zM50 43h1.1v1.1h-1.1zM56 45h1.1v1.1h-1.1zM57 48h1.1v1.1h-1.1z"/>
<path fill="#324c8e" d="M1 2h1.1v1.1h-1.1zM13 2h1.1v1.1h-1.1zM1 3h1.1v1.1h-1.1zM4 4h1.1v1.1h-1.1zM15 4h1.1v1.1h-1.1zM1 5h1.1v1.1h-1.1zM1 6h1.1v1.1h-1.1zM13 6h1.1v1.1h-1.1zM39 6h1.1v1.1h-1.1zM43 6h1.1v1.1h-1.1zM13 7h1.1v1.1h-1.1zM13 12h1.1v1.1h-1.1zM32 12h1.1v1.1h-1.1zM34 12h1.1v1.1h-1.1zM39 12h1.1v1.1h-1.1zM42 12h1.1v1.1h-1.1zM43 12h1.1v1.1h-1.1zM50 12h1.1v1.1h-1.1zM50 14h1.1v1.1h-1.1zM0 15h1.1v1.1h-1.1zM1 15h1.1v1.1h-1.1zM4 15h1.1v1.1h-1.1zM12 15h1.1v1.1h-1.1zM15 15h1.1v1.1h-1.1zM20 15h1.1v1.1h-1.1zM28 15h1.1v1.1h-1.1zM15 16h1.1v1.1h-1.1zM5 17h1.1v1.1h-1.1zM13 17h1.1v1.1h-1.1zM0 19h1.1v1.1h-1.1zM0 20h1.1v1.1h-1.1zM15 20h1.1v1.1h-1.1zM20 20h1.1v1.1h-1.1zM1 22h1.1v1.1h-1.1zM15 22h1.1v1.1h-1.1zM22 22h1.1v1.1h-1.1zM23 22h1.1v1.1h-1.1zM0 23h1.1v1.1h-1.1zM3 23h1.1v1.1h-1.1zM20 23h1.1v1.1h-1.1zM22 23h1.1v1.1h-1.1zM39 23h1.1v1.1h-1.1zM46 23h1.1v1.1h-1.1zM2 24h1.1v1.1h-1.1zM5 24h1.1v1.1h-1.1zM6 24h1.1v1.1h-1.1zM21 24h1.1v1.1h-1.1zM21 25h1.1v1.1h-1.1zM15 28h1.1v1.1h-1.1zM21 28h1.1v1.1h-1.1zM27 28h1.1v1.1h-1.1zM28 28h1.1v1.1h-1.1zM29 28h1.1v1.1h-1.1zM52 28h1.1v1.1h-1.1zM5 29h1.1v1.1h-1.1zM27 29h1.1v1.1h-1.1zM29 29h1.1v1.1h-1.1zM15 30h1.1v1.1h-1.1zM43 35h1.1v1.1h-1.1zM50 38h1.1v1.1h-1.1zM50 40h1.1v1.1h-1.1zM4 41h1.1v1.1h-1.1zM12 41h1.1v1.1h-1.1zM0 42h1.1v1.1h-1.1zM15 42h1.1v1.1h-1.1zM51 42h1.1v1.1h-1.1zM50 44h1.1v1.1h-1.1zM41 45h1.1v1.1h-1.1zM43 45h1.1v1.1h-1.1zM50 46h1.1v1.1h-1.1zM36 49h1.1v1.1h-1.1zM50 49h1.1v1.1h-1.1z"/>
<path fill="#47609a" d="M4 2h1.1v1.1h-1.1zM15 2h1.1v1.1h-1.1zM14 4h1.1v1.1h-1.1zM47 4h1.1v1.1h-1.1zM50 4h1.1v1.1h-1.1zM50 6h1.1v1.1h-1.1zM53 6h1.1v1.1h-1.1zM0 7h1.1v1.1h-1.1zM13 10h1.1v1.1h-1.1zM33 12h1.1v1.1h-1.1zM35 12h1.1v1.1h-1.1zM49 12h1.1v1.1h-1.1zM39 13h1.1v1.1h-1.1zM12 16h1.1v1.1h-1.1zM26 16h1.1v1.1h-1.1zM35 16h1.1v1.1h-1.1zM17 17h1.1v1.1h-1.1zM52 17h1.1v1.1h-1.1zM0 18h1.1v1.1h-1.1zM9 18h1.1v1.1h-1.1zM22 21h1.1v1.1h-1.1zM12 23h1.1v1.1h-1.1zM18 23h1.1v1.1h-1.1zM18 24h1.1v1.1h-1.1zM20 24h1.1v1.1h-1.1zM12 28h1.1v1.1h-1.1zM15 29h1.1v1.1h-1.1zM42 31h1.1v1.1h-1.1zM50 31h1.1v1.1h-1.1zM13 34h1.1v1.1h-1.1zM48 34h1.1v1.1h-1.1zM50 34h1.1v1.1h-1.1zM50 35h1.1v1.1h-1.1zM42 38h1.1v1.1h-1.1zM5 41h1.1v1.1h-1.1zM61 42h1.1v1.1h-1.1zM35 44h1.1v1.1h-1.1zM57 45h1.1v1.1h-1.1zM50 48h1.1v1.1h-1.1z"/>
</g>
<path d="M348.80,20.44 H512.30 M348.80,51.93 H512.30 M348.80,54.35 H512.30 M348.80,64.04 H512.30 M348.80,83.42 H512.30 M348.80,88.26 H512.30 M348.80,97.95 H512.30 M348.80,129.43 H512.30 M348.80,131.86 H512.30 M389.68,15.60 V136.70 M430.55,15.60 V136.70 M471.42,15.60 V136.70" stroke="#222" stroke-width="0.6" fill="none" stroke-opacity="0.8"/>
<rect x="348.80" y="15.60" width="163.50" height="121.10" fill="none" stroke="#111" stroke-width="1"/>
<text x="346.80" y="20.70" font-size="7.84" text-anchor="end" font-weight="normal" fill="#222" textLength="9.6" lengthAdjust="spacingAndGlyphs" stroke="#222" stroke-width="0.06">PC</text>
<text x="346.80" y="36.00" font-size="7.84" text-anchor="end" font-weight="normal" fill="#222" textLength="14.0" lengthAdjust="spacingAndGlyphs" stroke="#222" stroke-width="0.06">LPC</text>
<text x="346.80" y="56.00" font-size="7.84" text-anchor="end" font-weight="normal" fill="#222" textLength="13.0" lengthAdjust="spacingAndGlyphs" stroke="#222" stroke-width="0.06">LPE</text>
<text x="346.80" y="62.40" font-size="7.84" text-anchor="end" font-weight="normal" fill="#222" textLength="11.0" lengthAdjust="spacingAndGlyphs" stroke="#222" stroke-width="0.06">LPI</text>
<text x="346.80" y="74.40" font-size="7.84" text-anchor="end" font-weight="normal" fill="#222" textLength="12.5" lengthAdjust="spacingAndGlyphs" stroke="#222" stroke-width="0.06">Cer</text>
<text x="346.80" y="87.60" font-size="7.84" text-anchor="end" font-weight="normal" fill="#222" textLength="27.0" lengthAdjust="spacingAndGlyphs" stroke="#222" stroke-width="0.06">HexCer</text>
<text x="346.80" y="96.50" font-size="7.84" text-anchor="end" font-weight="normal" fill="#222" textLength="11.5" lengthAdjust="spacingAndGlyphs" stroke="#222" stroke-width="0.06">SM</text>
<text x="345.70" y="117.40" font-size="7.84" text-anchor="end" font-weight="normal" fill="#222" textLength="10.5" lengthAdjust="spacingAndGlyphs" stroke="#222" stroke-width="0.06">DG</text>
<text x="346.20" y="127.80" font-size="7.84" text-anchor="end" font-weight="normal" fill="#222" textLength="10.0" lengthAdjust="spacingAndGlyphs" stroke="#222" stroke-width="0.06">TG</text>
<text x="344.40" y="134.20" font-size="7.84" text-anchor="end" font-weight="normal" fill="#222" textLength="20.7" lengthAdjust="spacingAndGlyphs" stroke="#222" stroke-width="0.06">DGLA</text>
<text x="346.10" y="140.90" font-size="7.84" text-anchor="end" font-weight="normal" fill="#222" textLength="10.1" lengthAdjust="spacingAndGlyphs" stroke="#222" stroke-width="0.06">AA</text>
<path d="M344.6,131.8 H348.6 M346.3,134.6 L348.6,133.8" stroke="#333" stroke-width="0.7"/>
<text x="371.60" y="146.70" font-size="8.51" text-anchor="middle" font-weight="normal" fill="#222" textLength="25.9" lengthAdjust="spacingAndGlyphs" stroke="#222" stroke-width="0.06">Resting</text>
<text x="410.40" y="146.70" font-size="8.51" text-anchor="middle" font-weight="normal" fill="#222" textLength="41.2" lengthAdjust="spacingAndGlyphs" stroke="#222" stroke-width="0.06">+ Thrombin</text>
<text x="451.20" y="146.70" font-size="8.51" text-anchor="middle" font-weight="normal" fill="#222" textLength="32.0" lengthAdjust="spacingAndGlyphs" stroke="#222" stroke-width="0.06">+ CXCR7</text>
<text x="450.70" y="155.00" font-size="8.51" text-anchor="middle" font-weight="normal" fill="#222" textLength="25.9" lengthAdjust="spacingAndGlyphs" stroke="#222" stroke-width="0.06">agonist</text>
<text x="492.70" y="146.70" font-size="8.51" text-anchor="middle" font-weight="normal" fill="#222" textLength="40.6" lengthAdjust="spacingAndGlyphs" stroke="#222" stroke-width="0.06">+ Thrombin</text>
<text x="492.70" y="154.70" font-size="8.51" text-anchor="middle" font-weight="normal" fill="#222" textLength="32.0" lengthAdjust="spacingAndGlyphs" stroke="#222" stroke-width="0.06">+ CXCR7</text>
<text x="492.50" y="164.00" font-size="8.51" text-anchor="middle" font-weight="normal" fill="#222" textLength="25.5" lengthAdjust="spacingAndGlyphs" stroke="#222" stroke-width="0.06">agonist</text>
<defs><linearGradient id="cb" x1="0" y1="0" x2="0" y2="1"><stop offset="0" stop-color="#c8231e"/><stop offset="0.22" stop-color="#e45a30"/><stop offset="0.33" stop-color="#ec8a48"/><stop offset="0.52" stop-color="#f0dc78"/><stop offset="0.72" stop-color="#a29e80"/><stop offset="0.85" stop-color="#6e7890"/><stop offset="1" stop-color="#21418a"/></linearGradient></defs>
<rect x="389" y="170.6" width="7" height="44" fill="url(#cb)"/>
<text x="388.90" y="162.00" font-size="8.06" text-anchor="start" font-weight="normal" fill="#222" textLength="23.7" lengthAdjust="spacingAndGlyphs" stroke="#222" stroke-width="0.06">Z-score</text>
<text x="398.50" y="172.30" font-size="8.06" text-anchor="start" font-weight="normal" fill="#222" textLength="10.0" lengthAdjust="spacingAndGlyphs" stroke="#222" stroke-width="0.06">1.5</text>
<text x="398.50" y="182.30" font-size="8.06" text-anchor="start" font-weight="normal" fill="#222" textLength="10.0" lengthAdjust="spacingAndGlyphs" stroke="#222" stroke-width="0.06">1.0</text>
<text x="398.50" y="195.30" font-size="8.06" text-anchor="start" font-weight="normal" fill="#222" textLength="10.0" lengthAdjust="spacingAndGlyphs" stroke="#222" stroke-width="0.06">0.0</text>
<text x="398.30" y="206.50" font-size="8.06" text-anchor="start" font-weight="normal" fill="#222" textLength="13.5" lengthAdjust="spacingAndGlyphs" stroke="#222" stroke-width="0.06">−1.0</text>
<text x="398.30" y="217.70" font-size="8.06" text-anchor="start" font-weight="normal" fill="#222" textLength="13.5" lengthAdjust="spacingAndGlyphs" stroke="#222" stroke-width="0.06">−1.5</text>
<linearGradient id="v7" gradientUnits="userSpaceOnUse" x1="0" y1="262.3" x2="0" y2="341.0"><stop offset="0" stop-color="#1b5995" stop-opacity="0.25"/><stop offset="0.098" stop-color="#1b5995"/><stop offset="0.937" stop-color="#1b5995"/><stop offset="1" stop-color="#1b5995" stop-opacity="0.25"/></linearGradient>
<path d="M59.0,262.3 58.9,263.1 58.7,264.2 58.6,265.5 58.4,267.0 58.2,268.5 58.1,270.0 58.0,271.5 58.0,273.2 58.0,274.9 57.9,276.6 57.9,278.3 57.8,280.0 57.7,281.7 57.6,283.5 57.4,285.3 57.2,287.0 57.1,288.6 56.9,290.0 56.7,291.1 56.5,292.0 56.3,292.8 56.0,293.5 55.8,294.2 55.7,295.0 55.6,295.8 55.5,296.5 55.5,297.2 55.5,298.0 55.5,298.9 55.5,300.0 55.6,301.4 55.6,303.0 55.8,304.7 55.9,306.5 56.0,308.3 56.1,310.0 56.2,311.7 56.2,313.3 56.3,315.0 56.3,316.7 56.4,318.3 56.5,320.0 56.6,321.7 56.7,323.4 56.9,325.2 57.0,326.9 57.2,328.5 57.3,330.0 57.4,331.4 57.6,332.7 57.8,333.9 57.9,335.0 58.1,336.0 58.2,337.0 58.3,337.9 58.5,338.7 58.7,339.4 58.8,340.1 58.9,340.6 59.0,341.0 59.0,341.0 59.0,262.3Z" fill="url(#v7)"/>
<linearGradient id="v8" gradientUnits="userSpaceOnUse" x1="0" y1="262.3" x2="0" y2="336.0"><stop offset="0" stop-color="#cf1239" stop-opacity="0.25"/><stop offset="0.104" stop-color="#cf1239"/><stop offset="0.936" stop-color="#cf1239"/><stop offset="1" stop-color="#cf1239" stop-opacity="0.25"/></linearGradient>
<path d="M59.0,262.3 59.1,263.1 59.3,264.2 59.4,265.5 59.6,267.0 59.8,268.5 59.9,270.0 60.0,271.5 60.0,273.2 60.0,274.9 60.1,276.6 60.1,278.3 60.2,280.0 60.3,281.7 60.5,283.5 60.6,285.3 60.8,287.0 60.9,288.6 61.1,290.0 61.3,291.1 61.4,292.0 61.6,292.8 61.8,293.5 62.0,294.2 62.1,295.0 62.2,295.8 62.3,296.5 62.4,297.2 62.5,298.0 62.5,298.9 62.5,300.0 62.4,301.4 62.3,303.0 62.2,304.7 62.1,306.5 61.9,308.3 61.8,310.0 61.7,311.7 61.7,313.3 61.6,315.0 61.6,316.7 61.5,318.3 61.4,320.0 61.2,321.7 61.1,323.5 60.9,325.2 60.6,327.0 60.4,328.6 60.2,330.0 60.0,331.3 59.8,332.5 59.5,333.6 59.3,334.6 59.1,335.4 59.0,336.0 59.0,336.0 59.0,262.3Z" fill="url(#v8)"/>
<linearGradient id="v9" gradientUnits="userSpaceOnUse" x1="0" y1="264.0" x2="0" y2="324.0"><stop offset="0" stop-color="#1b5995" stop-opacity="0.25"/><stop offset="0.183" stop-color="#1b5995"/><stop offset="0.959" stop-color="#1b5995"/><stop offset="1" stop-color="#1b5995" stop-opacity="0.25"/></linearGradient>
<path d="M76.8,264.0 76.7,265.2 76.5,266.9 76.3,268.9 76.1,271.0 76.0,273.1 75.8,275.0 75.7,276.7 75.6,278.5 75.5,280.2 75.4,281.9 75.2,283.5 75.1,285.0 74.9,286.5 74.8,287.9 74.6,289.2 74.4,290.5 74.1,291.7 73.9,293.0 73.6,294.2 73.3,295.5 72.9,296.7 72.6,297.9 72.2,299.0 72.0,300.0 71.8,300.9 71.7,301.8 71.6,302.6 71.5,303.4 71.5,304.2 71.5,305.0 71.5,305.8 71.5,306.7 71.6,307.5 71.7,308.3 71.8,309.2 72.0,310.0 72.2,310.8 72.5,311.7 72.9,312.5 73.3,313.3 73.6,314.2 73.9,315.0 74.2,315.8 74.4,316.7 74.6,317.6 74.8,318.4 75.1,319.2 75.3,320.0 75.6,320.8 75.8,321.6 76.1,322.3 76.4,323.0 76.6,323.6 76.8,324.0 76.8,324.0 76.8,264.0Z" fill="url(#v9)"/>
<linearGradient id="v10" gradientUnits="userSpaceOnUse" x1="0" y1="256.0" x2="0" y2="330.0"><stop offset="0" stop-color="#cf1239" stop-opacity="0.25"/><stop offset="0.166" stop-color="#cf1239"/><stop offset="0.899" stop-color="#cf1239"/><stop offset="1" stop-color="#cf1239" stop-opacity="0.25"/></linearGradient>
<path d="M76.8,256.0 76.9,257.0 77.0,258.3 77.2,259.9 77.3,261.6 77.5,263.3 77.6,265.0 77.7,266.6 77.8,268.3 77.8,269.9 77.9,271.6 77.9,273.3 78.0,275.0 78.1,276.7 78.1,278.4 78.2,280.1 78.3,281.8 78.4,283.4 78.5,285.0 78.7,286.5 78.9,287.9 79.1,289.2 79.4,290.5 79.6,291.7 79.9,293.0 80.2,294.2 80.5,295.5 80.8,296.7 81.1,297.9 81.3,299.0 81.6,300.0 81.9,300.9 82.1,301.8 82.3,302.6 82.6,303.4 82.7,304.2 82.8,305.0 82.8,305.8 82.7,306.7 82.6,307.5 82.5,308.3 82.3,309.2 82.1,310.0 81.9,310.8 81.6,311.7 81.3,312.5 81.0,313.3 80.7,314.2 80.4,315.0 80.1,315.8 79.8,316.7 79.4,317.5 79.1,318.3 78.8,319.2 78.5,320.0 78.3,320.8 78.1,321.7 77.9,322.5 77.7,323.3 77.5,324.2 77.4,325.0 77.3,325.9 77.1,326.9 77.0,327.8 76.9,328.7 76.9,329.5 76.8,330.0 76.8,330.0 76.8,256.0Z" fill="url(#v10)"/>
<linearGradient id="v11" gradientUnits="userSpaceOnUse" x1="0" y1="260.7" x2="0" y2="323.0"><stop offset="0" stop-color="#1b5995" stop-opacity="0.25"/><stop offset="0.069" stop-color="#1b5995"/><stop offset="0.942" stop-color="#1b5995"/><stop offset="1" stop-color="#1b5995" stop-opacity="0.25"/></linearGradient>
<path d="M95.0,260.7 94.9,261.2 94.7,261.8 94.6,262.5 94.4,263.4 94.2,264.2 94.1,265.0 94.0,265.7 93.9,266.4 93.9,267.1 93.9,267.9 93.8,268.9 93.8,270.0 93.8,271.4 93.8,273.1 93.9,275.0 93.9,276.9 93.9,278.6 93.8,280.0 93.7,281.1 93.5,282.0 93.3,282.8 93.0,283.5 92.8,284.2 92.6,285.0 92.4,285.8 92.2,286.7 92.0,287.5 91.8,288.3 91.7,289.2 91.6,290.0 91.6,290.8 91.7,291.7 91.8,292.5 91.9,293.3 92.0,294.2 92.0,295.0 92.0,295.8 91.9,296.7 91.8,297.5 91.7,298.3 91.6,299.2 91.4,300.0 91.2,300.9 90.8,301.7 90.5,302.6 90.1,303.5 89.8,304.3 89.6,305.0 89.5,305.6 89.4,306.1 89.3,306.6 89.3,307.0 89.3,307.5 89.4,308.0 89.5,308.6 89.7,309.3 89.9,309.9 90.1,310.6 90.3,311.3 90.6,312.0 90.9,312.7 91.2,313.3 91.6,314.0 91.9,314.7 92.3,315.3 92.6,316.0 92.9,316.7 93.2,317.4 93.5,318.1 93.7,318.7 94.0,319.4 94.2,320.0 94.4,320.6 94.6,321.2 94.7,321.8 94.8,322.3 94.9,322.7 95.0,323.0 95.0,323.0 95.0,260.7Z" fill="url(#v11)"/>
<linearGradient id="v12" gradientUnits="userSpaceOnUse" x1="0" y1="260.7" x2="0" y2="323.0"><stop offset="0" stop-color="#cf1239" stop-opacity="0.25"/><stop offset="0.069" stop-color="#cf1239"/><stop offset="0.942" stop-color="#cf1239"/><stop offset="1" stop-color="#cf1239" stop-opacity="0.25"/></linearGradient>
<path d="M95.0,260.7 95.1,261.2 95.3,261.8 95.4,262.5 95.6,263.4 95.8,264.2 95.9,265.0 96.0,265.7 96.1,266.4 96.1,267.1 96.1,267.9 96.2,268.9 96.2,270.0 96.2,271.4 96.2,273.1 96.1,275.0 96.1,276.9 96.1,278.6 96.2,280.0 96.3,281.1 96.5,282.0 96.7,282.8 97.0,283.5 97.2,284.2 97.4,285.0 97.6,285.8 97.9,286.7 98.1,287.5 98.3,288.3 98.5,289.2 98.6,290.0 98.6,290.8 98.5,291.7 98.3,292.5 98.2,293.3 98.1,294.2 98.0,295.0 98.0,295.8 98.1,296.7 98.2,297.5 98.3,298.3 98.5,299.2 98.6,300.0 98.8,300.9 99.0,301.7 99.2,302.6 99.4,303.5 99.6,304.3 99.8,305.0 99.9,305.6 100.0,306.1 100.1,306.6 100.2,307.0 100.2,307.5 100.2,308.0 100.1,308.6 100.0,309.3 99.8,309.9 99.6,310.6 99.4,311.3 99.2,312.0 98.9,312.7 98.7,313.3 98.3,314.0 98.0,314.7 97.7,315.3 97.4,316.0 97.1,316.7 96.8,317.4 96.5,318.1 96.3,318.7 96.0,319.4 95.8,320.0 95.6,320.6 95.4,321.2 95.3,321.8 95.2,322.3 95.1,322.7 95.0,323.0 95.0,323.0 95.0,260.7Z" fill="url(#v12)"/>
<linearGradient id="v13" gradientUnits="userSpaceOnUse" x1="0" y1="277.5" x2="0" y2="345.7"><stop offset="0" stop-color="#1b5995" stop-opacity="0.25"/><stop offset="0.110" stop-color="#1b5995"/><stop offset="0.909" stop-color="#1b5995"/><stop offset="1" stop-color="#1b5995" stop-opacity="0.25"/></linearGradient>
<path d="M112.8,277.5 112.7,278.3 112.5,279.4 112.4,280.6 112.2,282.0 112.0,283.5 111.9,285.0 111.8,286.6 111.8,288.3 111.8,290.2 111.8,291.9 111.7,293.6 111.7,295.0 111.6,296.1 111.6,297.0 111.5,297.8 111.4,298.5 111.3,299.2 111.1,300.0 110.9,300.8 110.6,301.7 110.3,302.5 110.1,303.3 109.8,304.2 109.6,305.0 109.4,305.8 109.3,306.6 109.2,307.3 109.2,308.1 109.1,309.0 109.0,310.0 108.9,311.2 108.8,312.5 108.7,313.9 108.6,315.3 108.5,316.7 108.5,318.0 108.5,319.2 108.6,320.4 108.6,321.6 108.7,322.7 108.9,323.8 109.0,325.0 109.2,326.2 109.3,327.4 109.5,328.6 109.8,329.7 110.0,330.9 110.2,332.0 110.4,333.1 110.6,334.1 110.9,335.2 111.1,336.2 111.3,337.1 111.5,338.0 111.7,338.8 111.8,339.5 112.0,340.1 112.1,340.8 112.2,341.4 112.3,342.0 112.4,342.7 112.5,343.4 112.6,344.1 112.7,344.8 112.7,345.3 112.8,345.7 112.8,345.7 112.8,277.5Z" fill="url(#v13)"/>
<linearGradient id="v14" gradientUnits="userSpaceOnUse" x1="0" y1="277.5" x2="0" y2="341.0"><stop offset="0" stop-color="#cf1239" stop-opacity="0.25"/><stop offset="0.118" stop-color="#cf1239"/><stop offset="0.940" stop-color="#cf1239"/><stop offset="1" stop-color="#cf1239" stop-opacity="0.25"/></linearGradient>
<path d="M112.8,277.5 112.9,278.3 113.1,279.4 113.2,280.6 113.4,282.0 113.6,283.5 113.7,285.0 113.8,286.6 113.8,288.3 113.8,290.2 113.8,291.9 113.9,293.6 113.9,295.0 114.0,296.1 114.0,297.0 114.1,297.8 114.1,298.5 114.2,299.2 114.3,300.0 114.4,300.8 114.5,301.7 114.6,302.5 114.7,303.3 114.8,304.2 114.9,305.0 115.1,305.8 115.2,306.6 115.4,307.3 115.6,308.1 115.8,309.0 116.0,310.0 116.2,311.2 116.4,312.5 116.6,313.9 116.8,315.3 117.0,316.7 117.1,318.0 117.2,319.2 117.2,320.4 117.2,321.6 117.2,322.7 117.2,323.8 117.1,325.0 117.0,326.2 116.9,327.4 116.7,328.6 116.5,329.7 116.3,330.9 116.0,332.0 115.6,333.1 115.2,334.2 114.7,335.2 114.2,336.3 113.7,337.2 113.4,338.0 113.2,338.7 113.0,339.3 112.9,339.9 112.9,340.3 112.8,340.7 112.8,341.0 112.8,341.0 112.8,277.5Z" fill="url(#v14)"/>
<linearGradient id="v15" gradientUnits="userSpaceOnUse" x1="0" y1="280.7" x2="0" y2="335.0"><stop offset="0" stop-color="#1b5995" stop-opacity="0.25"/><stop offset="0.171" stop-color="#1b5995"/><stop offset="0.942" stop-color="#1b5995"/><stop offset="1" stop-color="#1b5995" stop-opacity="0.25"/></linearGradient>
<path d="M130.5,280.7 130.4,281.7 130.2,283.2 130.0,284.8 129.8,286.7 129.6,288.4 129.5,290.0 129.4,291.4 129.4,292.8 129.3,294.1 129.3,295.5 129.2,296.7 129.0,298.0 128.7,299.2 128.4,300.5 127.9,301.7 127.5,302.9 127.1,304.0 126.7,305.0 126.3,306.0 126.0,306.9 125.6,307.7 125.3,308.5 125.0,309.3 124.7,310.0 124.5,310.7 124.3,311.2 124.1,311.8 124.0,312.3 123.9,312.9 124.0,313.7 124.2,314.6 124.5,315.7 124.9,316.8 125.3,317.9 125.7,319.0 126.0,320.0 126.3,320.9 126.5,321.8 126.8,322.6 127.0,323.4 127.3,324.2 127.5,325.0 127.8,325.8 128.0,326.7 128.2,327.5 128.5,328.3 128.8,329.2 129.0,330.0 129.3,330.9 129.6,331.9 129.8,332.8 130.1,333.7 130.3,334.5 130.5,335.0 130.5,335.0 130.5,280.7Z" fill="url(#v15)"/>
<linearGradient id="v16" gradientUnits="userSpaceOnUse" x1="0" y1="280.7" x2="0" y2="336.0"><stop offset="0" stop-color="#cf1239" stop-opacity="0.25"/><stop offset="0.168" stop-color="#cf1239"/><stop offset="0.930" stop-color="#cf1239"/><stop offset="1" stop-color="#cf1239" stop-opacity="0.25"/></linearGradient>
<path d="M130.5,280.7 130.6,281.7 130.8,283.2 131.0,284.8 131.2,286.7 131.3,288.4 131.5,290.0 131.6,291.4 131.7,292.8 131.8,294.1 131.9,295.5 132.0,296.7 132.2,298.0 132.4,299.2 132.7,300.5 133.0,301.7 133.3,302.9 133.7,304.0 134.1,305.0 134.5,306.0 135.1,306.9 135.6,307.7 136.1,308.5 136.6,309.3 137.0,310.0 137.3,310.7 137.5,311.2 137.7,311.8 137.9,312.3 137.9,312.9 137.9,313.7 137.8,314.6 137.6,315.7 137.3,316.8 137.0,317.9 136.6,319.0 136.3,320.0 136.0,320.9 135.6,321.8 135.2,322.6 134.8,323.4 134.5,324.2 134.1,325.0 133.7,325.8 133.4,326.6 133.0,327.4 132.7,328.3 132.3,329.1 132.0,330.0 131.7,331.0 131.4,332.1 131.1,333.3 130.9,334.4 130.7,335.3 130.5,336.0 130.5,336.0 130.5,280.7Z" fill="url(#v16)"/>
<linearGradient id="v17" gradientUnits="userSpaceOnUse" x1="0" y1="293.0" x2="0" y2="344.0"><stop offset="0" stop-color="#1b5995" stop-opacity="0.25"/><stop offset="0.137" stop-color="#1b5995"/><stop offset="0.896" stop-color="#1b5995"/><stop offset="1" stop-color="#1b5995" stop-opacity="0.25"/></linearGradient>
<path d="M148.6,293.0 148.5,293.7 148.3,294.7 148.1,295.9 147.9,297.2 147.7,298.6 147.6,300.0 147.5,301.5 147.5,303.1 147.4,304.8 147.4,306.6 147.3,308.3 147.3,310.0 147.2,311.7 147.1,313.3 147.1,315.0 147.0,316.7 146.9,318.3 146.9,320.0 146.9,321.7 147.0,323.3 147.0,325.0 147.1,326.7 147.2,328.3 147.3,330.0 147.4,331.7 147.4,333.6 147.5,335.4 147.6,337.1 147.7,338.7 147.8,340.0 147.9,341.1 148.1,341.9 148.2,342.6 148.4,343.2 148.5,343.6 148.6,344.0 148.6,344.0 148.6,293.0Z" fill="url(#v17)"/>
<linearGradient id="v18" gradientUnits="userSpaceOnUse" x1="0" y1="293.0" x2="0" y2="333.7"><stop offset="0" stop-color="#cf1239" stop-opacity="0.25"/><stop offset="0.210" stop-color="#cf1239"/><stop offset="0.940" stop-color="#cf1239"/><stop offset="1" stop-color="#cf1239" stop-opacity="0.25"/></linearGradient>
<path d="M148.6,293.0 148.7,293.7 148.8,294.7 149.0,295.9 149.1,297.2 149.3,298.6 149.4,300.0 149.5,301.5 149.6,303.3 149.7,305.1 149.8,306.9 149.9,308.5 150.1,310.0 150.3,311.2 150.6,312.3 150.8,313.3 151.1,314.2 151.4,315.1 151.6,316.0 151.8,317.0 152.1,317.9 152.3,318.8 152.5,319.8 152.6,320.7 152.6,321.7 152.5,322.7 152.3,323.8 152.1,324.9 151.8,325.9 151.4,327.0 151.1,328.0 150.7,329.1 150.2,330.2 149.8,331.2 149.3,332.2 148.9,333.1 148.6,333.7 148.6,333.7 148.6,293.0Z" fill="url(#v18)"/>
<linearGradient id="v19" gradientUnits="userSpaceOnUse" x1="0" y1="296.0" x2="0" y2="335.5"><stop offset="0" stop-color="#1b5995" stop-opacity="0.25"/><stop offset="0.082" stop-color="#1b5995"/><stop offset="0.965" stop-color="#1b5995"/><stop offset="1" stop-color="#1b5995" stop-opacity="0.25"/></linearGradient>
<path d="M166.8,296.0 166.7,296.4 166.5,297.0 166.3,297.7 166.1,298.4 165.8,299.2 165.6,300.0 165.3,300.8 165.1,301.6 164.8,302.4 164.5,303.3 164.2,304.2 163.9,305.0 163.6,305.8 163.3,306.6 163.0,307.3 162.7,308.1 162.4,309.0 162.1,310.0 161.8,311.2 161.5,312.6 161.3,314.1 161.0,315.5 160.8,316.9 160.7,318.0 160.6,318.9 160.6,319.6 160.6,320.1 160.6,320.7 160.7,321.3 160.9,322.0 161.1,322.9 161.5,323.9 161.8,324.9 162.2,326.0 162.6,327.0 163.0,328.0 163.4,328.9 163.7,329.8 164.1,330.7 164.4,331.6 164.8,332.3 165.1,333.0 165.4,333.6 165.8,334.1 166.1,334.6 166.4,334.9 166.6,335.3 166.8,335.5 166.8,335.5 166.8,296.0Z" fill="url(#v19)"/>
<linearGradient id="v20" gradientUnits="userSpaceOnUse" x1="0" y1="290.0" x2="0" y2="336.0"><stop offset="0" stop-color="#cf1239" stop-opacity="0.25"/><stop offset="0.163" stop-color="#cf1239"/><stop offset="0.935" stop-color="#cf1239"/><stop offset="1" stop-color="#cf1239" stop-opacity="0.25"/></linearGradient>
<path d="M166.8,290.0 166.8,290.5 166.9,291.3 166.9,292.2 167.0,293.1 167.1,294.1 167.2,295.0 167.4,295.8 167.6,296.7 167.8,297.5 168.0,298.3 168.3,299.2 168.5,300.0 168.7,300.8 169.0,301.7 169.2,302.5 169.4,303.3 169.7,304.2 169.9,305.0 170.1,305.8 170.3,306.6 170.5,307.3 170.7,308.1 170.9,309.0 171.1,310.0 171.3,311.2 171.6,312.6 171.9,314.1 172.2,315.5 172.4,316.9 172.5,318.0 172.6,318.9 172.6,319.6 172.6,320.1 172.5,320.7 172.4,321.3 172.2,322.0 171.9,322.9 171.6,323.9 171.2,324.9 170.7,326.0 170.3,327.0 169.9,328.0 169.5,328.9 169.1,329.8 168.7,330.7 168.3,331.5 168.0,332.3 167.7,333.0 167.5,333.7 167.3,334.3 167.1,334.8 167.0,335.3 166.9,335.7 166.8,336.0 166.8,336.0 166.8,290.0Z" fill="url(#v20)"/>
<linearGradient id="v21" gradientUnits="userSpaceOnUse" x1="0" y1="274.6" x2="0" y2="340.0"><stop offset="0" stop-color="#1b5995" stop-opacity="0.25"/><stop offset="0.241" stop-color="#1b5995"/><stop offset="0.939" stop-color="#1b5995"/><stop offset="1" stop-color="#1b5995" stop-opacity="0.25"/></linearGradient>
<path d="M185.0,274.6 184.9,275.7 184.8,277.3 184.7,279.2 184.5,281.2 184.4,283.2 184.3,285.0 184.2,286.7 184.1,288.5 184.1,290.3 184.0,292.1 184.0,293.6 183.9,295.0 183.8,296.1 183.8,297.0 183.8,297.8 183.7,298.5 183.6,299.2 183.5,300.0 183.3,300.8 183.0,301.7 182.7,302.5 182.4,303.3 182.1,304.2 181.8,305.0 181.5,305.8 181.2,306.6 180.9,307.3 180.6,308.1 180.3,309.0 180.1,310.0 179.9,311.2 179.7,312.5 179.5,313.9 179.3,315.3 179.2,316.7 179.2,318.0 179.2,319.2 179.3,320.4 179.4,321.6 179.6,322.7 179.8,323.8 180.1,325.0 180.4,326.2 180.8,327.4 181.3,328.7 181.7,329.9 182.1,331.0 182.5,332.0 182.8,332.8 183.1,333.6 183.3,334.2 183.6,334.8 183.8,335.4 184.0,336.0 184.2,336.7 184.4,337.5 184.6,338.2 184.8,339.0 184.9,339.6 185.0,340.0 185.0,340.0 185.0,274.6Z" fill="url(#v21)"/>
<linearGradient id="v22" gradientUnits="userSpaceOnUse" x1="0" y1="274.6" x2="0" y2="340.0"><stop offset="0" stop-color="#cf1239" stop-opacity="0.25"/><stop offset="0.241" stop-color="#cf1239"/><stop offset="0.911" stop-color="#cf1239"/><stop offset="1" stop-color="#cf1239" stop-opacity="0.25"/></linearGradient>
<path d="M185.0,274.6 185.1,275.7 185.2,277.3 185.3,279.2 185.5,281.2 185.6,283.2 185.7,285.0 185.8,286.7 185.9,288.5 185.9,290.3 186.0,292.1 186.0,293.6 186.1,295.0 186.2,296.1 186.2,297.0 186.2,297.8 186.3,298.5 186.4,299.2 186.5,300.0 186.7,300.8 186.9,301.7 187.1,302.5 187.4,303.3 187.6,304.2 187.8,305.0 187.9,305.8 188.1,306.6 188.1,307.3 188.2,308.1 188.4,309.0 188.6,310.0 188.9,311.2 189.4,312.5 189.8,313.9 190.3,315.3 190.6,316.7 190.8,318.0 190.8,319.2 190.6,320.4 190.4,321.6 190.0,322.7 189.7,323.8 189.3,325.0 188.9,326.2 188.4,327.4 187.9,328.7 187.3,329.9 186.9,331.0 186.5,332.0 186.2,332.8 186.0,333.6 185.9,334.2 185.8,334.8 185.7,335.4 185.6,336.0 185.5,336.7 185.4,337.5 185.2,338.2 185.1,339.0 185.1,339.6 185.0,340.0 185.0,340.0 185.0,274.6Z" fill="url(#v22)"/>
<linearGradient id="v23" gradientUnits="userSpaceOnUse" x1="0" y1="291.7" x2="0" y2="339.0"><stop offset="0" stop-color="#1b5995" stop-opacity="0.25"/><stop offset="0.148" stop-color="#1b5995"/><stop offset="0.937" stop-color="#1b5995"/><stop offset="1" stop-color="#1b5995" stop-opacity="0.25"/></linearGradient>
<path d="M202.5,291.7 202.4,292.6 202.2,294.0 202.0,295.5 201.8,297.2 201.5,298.7 201.3,300.0 201.1,301.0 200.8,301.9 200.5,302.7 200.2,303.5 200.0,304.2 199.7,305.0 199.4,305.8 199.2,306.5 199.0,307.2 198.7,308.0 198.5,308.9 198.2,310.0 197.9,311.3 197.5,312.8 197.2,314.4 196.8,316.1 196.6,317.6 196.4,319.0 196.4,320.2 196.4,321.2 196.5,322.1 196.7,323.0 196.9,324.0 197.2,325.0 197.6,326.1 198.0,327.4 198.5,328.6 199.0,329.9 199.5,331.0 199.9,332.0 200.2,332.9 200.5,333.6 200.8,334.2 201.1,334.9 201.3,335.4 201.5,336.0 201.7,336.6 201.9,337.2 202.1,337.8 202.3,338.3 202.4,338.7 202.5,339.0 202.5,339.0 202.5,291.7Z" fill="url(#v23)"/>
<linearGradient id="v24" gradientUnits="userSpaceOnUse" x1="0" y1="291.7" x2="0" y2="343.0"><stop offset="0" stop-color="#cf1239" stop-opacity="0.25"/><stop offset="0.137" stop-color="#cf1239"/><stop offset="0.848" stop-color="#cf1239"/><stop offset="1" stop-color="#cf1239" stop-opacity="0.25"/></linearGradient>
<path d="M202.5,291.7 202.6,292.6 202.8,294.0 203.0,295.5 203.2,297.2 203.5,298.7 203.7,300.0 203.9,301.0 204.1,301.9 204.4,302.7 204.6,303.5 204.8,304.2 205.1,305.0 205.4,305.8 205.6,306.5 205.9,307.2 206.2,308.0 206.5,308.9 206.8,310.0 207.1,311.3 207.5,312.8 207.9,314.4 208.3,316.1 208.6,317.6 208.7,319.0 208.7,320.2 208.6,321.2 208.3,322.1 208.1,323.0 207.7,324.0 207.4,325.0 207.0,326.1 206.5,327.4 206.0,328.6 205.5,329.9 205.0,331.0 204.6,332.0 204.3,332.8 204.0,333.4 203.8,334.0 203.6,334.6 203.5,335.2 203.3,336.0 203.1,337.1 203.0,338.4 202.8,339.8 202.7,341.1 202.6,342.2 202.5,343.0 202.5,343.0 202.5,291.7Z" fill="url(#v24)"/>
<linearGradient id="v25" gradientUnits="userSpaceOnUse" x1="0" y1="254.7" x2="0" y2="335.5"><stop offset="0" stop-color="#1b5995" stop-opacity="0.25"/><stop offset="0.169" stop-color="#1b5995"/><stop offset="0.932" stop-color="#1b5995"/><stop offset="1" stop-color="#1b5995" stop-opacity="0.25"/></linearGradient>
<path d="M220.4,254.7 220.3,255.8 220.2,257.4 220.0,259.2 219.9,261.2 219.7,263.2 219.6,265.0 219.5,266.7 219.4,268.4 219.4,270.0 219.3,271.7 219.3,273.3 219.2,275.0 219.1,276.7 219.0,278.3 218.9,280.0 218.8,281.7 218.7,283.3 218.6,285.0 218.5,286.7 218.4,288.5 218.2,290.3 218.1,292.0 218.0,293.6 217.9,295.0 217.8,296.1 217.8,296.9 217.7,297.5 217.7,298.1 217.7,298.9 217.6,300.0 217.5,301.4 217.4,303.0 217.2,304.8 217.1,306.6 217.0,308.4 217.0,310.0 217.0,311.5 217.1,312.9 217.2,314.2 217.3,315.5 217.4,316.7 217.6,318.0 217.8,319.2 218.0,320.5 218.2,321.7 218.5,322.9 218.7,324.0 218.9,325.0 219.0,325.9 219.1,326.8 219.2,327.6 219.3,328.4 219.4,329.2 219.5,330.0 219.6,331.0 219.8,332.0 220.0,333.1 220.2,334.1 220.3,334.9 220.4,335.5 220.4,335.5 220.4,254.7Z" fill="url(#v25)"/>
<linearGradient id="v26" gradientUnits="userSpaceOnUse" x1="0" y1="254.7" x2="0" y2="335.0"><stop offset="0" stop-color="#cf1239" stop-opacity="0.25"/><stop offset="0.170" stop-color="#cf1239"/><stop offset="0.938" stop-color="#cf1239"/><stop offset="1" stop-color="#cf1239" stop-opacity="0.25"/></linearGradient>
<path d="M220.4,254.7 220.5,255.8 220.6,257.4 220.8,259.2 220.9,261.2 221.1,263.2 221.2,265.0 221.3,266.7 221.4,268.4 221.4,270.0 221.5,271.7 221.5,273.3 221.6,275.0 221.7,276.7 221.8,278.3 221.9,280.0 222.0,281.7 222.1,283.3 222.2,285.0 222.3,286.7 222.4,288.5 222.5,290.3 222.6,292.0 222.7,293.6 222.8,295.0 222.8,296.1 222.9,296.9 222.8,297.5 222.9,298.1 222.9,298.9 223.0,300.0 223.2,301.4 223.4,303.0 223.7,304.8 223.9,306.6 224.2,308.4 224.4,310.0 224.6,311.5 224.8,312.9 225.0,314.2 225.1,315.5 225.2,316.7 225.1,318.0 224.9,319.2 224.6,320.5 224.2,321.7 223.8,322.9 223.4,324.0 223.0,325.0 222.7,325.9 222.4,326.8 222.1,327.6 221.9,328.4 221.6,329.2 221.4,330.0 221.2,330.9 221.0,331.9 220.8,332.8 220.6,333.7 220.5,334.5 220.4,335.0 220.4,335.0 220.4,254.7Z" fill="url(#v26)"/>
<linearGradient id="v27" gradientUnits="userSpaceOnUse" x1="0" y1="296.0" x2="0" y2="337.8"><stop offset="0" stop-color="#1b5995" stop-opacity="0.25"/><stop offset="0.096" stop-color="#1b5995"/><stop offset="0.885" stop-color="#1b5995"/><stop offset="1" stop-color="#1b5995" stop-opacity="0.25"/></linearGradient>
<path d="M238.5,296.0 238.4,296.4 238.3,297.0 238.1,297.6 237.9,298.4 237.8,299.2 237.6,300.0 237.4,300.9 237.2,301.9 237.0,302.9 236.8,303.9 236.7,305.0 236.6,306.0 236.6,307.0 236.7,308.0 236.8,309.1 237.0,310.1 237.1,311.0 237.3,312.0 237.5,312.9 237.7,313.8 237.9,314.7 238.1,315.5 238.2,316.4 238.3,317.2 238.2,318.0 238.1,318.8 237.9,319.6 237.7,320.4 237.5,321.2 237.3,322.0 237.1,322.8 237.0,323.6 236.8,324.4 236.7,325.2 236.6,326.0 236.6,326.8 236.6,327.6 236.7,328.5 236.8,329.3 237.0,330.2 237.1,331.1 237.3,332.0 237.5,333.0 237.7,334.1 237.9,335.2 238.2,336.3 238.4,337.2 238.5,337.8 238.5,337.8 238.5,296.0Z" fill="url(#v27)"/>
<linearGradient id="v28" gradientUnits="userSpaceOnUse" x1="0" y1="295.0" x2="0" y2="338.0"><stop offset="0" stop-color="#cf1239" stop-opacity="0.25"/><stop offset="0.116" stop-color="#cf1239"/><stop offset="0.884" stop-color="#cf1239"/><stop offset="1" stop-color="#cf1239" stop-opacity="0.25"/></linearGradient>
<path d="M238.5,295.0 238.6,295.5 238.8,296.3 238.9,297.1 239.1,298.1 239.3,299.1 239.5,300.0 239.7,300.9 239.8,301.9 240.0,302.9 240.1,304.0 240.2,305.0 240.3,306.0 240.3,307.0 240.2,308.0 240.1,309.1 240.0,310.1 239.8,311.0 239.7,312.0 239.5,312.9 239.3,313.8 239.1,314.7 238.9,315.5 238.8,316.4 238.7,317.2 238.8,318.0 238.9,318.8 239.1,319.6 239.3,320.4 239.5,321.2 239.7,322.0 239.9,322.8 240.0,323.6 240.2,324.4 240.3,325.2 240.4,326.0 240.4,326.8 240.4,327.6 240.3,328.5 240.2,329.3 240.0,330.2 239.9,331.1 239.7,332.0 239.5,333.0 239.3,334.2 239.1,335.3 238.8,336.4 238.6,337.3 238.5,338.0 238.5,338.0 238.5,295.0Z" fill="url(#v28)"/>
<linearGradient id="v29" gradientUnits="userSpaceOnUse" x1="0" y1="261.3" x2="0" y2="341.7"><stop offset="0" stop-color="#1b5995" stop-opacity="0.25"/><stop offset="0.108" stop-color="#1b5995"/><stop offset="0.917" stop-color="#1b5995"/><stop offset="1" stop-color="#1b5995" stop-opacity="0.25"/></linearGradient>
<path d="M320.6,261.3 320.5,262.2 320.3,263.5 320.2,265.0 320.0,266.7 319.8,268.4 319.7,270.0 319.6,271.6 319.6,273.2 319.6,274.9 319.5,276.6 319.5,278.3 319.4,280.0 319.3,281.7 319.1,283.5 318.9,285.3 318.8,287.0 318.6,288.6 318.4,290.0 318.2,291.1 318.1,292.0 317.9,292.8 317.8,293.5 317.6,294.2 317.5,295.0 317.4,295.8 317.2,296.5 317.1,297.2 317.0,298.0 316.9,298.9 316.9,300.0 317.0,301.3 317.1,302.8 317.3,304.4 317.4,306.1 317.6,308.0 317.8,310.0 318.0,312.3 318.1,314.8 318.2,317.5 318.4,320.2 318.6,322.7 318.7,325.0 318.8,327.0 319.0,328.8 319.1,330.5 319.3,332.1 319.4,333.6 319.6,335.0 319.8,336.4 320.0,337.7 320.2,339.0 320.3,340.1 320.5,341.0 320.6,341.7 320.6,341.7 320.6,261.3Z" fill="url(#v29)"/>
<linearGradient id="v30" gradientUnits="userSpaceOnUse" x1="0" y1="261.3" x2="0" y2="340.0"><stop offset="0" stop-color="#cf1239" stop-opacity="0.25"/><stop offset="0.111" stop-color="#cf1239"/><stop offset="0.901" stop-color="#cf1239"/><stop offset="1" stop-color="#cf1239" stop-opacity="0.25"/></linearGradient>
<path d="M320.6,261.3 320.7,262.2 320.9,263.5 321.0,265.0 321.2,266.7 321.4,268.4 321.5,270.0 321.6,271.6 321.6,273.2 321.6,274.9 321.7,276.6 321.7,278.3 321.8,280.0 321.9,281.7 322.1,283.5 322.2,285.3 322.4,287.0 322.6,288.6 322.8,290.0 323.0,291.1 323.3,292.0 323.6,292.8 323.8,293.5 324.0,294.2 324.2,295.0 324.3,295.8 324.3,296.5 324.3,297.2 324.3,298.0 324.2,298.9 324.2,300.0 324.2,301.3 324.2,302.8 324.2,304.4 324.1,306.1 324.0,308.0 323.9,310.0 323.7,312.3 323.4,314.8 323.2,317.5 322.8,320.2 322.6,322.7 322.3,325.0 322.1,327.0 321.9,328.9 321.7,330.6 321.5,332.2 321.3,333.7 321.2,335.0 321.1,336.2 320.9,337.2 320.8,338.1 320.7,338.9 320.7,339.5 320.6,340.0 320.6,340.0 320.6,261.3Z" fill="url(#v30)"/>
<linearGradient id="v31" gradientUnits="userSpaceOnUse" x1="0" y1="262.0" x2="0" y2="323.0"><stop offset="0" stop-color="#1b5995" stop-opacity="0.25"/><stop offset="0.213" stop-color="#1b5995"/><stop offset="0.951" stop-color="#1b5995"/><stop offset="1" stop-color="#1b5995" stop-opacity="0.25"/></linearGradient>
<path d="M338.7,262.0 338.6,263.4 338.4,265.5 338.2,267.9 338.1,270.4 337.9,272.9 337.7,275.0 337.6,276.9 337.4,278.6 337.3,280.3 337.2,281.9 337.1,283.5 336.9,285.0 336.7,286.5 336.5,287.9 336.3,289.2 336.1,290.5 335.9,291.7 335.7,293.0 335.5,294.3 335.4,295.5 335.2,296.8 335.1,297.9 334.9,299.0 334.7,300.0 334.5,300.8 334.2,301.4 333.8,301.9 333.6,302.4 333.4,303.0 333.3,303.7 333.4,304.6 333.6,305.7 333.8,306.8 334.1,307.9 334.4,309.0 334.7,310.0 334.9,310.9 335.1,311.8 335.3,312.6 335.5,313.4 335.8,314.2 336.0,315.0 336.3,315.9 336.6,316.7 336.9,317.6 337.2,318.5 337.5,319.3 337.7,320.0 337.9,320.7 338.1,321.3 338.3,321.8 338.5,322.3 338.6,322.7 338.7,323.0 338.7,323.0 338.7,262.0Z" fill="url(#v31)"/>
<linearGradient id="v32" gradientUnits="userSpaceOnUse" x1="0" y1="255.3" x2="0" y2="330.0"><stop offset="0" stop-color="#cf1239" stop-opacity="0.25"/><stop offset="0.174" stop-color="#cf1239"/><stop offset="0.866" stop-color="#cf1239"/><stop offset="1" stop-color="#cf1239" stop-opacity="0.25"/></linearGradient>
<path d="M338.7,255.3 338.8,256.4 338.9,257.8 339.1,259.5 339.2,261.4 339.4,263.3 339.5,265.0 339.6,266.6 339.6,268.3 339.7,270.0 339.8,271.7 339.8,273.3 339.9,275.0 340.0,276.7 340.1,278.4 340.3,280.1 340.4,281.8 340.6,283.4 340.7,285.0 340.9,286.5 341.0,287.9 341.2,289.2 341.3,290.5 341.5,291.7 341.7,293.0 341.9,294.3 342.1,295.5 342.3,296.8 342.5,297.9 342.7,299.0 342.9,300.0 343.2,300.8 343.5,301.4 343.8,301.9 344.0,302.4 344.2,303.0 344.3,303.7 344.2,304.6 344.0,305.7 343.7,306.8 343.4,307.9 343.0,309.0 342.7,310.0 342.4,310.9 342.0,311.8 341.7,312.6 341.3,313.4 341.0,314.2 340.7,315.0 340.5,315.8 340.3,316.5 340.1,317.2 340.0,318.0 339.9,318.9 339.7,320.0 339.5,321.5 339.3,323.3 339.1,325.3 339.0,327.2 338.8,328.9 338.7,330.0 338.7,330.0 338.7,255.3Z" fill="url(#v32)"/>
<linearGradient id="v33" gradientUnits="userSpaceOnUse" x1="0" y1="260.7" x2="0" y2="324.0"><stop offset="0" stop-color="#1b5995" stop-opacity="0.25"/><stop offset="0.068" stop-color="#1b5995"/><stop offset="0.926" stop-color="#1b5995"/><stop offset="1" stop-color="#1b5995" stop-opacity="0.25"/></linearGradient>
<path d="M356.6,260.7 356.5,261.2 356.3,261.8 356.2,262.5 356.0,263.4 355.8,264.2 355.7,265.0 355.6,265.7 355.5,266.4 355.5,267.1 355.5,267.9 355.4,268.9 355.4,270.0 355.4,271.4 355.4,273.1 355.5,275.0 355.5,276.9 355.5,278.6 355.4,280.0 355.2,281.1 355.0,282.0 354.8,282.8 354.5,283.5 354.2,284.2 354.0,285.0 353.8,285.8 353.6,286.7 353.4,287.5 353.2,288.3 353.0,289.2 353.0,290.0 353.1,290.8 353.2,291.7 353.5,292.5 353.7,293.3 353.9,294.2 354.0,295.0 354.0,295.8 354.0,296.7 353.9,297.5 353.7,298.3 353.6,299.2 353.4,300.0 353.2,300.9 352.8,301.7 352.5,302.6 352.1,303.5 351.8,304.3 351.6,305.0 351.4,305.6 351.3,306.1 351.3,306.6 351.3,307.0 351.3,307.5 351.3,308.0 351.4,308.6 351.5,309.3 351.6,309.9 351.8,310.6 352.0,311.3 352.2,312.0 352.4,312.7 352.7,313.3 353.0,314.0 353.4,314.7 353.7,315.3 354.0,316.0 354.3,316.7 354.6,317.3 355.0,318.0 355.3,318.7 355.6,319.3 355.8,320.0 356.0,320.7 356.2,321.5 356.3,322.2 356.4,323.0 356.5,323.6 356.6,324.0 356.6,324.0 356.6,260.7Z" fill="url(#v33)"/>
<linearGradient id="v34" gradientUnits="userSpaceOnUse" x1="0" y1="260.7" x2="0" y2="324.0"><stop offset="0" stop-color="#cf1239" stop-opacity="0.25"/><stop offset="0.068" stop-color="#cf1239"/><stop offset="0.926" stop-color="#cf1239"/><stop offset="1" stop-color="#cf1239" stop-opacity="0.25"/></linearGradient>
<path d="M356.6,260.7 356.7,261.2 356.9,261.8 357.0,262.5 357.2,263.4 357.4,264.2 357.5,265.0 357.6,265.7 357.7,266.4 357.7,267.1 357.7,267.9 357.8,268.9 357.8,270.0 357.8,271.4 357.8,273.1 357.7,275.0 357.7,276.9 357.7,278.6 357.8,280.0 357.9,281.1 358.1,282.0 358.3,282.8 358.5,283.5 358.8,284.2 359.0,285.0 359.3,285.8 359.6,286.7 360.0,287.5 360.3,288.3 360.5,289.2 360.6,290.0 360.5,290.8 360.3,291.7 360.1,292.5 359.8,293.3 359.5,294.2 359.4,295.0 359.4,295.8 359.4,296.7 359.5,297.5 359.7,298.3 359.8,299.2 360.0,300.0 360.2,300.9 360.4,301.7 360.7,302.6 361.0,303.5 361.2,304.3 361.4,305.0 361.5,305.6 361.6,306.1 361.7,306.6 361.8,307.0 361.8,307.5 361.8,308.0 361.8,308.6 361.7,309.3 361.6,309.9 361.4,310.6 361.3,311.3 361.1,312.0 360.9,312.7 360.6,313.3 360.3,314.0 360.0,314.7 359.7,315.3 359.4,316.0 359.1,316.7 358.7,317.3 358.3,318.0 358.0,318.7 357.7,319.3 357.4,320.0 357.2,320.7 357.0,321.5 356.9,322.2 356.8,323.0 356.7,323.6 356.6,324.0 356.6,324.0 356.6,260.7Z" fill="url(#v34)"/>
<linearGradient id="v35" gradientUnits="userSpaceOnUse" x1="0" y1="277.3" x2="0" y2="345.7"><stop offset="0" stop-color="#1b5995" stop-opacity="0.25"/><stop offset="0.113" stop-color="#1b5995"/><stop offset="0.909" stop-color="#1b5995"/><stop offset="1" stop-color="#1b5995" stop-opacity="0.25"/></linearGradient>
<path d="M374.4,277.3 374.3,278.1 374.1,279.2 374.0,280.5 373.8,282.0 373.6,283.5 373.5,285.0 373.4,286.6 373.4,288.3 373.4,290.2 373.4,292.0 373.3,293.6 373.3,295.0 373.3,296.1 373.2,297.0 373.2,297.8 373.1,298.5 373.0,299.2 372.9,300.0 372.7,300.8 372.5,301.7 372.3,302.5 372.0,303.3 371.8,304.2 371.6,305.0 371.4,305.8 371.2,306.6 371.0,307.3 370.9,308.1 370.7,309.0 370.6,310.0 370.5,311.2 370.4,312.5 370.3,313.9 370.2,315.3 370.1,316.7 370.1,318.0 370.1,319.2 370.2,320.4 370.2,321.6 370.3,322.7 370.5,323.8 370.6,325.0 370.8,326.2 370.9,327.4 371.1,328.6 371.4,329.7 371.6,330.9 371.8,332.0 372.0,333.1 372.2,334.1 372.5,335.2 372.7,336.2 372.9,337.1 373.1,338.0 373.3,338.8 373.4,339.5 373.5,340.1 373.7,340.8 373.8,341.4 373.9,342.0 374.0,342.7 374.1,343.4 374.2,344.1 374.3,344.8 374.3,345.3 374.4,345.7 374.4,345.7 374.4,277.3Z" fill="url(#v35)"/>
<linearGradient id="v36" gradientUnits="userSpaceOnUse" x1="0" y1="277.3" x2="0" y2="342.0"><stop offset="0" stop-color="#cf1239" stop-opacity="0.25"/><stop offset="0.119" stop-color="#cf1239"/><stop offset="0.938" stop-color="#cf1239"/><stop offset="1" stop-color="#cf1239" stop-opacity="0.25"/></linearGradient>
<path d="M374.4,277.3 374.5,278.1 374.7,279.2 374.8,280.5 375.0,282.0 375.2,283.5 375.3,285.0 375.4,286.6 375.4,288.3 375.4,290.2 375.4,292.0 375.5,293.6 375.5,295.0 375.6,296.1 375.6,297.0 375.7,297.8 375.7,298.5 375.8,299.2 375.9,300.0 376.0,300.8 376.1,301.7 376.1,302.5 376.2,303.3 376.3,304.2 376.5,305.0 376.7,305.8 376.9,306.6 377.2,307.3 377.5,308.1 377.8,309.0 378.0,310.0 378.2,311.2 378.4,312.5 378.6,313.9 378.8,315.3 379.0,316.7 379.1,318.0 379.2,319.2 379.2,320.4 379.3,321.6 379.3,322.7 379.2,323.8 379.1,325.0 378.9,326.2 378.7,327.4 378.4,328.6 378.1,329.7 377.7,330.9 377.4,332.0 377.1,333.1 376.7,334.1 376.4,335.2 376.0,336.2 375.7,337.1 375.4,338.0 375.2,338.8 375.0,339.6 374.8,340.4 374.6,341.0 374.5,341.6 374.4,342.0 374.4,342.0 374.4,277.3Z" fill="url(#v36)"/>
<linearGradient id="v37" gradientUnits="userSpaceOnUse" x1="0" y1="283.3" x2="0" y2="335.0"><stop offset="0" stop-color="#1b5995" stop-opacity="0.25"/><stop offset="0.130" stop-color="#1b5995"/><stop offset="0.921" stop-color="#1b5995"/><stop offset="1" stop-color="#1b5995" stop-opacity="0.25"/></linearGradient>
<path d="M392.5,283.3 392.4,284.0 392.3,285.0 392.1,286.2 391.9,287.4 391.7,288.7 391.6,290.0 391.5,291.3 391.5,292.6 391.4,294.0 391.4,295.4 391.3,296.7 391.1,298.0 390.8,299.2 390.4,300.5 390.0,301.7 389.5,302.9 389.1,304.0 388.7,305.0 388.4,306.0 388.1,306.9 387.8,307.8 387.5,308.6 387.3,309.3 387.0,310.0 386.7,310.6 386.3,311.0 386.0,311.4 385.7,311.8 385.5,312.3 385.5,313.0 385.7,314.0 386.1,315.1 386.6,316.4 387.1,317.7 387.6,318.9 388.0,320.0 388.3,320.9 388.6,321.8 388.9,322.6 389.2,323.4 389.4,324.2 389.7,325.0 390.0,325.8 390.2,326.7 390.5,327.5 390.7,328.3 391.0,329.2 391.2,330.0 391.4,330.9 391.7,331.9 391.9,332.8 392.2,333.7 392.4,334.5 392.5,335.0 392.5,335.0 392.5,283.3Z" fill="url(#v37)"/>
<linearGradient id="v38" gradientUnits="userSpaceOnUse" x1="0" y1="283.3" x2="0" y2="337.7"><stop offset="0" stop-color="#cf1239" stop-opacity="0.25"/><stop offset="0.123" stop-color="#cf1239"/><stop offset="0.881" stop-color="#cf1239"/><stop offset="1" stop-color="#cf1239" stop-opacity="0.25"/></linearGradient>
<path d="M392.5,283.3 392.6,284.0 392.7,285.0 392.9,286.2 393.1,287.4 393.3,288.7 393.4,290.0 393.5,291.3 393.6,292.6 393.7,294.0 393.8,295.4 393.9,296.7 394.1,298.0 394.4,299.2 394.7,300.5 395.1,301.7 395.5,302.9 395.9,304.0 396.3,305.0 396.7,306.0 397.1,306.9 397.4,307.8 397.8,308.6 398.2,309.3 398.5,310.0 398.9,310.6 399.3,311.0 399.7,311.4 400.0,311.8 400.2,312.3 400.2,313.0 400.0,314.0 399.5,315.1 398.9,316.4 398.3,317.7 397.7,318.9 397.2,320.0 396.8,320.9 396.5,321.8 396.3,322.6 396.0,323.4 395.8,324.2 395.5,325.0 395.2,325.8 394.9,326.6 394.6,327.3 394.3,328.1 394.1,329.0 393.8,330.0 393.5,331.2 393.3,332.7 393.0,334.2 392.8,335.6 392.6,336.8 392.5,337.7 392.5,337.7 392.5,283.3Z" fill="url(#v38)"/>
<linearGradient id="v39" gradientUnits="userSpaceOnUse" x1="0" y1="292.0" x2="0" y2="338.3"><stop offset="0" stop-color="#1b5995" stop-opacity="0.25"/><stop offset="0.173" stop-color="#1b5995"/><stop offset="0.884" stop-color="#1b5995"/><stop offset="1" stop-color="#1b5995" stop-opacity="0.25"/></linearGradient>
<path d="M410.4,292.0 410.3,292.8 410.1,294.0 410.0,295.4 409.8,296.9 409.6,298.5 409.5,300.0 409.4,301.6 409.4,303.3 409.4,305.0 409.4,306.7 409.4,308.4 409.4,310.0 409.3,311.5 409.3,312.9 409.2,314.3 409.1,315.6 408.9,316.8 408.8,318.0 408.6,319.1 408.4,320.0 408.1,321.0 407.9,321.8 407.7,322.7 407.6,323.7 407.6,324.7 407.7,325.7 407.9,326.7 408.1,327.7 408.4,328.8 408.6,330.0 408.9,331.4 409.2,332.9 409.6,334.5 409.9,336.1 410.2,337.4 410.4,338.3 410.4,338.3 410.4,292.0Z" fill="url(#v39)"/>
<linearGradient id="v40" gradientUnits="userSpaceOnUse" x1="0" y1="292.0" x2="0" y2="336.0"><stop offset="0" stop-color="#cf1239" stop-opacity="0.25"/><stop offset="0.182" stop-color="#cf1239"/><stop offset="0.941" stop-color="#cf1239"/><stop offset="1" stop-color="#cf1239" stop-opacity="0.25"/></linearGradient>
<path d="M410.4,292.0 410.5,292.8 410.7,294.0 410.8,295.4 411.0,296.9 411.2,298.5 411.3,300.0 411.4,301.6 411.4,303.3 411.3,305.0 411.3,306.7 411.3,308.4 411.4,310.0 411.5,311.5 411.7,312.9 411.9,314.3 412.1,315.6 412.4,316.8 412.6,318.0 412.9,319.1 413.2,320.0 413.5,321.0 413.7,321.8 413.9,322.7 414.0,323.7 413.9,324.7 413.8,325.8 413.5,326.8 413.2,327.9 412.9,329.0 412.6,330.0 412.3,331.1 411.8,332.2 411.4,333.4 411.0,334.5 410.6,335.4 410.4,336.0 410.4,336.0 410.4,292.0Z" fill="url(#v40)"/>
<linearGradient id="v41" gradientUnits="userSpaceOnUse" x1="0" y1="296.0" x2="0" y2="335.0"><stop offset="0" stop-color="#1b5995" stop-opacity="0.25"/><stop offset="0.083" stop-color="#1b5995"/><stop offset="0.973" stop-color="#1b5995"/><stop offset="1" stop-color="#1b5995" stop-opacity="0.25"/></linearGradient>
<path d="M428.4,296.0 428.3,296.4 428.1,297.0 427.9,297.7 427.7,298.4 427.4,299.2 427.2,300.0 427.0,300.8 426.8,301.6 426.5,302.4 426.3,303.3 426.1,304.2 425.8,305.0 425.5,305.8 425.3,306.6 425.0,307.3 424.7,308.1 424.4,309.0 424.1,310.0 423.8,311.2 423.4,312.6 423.1,314.1 422.7,315.5 422.5,316.9 422.3,318.0 422.2,318.9 422.2,319.6 422.2,320.1 422.3,320.7 422.4,321.3 422.6,322.0 422.9,322.9 423.2,323.9 423.6,324.9 424.0,326.0 424.4,327.0 424.8,328.0 425.1,328.9 425.5,329.9 425.8,330.8 426.2,331.6 426.5,332.4 426.8,333.0 427.1,333.5 427.4,334.0 427.7,334.3 428.0,334.6 428.2,334.8 428.4,335.0 428.4,335.0 428.4,296.0Z" fill="url(#v41)"/>
<linearGradient id="v42" gradientUnits="userSpaceOnUse" x1="0" y1="290.0" x2="0" y2="336.0"><stop offset="0" stop-color="#cf1239" stop-opacity="0.25"/><stop offset="0.163" stop-color="#cf1239"/><stop offset="0.935" stop-color="#cf1239"/><stop offset="1" stop-color="#cf1239" stop-opacity="0.25"/></linearGradient>
<path d="M428.4,290.0 428.4,290.5 428.5,291.3 428.5,292.2 428.6,293.1 428.7,294.1 428.8,295.0 428.9,295.8 429.1,296.7 429.3,297.5 429.5,298.3 429.7,299.2 429.9,300.0 430.1,300.8 430.2,301.7 430.4,302.5 430.6,303.3 430.8,304.2 431.0,305.0 431.3,305.8 431.6,306.6 431.9,307.3 432.3,308.1 432.6,309.0 432.9,310.0 433.2,311.2 433.5,312.6 433.8,314.1 434.1,315.5 434.4,316.9 434.5,318.0 434.6,318.9 434.6,319.6 434.5,320.1 434.4,320.7 434.2,321.3 434.0,322.0 433.7,322.9 433.3,323.9 432.9,324.9 432.5,326.0 432.0,327.0 431.6,328.0 431.2,328.9 430.8,329.8 430.4,330.7 430.0,331.5 429.7,332.3 429.4,333.0 429.2,333.7 428.9,334.3 428.8,334.8 428.6,335.3 428.5,335.7 428.4,336.0 428.4,336.0 428.4,290.0Z" fill="url(#v42)"/>
<linearGradient id="v43" gradientUnits="userSpaceOnUse" x1="0" y1="274.0" x2="0" y2="340.0"><stop offset="0" stop-color="#1b5995" stop-opacity="0.25"/><stop offset="0.248" stop-color="#1b5995"/><stop offset="0.939" stop-color="#1b5995"/><stop offset="1" stop-color="#1b5995" stop-opacity="0.25"/></linearGradient>
<path d="M446.2,274.0 446.1,275.2 446.0,276.9 445.9,278.9 445.7,281.0 445.6,283.1 445.5,285.0 445.4,286.8 445.3,288.6 445.3,290.4 445.2,292.1 445.2,293.6 445.1,295.0 445.0,296.1 445.0,297.0 444.9,297.8 444.9,298.5 444.8,299.2 444.7,300.0 444.6,300.8 444.4,301.7 444.3,302.5 444.1,303.3 443.8,304.2 443.6,305.0 443.3,305.8 442.9,306.6 442.5,307.3 442.1,308.1 441.8,309.0 441.5,310.0 441.3,311.2 441.1,312.5 441.0,313.9 441.0,315.3 440.9,316.7 440.9,318.0 440.9,319.2 440.9,320.4 441.0,321.6 441.1,322.7 441.3,323.8 441.5,325.0 441.8,326.2 442.3,327.4 442.8,328.7 443.3,329.9 443.7,331.0 444.1,332.0 444.4,332.8 444.6,333.6 444.8,334.2 444.9,334.8 445.0,335.4 445.2,336.0 445.4,336.7 445.6,337.5 445.8,338.2 445.9,339.0 446.1,339.6 446.2,340.0 446.2,340.0 446.2,274.0Z" fill="url(#v43)"/>
<linearGradient id="v44" gradientUnits="userSpaceOnUse" x1="0" y1="274.0" x2="0" y2="340.0"><stop offset="0" stop-color="#cf1239" stop-opacity="0.25"/><stop offset="0.248" stop-color="#cf1239"/><stop offset="0.902" stop-color="#cf1239"/><stop offset="1" stop-color="#cf1239" stop-opacity="0.25"/></linearGradient>
<path d="M446.2,274.0 446.3,275.2 446.4,276.9 446.5,278.9 446.7,281.0 446.8,283.1 446.9,285.0 447.0,286.8 447.1,288.6 447.1,290.4 447.2,292.1 447.2,293.6 447.3,295.0 447.4,296.1 447.4,297.0 447.5,297.8 447.5,298.5 447.6,299.2 447.7,300.0 447.8,300.8 447.9,301.7 448.0,302.5 448.2,303.3 448.3,304.2 448.5,305.0 448.7,305.8 448.9,306.6 449.2,307.3 449.4,308.1 449.7,309.0 450.0,310.0 450.4,311.2 450.8,312.5 451.3,313.9 451.7,315.3 452.0,316.7 452.2,318.0 452.2,319.2 452.2,320.4 452.0,321.6 451.8,322.7 451.5,323.8 451.1,325.0 450.6,326.2 450.0,327.4 449.4,328.7 448.7,329.9 448.1,331.0 447.7,332.0 447.4,332.8 447.2,333.6 447.1,334.2 447.0,334.8 446.9,335.4 446.8,336.0 446.7,336.7 446.6,337.5 446.4,338.2 446.3,339.0 446.3,339.6 446.2,340.0 446.2,340.0 446.2,274.0Z" fill="url(#v44)"/>
<linearGradient id="v45" gradientUnits="userSpaceOnUse" x1="0" y1="291.0" x2="0" y2="340.0"><stop offset="0" stop-color="#1b5995" stop-opacity="0.25"/><stop offset="0.156" stop-color="#1b5995"/><stop offset="0.918" stop-color="#1b5995"/><stop offset="1" stop-color="#1b5995" stop-opacity="0.25"/></linearGradient>
<path d="M464.0,291.0 463.9,292.0 463.7,293.5 463.5,295.2 463.3,297.0 463.0,298.6 462.8,300.0 462.6,301.1 462.3,302.0 462.1,302.8 461.9,303.5 461.6,304.2 461.4,305.0 461.2,305.8 461.0,306.6 460.8,307.3 460.7,308.1 460.4,309.0 460.2,310.0 459.9,311.2 459.5,312.5 459.1,313.9 458.7,315.3 458.4,316.7 458.2,318.0 458.1,319.2 458.1,320.4 458.2,321.6 458.3,322.7 458.5,323.8 458.7,325.0 459.0,326.2 459.5,327.4 460.0,328.7 460.5,329.9 461.0,331.0 461.4,332.0 461.7,332.8 462.0,333.6 462.3,334.2 462.6,334.8 462.8,335.4 463.0,336.0 463.2,336.7 463.4,337.5 463.6,338.2 463.8,339.0 463.9,339.6 464.0,340.0 464.0,340.0 464.0,291.0Z" fill="url(#v45)"/>
<linearGradient id="v46" gradientUnits="userSpaceOnUse" x1="0" y1="291.0" x2="0" y2="344.0"><stop offset="0" stop-color="#cf1239" stop-opacity="0.25"/><stop offset="0.144" stop-color="#cf1239"/><stop offset="0.833" stop-color="#cf1239"/><stop offset="1" stop-color="#cf1239" stop-opacity="0.25"/></linearGradient>
<path d="M464.0,291.0 464.1,292.0 464.3,293.5 464.5,295.2 464.7,297.0 465.0,298.6 465.2,300.0 465.4,301.1 465.7,302.0 465.9,302.8 466.1,303.5 466.4,304.2 466.6,305.0 466.8,305.8 467.0,306.6 467.1,307.3 467.3,308.1 467.5,309.0 467.8,310.0 468.2,311.2 468.7,312.5 469.2,313.9 469.8,315.3 470.2,316.7 470.4,318.0 470.5,319.2 470.4,320.4 470.2,321.6 470.0,322.7 469.6,323.8 469.3,325.0 468.9,326.2 468.3,327.4 467.7,328.7 467.1,329.9 466.5,331.0 466.1,332.0 465.8,332.8 465.5,333.4 465.3,333.9 465.1,334.5 465.0,335.1 464.8,336.0 464.6,337.2 464.5,338.7 464.3,340.2 464.2,341.8 464.1,343.1 464.0,344.0 464.0,344.0 464.0,291.0Z" fill="url(#v46)"/>
<linearGradient id="v47" gradientUnits="userSpaceOnUse" x1="0" y1="254.7" x2="0" y2="335.5"><stop offset="0" stop-color="#1b5995" stop-opacity="0.25"/><stop offset="0.169" stop-color="#1b5995"/><stop offset="0.932" stop-color="#1b5995"/><stop offset="1" stop-color="#1b5995" stop-opacity="0.25"/></linearGradient>
<path d="M482.0,254.7 481.9,255.8 481.8,257.4 481.6,259.2 481.5,261.2 481.3,263.2 481.2,265.0 481.1,266.7 481.0,268.4 481.0,270.0 480.9,271.7 480.9,273.3 480.8,275.0 480.7,276.7 480.6,278.3 480.5,280.0 480.4,281.7 480.3,283.3 480.2,285.0 480.1,286.7 480.0,288.5 479.9,290.3 479.8,292.0 479.7,293.6 479.6,295.0 479.5,296.1 479.5,296.9 479.5,297.5 479.5,298.1 479.5,298.9 479.4,300.0 479.3,301.4 479.2,303.0 479.1,304.8 479.0,306.6 478.9,308.4 478.8,310.0 478.7,311.5 478.7,312.9 478.7,314.2 478.7,315.5 478.7,316.7 478.8,318.0 479.0,319.2 479.2,320.5 479.5,321.7 479.8,322.9 480.1,324.0 480.3,325.0 480.5,325.9 480.6,326.8 480.7,327.6 480.9,328.4 481.0,329.2 481.1,330.0 481.3,331.0 481.4,332.0 481.6,333.1 481.8,334.1 481.9,334.9 482.0,335.5 482.0,335.5 482.0,254.7Z" fill="url(#v47)"/>
<linearGradient id="v48" gradientUnits="userSpaceOnUse" x1="0" y1="254.7" x2="0" y2="335.0"><stop offset="0" stop-color="#cf1239" stop-opacity="0.25"/><stop offset="0.170" stop-color="#cf1239"/><stop offset="0.938" stop-color="#cf1239"/><stop offset="1" stop-color="#cf1239" stop-opacity="0.25"/></linearGradient>
<path d="M482.0,254.7 482.1,255.8 482.2,257.4 482.4,259.2 482.5,261.2 482.7,263.2 482.8,265.0 482.9,266.7 483.0,268.4 483.0,270.0 483.1,271.7 483.1,273.3 483.2,275.0 483.3,276.7 483.4,278.3 483.5,280.0 483.6,281.7 483.7,283.3 483.8,285.0 483.9,286.7 484.0,288.5 484.1,290.3 484.2,292.0 484.3,293.6 484.4,295.0 484.4,296.1 484.4,296.9 484.4,297.5 484.4,298.1 484.5,298.9 484.6,300.0 484.8,301.4 485.1,303.0 485.4,304.8 485.7,306.6 486.0,308.4 486.3,310.0 486.5,311.5 486.8,312.9 487.1,314.2 487.3,315.5 487.3,316.7 487.3,318.0 487.1,319.2 486.7,320.5 486.2,321.7 485.7,322.9 485.2,324.0 484.8,325.0 484.5,325.9 484.1,326.8 483.8,327.6 483.5,328.4 483.2,329.2 483.0,330.0 482.8,330.9 482.6,331.9 482.4,332.8 482.2,333.7 482.1,334.5 482.0,335.0 482.0,335.0 482.0,254.7Z" fill="url(#v48)"/>
<linearGradient id="v49" gradientUnits="userSpaceOnUse" x1="0" y1="296.0" x2="0" y2="339.0"><stop offset="0" stop-color="#1b5995" stop-opacity="0.25"/><stop offset="0.093" stop-color="#1b5995"/><stop offset="0.864" stop-color="#1b5995"/><stop offset="1" stop-color="#1b5995" stop-opacity="0.25"/></linearGradient>
<path d="M500.2,296.0 500.1,296.4 499.9,297.0 499.7,297.7 499.5,298.5 499.4,299.2 499.2,300.0 499.1,300.7 498.9,301.5 498.8,302.3 498.7,303.1 498.6,303.9 498.6,304.7 498.6,305.6 498.7,306.4 498.8,307.3 499.0,308.2 499.1,309.1 499.2,310.0 499.3,310.9 499.4,311.7 499.5,312.6 499.6,313.4 499.6,314.2 499.7,315.0 499.8,315.8 499.9,316.5 499.9,317.2 500.0,317.9 500.0,318.7 500.0,319.4 499.9,320.2 499.8,320.9 499.7,321.7 499.6,322.4 499.4,323.2 499.3,324.0 499.2,324.8 499.0,325.6 498.9,326.5 498.7,327.3 498.6,328.2 498.6,329.0 498.6,329.8 498.8,330.7 498.9,331.5 499.1,332.3 499.2,333.2 499.4,334.0 499.5,334.9 499.7,335.9 499.8,336.8 500.0,337.7 500.1,338.5 500.2,339.0 500.2,339.0 500.2,296.0Z" fill="url(#v49)"/>
<linearGradient id="v50" gradientUnits="userSpaceOnUse" x1="0" y1="298.0" x2="0" y2="342.0"><stop offset="0" stop-color="#cf1239" stop-opacity="0.25"/><stop offset="0.189" stop-color="#cf1239"/><stop offset="0.894" stop-color="#cf1239"/><stop offset="1" stop-color="#cf1239" stop-opacity="0.25"/></linearGradient>
<path d="M500.2,298.0 500.3,298.6 500.4,299.5 500.5,300.6 500.6,301.7 500.8,302.9 500.9,304.0 501.1,305.1 501.2,306.3 501.4,307.6 501.6,308.8 501.7,309.9 501.8,311.0 501.8,312.0 501.7,312.9 501.5,313.7 501.4,314.5 501.2,315.3 501.1,316.0 501.0,316.6 500.9,317.2 500.7,317.7 500.6,318.2 500.5,318.7 500.5,319.4 500.5,320.2 500.6,321.1 500.7,322.1 500.8,323.1 500.9,324.1 501.0,325.0 501.1,325.9 501.1,326.7 501.2,327.6 501.3,328.4 501.3,329.2 501.4,330.0 501.5,330.7 501.5,331.4 501.6,332.1 501.6,332.7 501.6,333.3 501.6,334.0 501.5,334.7 501.5,335.3 501.4,336.0 501.2,336.7 501.1,337.3 501.0,338.0 500.9,338.7 500.7,339.5 500.6,340.2 500.4,341.0 500.3,341.6 500.2,342.0 500.2,342.0 500.2,298.0Z" fill="url(#v50)"/>
<line x1="167.4" y1="247" x2="167.4" y2="293" stroke="#e07890" stroke-opacity="0.4" stroke-width="1.0"/>
<line x1="167.3" y1="333" x2="167.3" y2="342" stroke="#e07890" stroke-opacity="0.5" stroke-width="1.0"/>
<line x1="428.9" y1="247" x2="428.9" y2="293" stroke="#e07890" stroke-opacity="0.4" stroke-width="1.0"/>
<line x1="428.9" y1="333" x2="428.9" y2="342" stroke="#e07890" stroke-opacity="0.5" stroke-width="1.0"/>
<linearGradient id="v51" gradientUnits="userSpaceOnUse" x1="0" y1="255.5" x2="0" y2="270.5"><stop offset="0" stop-color="#1b5995" stop-opacity="0.25"/><stop offset="0.233" stop-color="#1b5995"/><stop offset="0.733" stop-color="#1b5995"/><stop offset="1" stop-color="#1b5995" stop-opacity="0.25"/></linearGradient>
<path d="M166.8,255.5 166.7,255.9 166.6,256.4 166.4,257.0 166.2,257.7 166.0,258.3 165.9,259.0 165.8,259.6 165.7,260.3 165.6,261.0 165.5,261.7 165.4,262.4 165.4,263.0 165.4,263.6 165.4,264.2 165.5,264.8 165.6,265.3 165.7,265.9 165.8,266.5 165.9,267.2 166.1,267.9 166.3,268.7 166.5,269.4 166.7,270.1 166.8,270.5 166.8,270.5 166.8,255.5Z" fill="url(#v51)"/>
<linearGradient id="v52" gradientUnits="userSpaceOnUse" x1="0" y1="255.0" x2="0" y2="271.0"><stop offset="0" stop-color="#cf1239" stop-opacity="0.25"/><stop offset="0.417" stop-color="#cf1239"/><stop offset="0.583" stop-color="#cf1239"/><stop offset="1" stop-color="#cf1239" stop-opacity="0.25"/></linearGradient>
<path d="M166.8,255.0 166.9,255.4 167.0,256.0 167.1,256.8 167.2,257.5 167.3,258.3 167.4,259.0 167.5,259.7 167.6,260.3 167.7,261.0 167.7,261.7 167.8,262.3 167.8,263.0 167.8,263.7 167.7,264.3 167.7,265.0 167.6,265.7 167.5,266.3 167.4,267.0 167.3,267.7 167.2,268.5 167.1,269.2 167.0,270.0 166.9,270.6 166.8,271.0 166.8,271.0 166.8,255.0Z" fill="url(#v52)"/>
<linearGradient id="v53" gradientUnits="userSpaceOnUse" x1="0" y1="256.0" x2="0" y2="272.0"><stop offset="0" stop-color="#1b5995" stop-opacity="0.25"/><stop offset="0.250" stop-color="#1b5995"/><stop offset="0.750" stop-color="#1b5995"/><stop offset="1" stop-color="#1b5995" stop-opacity="0.25"/></linearGradient>
<path d="M428.4,256.0 428.3,256.4 428.1,257.0 427.9,257.8 427.7,258.5 427.5,259.3 427.4,260.0 427.3,260.7 427.2,261.3 427.1,262.0 427.0,262.7 426.9,263.3 426.9,264.0 426.9,264.7 427.0,265.3 427.1,266.0 427.2,266.7 427.3,267.3 427.4,268.0 427.5,268.7 427.7,269.5 427.9,270.2 428.1,271.0 428.3,271.6 428.4,272.0 428.4,272.0 428.4,256.0Z" fill="url(#v53)"/>
<linearGradient id="v54" gradientUnits="userSpaceOnUse" x1="0" y1="256.0" x2="0" y2="272.0"><stop offset="0" stop-color="#cf1239" stop-opacity="0.25"/><stop offset="0.417" stop-color="#cf1239"/><stop offset="0.583" stop-color="#cf1239"/><stop offset="1" stop-color="#cf1239" stop-opacity="0.25"/></linearGradient>
<path d="M428.4,256.0 428.5,256.4 428.6,257.0 428.7,257.8 428.8,258.5 428.9,259.3 429.0,260.0 429.1,260.7 429.2,261.3 429.3,262.0 429.3,262.7 429.4,263.3 429.4,264.0 429.4,264.7 429.3,265.3 429.3,266.0 429.2,266.7 429.1,267.3 429.0,268.0 428.9,268.7 428.8,269.5 428.7,270.2 428.6,271.0 428.5,271.6 428.4,272.0 428.4,272.0 428.4,256.0Z" fill="url(#v54)"/>
<path fill="none" stroke="#111" stroke-opacity="0.9" stroke-width="0.9" stroke-linecap="round" d="M166.3 264.1h0M167.6 258.4h0M166.9 261.5h0M166.0 259.4h0M167.5 267.6h0M166.2 261.2h0M166.6 266.7h0M166.4 263.3h0M166.6 266.8h0M166.3 266.4h0M428.2 260.1h0M429.0 266.0h0M428.9 257.7h0M428.3 260.3h0M428.7 258.6h0M428.4 258.3h0M428.3 259.4h0M428.2 258.7h0M428.5 263.6h0M428.8 258.0h0M59.9 306.5h0M59.9 329.1h0M58.3 303.6h0M58.2 329.6h0M58.1 298.7h0M58.4 298.0h0M58.2 314.1h0M58.4 338.8h0M58.9 302.8h0M58.5 320.1h0M59.3 301.6h0M59.8 329.1h0M59.2 277.2h0M58.4 332.5h0M58.3 266.1h0M58.8 308.0h0M59.9 315.4h0M59.0 281.2h0M60.0 336.0h0M59.7 310.9h0M59.9 298.3h0M58.7 288.0h0M58.7 314.6h0M59.1 283.1h0M58.5 317.9h0M59.0 274.7h0M58.1 307.9h0M59.2 281.3h0M59.8 298.0h0M59.9 314.1h0M59.8 294.6h0M58.6 271.3h0M59.1 330.1h0M59.3 328.4h0M58.5 302.6h0M59.6 313.8h0M59.8 278.1h0M59.4 307.0h0M58.7 282.9h0M58.1 303.5h0M58.9 320.2h0M58.0 314.9h0M59.4 299.8h0M59.9 313.0h0M58.9 323.6h0M58.8 336.8h0M58.7 281.1h0M58.3 314.2h0M58.5 280.4h0M58.8 266.0h0M59.2 295.6h0M58.7 335.6h0M58.4 317.3h0M59.4 300.2h0M59.9 275.6h0M59.3 322.1h0M59.9 312.0h0M59.6 286.4h0M59.8 309.4h0M58.0 308.5h0M58.5 304.3h0M58.3 268.7h0M58.5 316.7h0M60.0 283.6h0M59.9 264.8h0M58.7 337.7h0M58.8 303.4h0M58.1 300.0h0M58.2 269.7h0M58.5 311.2h0M58.7 324.0h0M59.9 301.0h0M58.3 306.3h0M59.4 316.4h0M59.2 324.8h0M59.6 278.0h0M58.2 324.0h0M58.3 314.2h0M58.2 278.1h0M58.5 311.9h0M59.4 295.8h0M59.3 280.2h0M59.8 316.3h0M59.3 279.0h0M58.5 283.3h0M59.4 322.5h0M59.4 287.1h0M59.0 270.1h0M58.4 330.6h0M59.0 272.5h0M59.1 291.1h0M58.1 322.8h0M58.5 293.0h0M58.6 314.6h0M59.5 299.9h0M59.9 291.8h0M58.2 334.9h0M58.6 298.3h0M58.9 333.1h0M58.1 310.8h0M58.9 320.9h0M58.2 269.9h0M58.6 337.2h0M58.2 322.2h0M59.1 268.7h0M58.3 327.2h0M58.7 322.0h0M59.9 272.8h0M59.5 272.3h0M59.2 299.6h0M59.4 285.4h0M58.4 319.6h0M59.6 336.8h0M58.5 289.3h0M58.3 299.3h0M58.3 328.8h0M58.4 320.4h0M59.7 295.4h0M59.5 307.4h0M59.9 309.8h0M59.6 288.4h0M58.7 283.7h0M58.2 290.4h0M59.8 294.8h0M59.8 321.3h0M59.6 319.1h0M58.8 282.7h0M59.1 327.7h0M58.7 289.1h0M59.8 328.0h0M59.3 320.4h0M58.7 305.3h0M77.5 310.4h0M76.3 277.4h0M75.9 270.8h0M75.9 311.2h0M76.6 276.5h0M76.4 311.5h0M76.7 301.7h0M76.4 317.2h0M76.0 315.7h0M76.8 299.1h0M77.6 293.1h0M76.5 303.6h0M77.6 305.4h0M76.7 290.1h0M76.5 312.6h0M77.6 311.5h0M76.6 322.6h0M76.2 306.2h0M77.3 282.5h0M76.8 275.8h0M77.7 303.8h0M77.6 311.1h0M77.5 297.0h0M76.8 277.0h0M77.7 320.4h0M77.1 297.5h0M77.0 311.6h0M76.6 280.0h0M76.0 294.8h0M76.3 306.6h0M76.2 279.8h0M76.2 300.0h0M77.3 299.0h0M76.3 306.3h0M75.9 313.6h0M76.0 319.8h0M76.7 304.3h0M76.5 302.0h0M76.2 309.5h0M77.0 274.4h0M76.2 282.6h0M76.4 269.9h0M76.8 294.3h0M77.0 292.3h0M75.9 273.4h0M76.6 305.7h0M76.5 285.5h0M76.1 305.1h0M75.8 315.1h0M76.5 314.3h0M76.6 301.5h0M76.9 290.1h0M77.7 303.4h0M77.5 273.4h0M77.2 310.9h0M76.2 296.9h0M76.4 311.4h0M76.5 292.8h0M76.9 316.9h0M76.8 318.9h0M77.0 284.3h0M76.5 310.6h0M77.6 287.5h0M76.5 296.3h0M77.2 312.6h0M75.9 266.3h0M76.3 311.7h0M77.3 268.3h0M77.7 306.8h0M76.0 297.0h0M76.2 318.7h0M76.6 308.4h0M77.8 308.7h0M76.0 267.2h0M76.1 301.5h0M76.5 304.0h0M76.6 321.8h0M77.7 279.7h0M76.1 275.2h0M76.7 304.5h0M76.7 310.9h0M76.5 316.1h0M76.2 297.5h0M75.8 287.2h0M76.8 311.5h0M76.9 289.0h0M77.7 307.2h0M76.6 300.7h0M77.4 310.9h0M76.1 280.2h0M76.4 314.7h0M77.7 318.5h0M77.3 308.9h0M77.0 298.3h0M76.0 271.0h0M77.3 315.5h0M76.8 302.6h0M77.1 306.9h0M77.6 281.1h0M77.4 289.8h0M77.5 309.0h0M77.3 292.4h0M76.1 296.4h0M76.3 301.9h0M76.8 312.3h0M76.7 316.8h0M77.3 292.2h0M77.4 275.7h0M76.8 272.0h0M77.7 284.5h0M76.3 292.5h0M77.6 317.9h0M77.3 300.5h0M77.5 301.6h0M77.6 290.7h0M77.3 311.7h0M77.4 278.5h0M76.1 297.1h0M76.8 273.0h0M76.9 280.5h0M76.1 309.2h0M77.7 316.4h0M77.0 321.9h0M76.9 321.1h0M76.2 283.2h0M77.1 272.2h0M77.2 297.7h0M77.5 301.8h0M77.0 303.9h0M76.9 268.7h0M76.0 276.9h0M77.2 313.5h0M94.0 302.6h0M95.9 264.7h0M94.0 280.6h0M94.0 297.2h0M95.7 273.9h0M95.9 292.8h0M94.1 286.1h0M94.2 311.8h0M94.3 306.7h0M95.9 283.7h0M94.3 299.3h0M94.7 305.5h0M94.3 316.0h0M95.2 271.2h0M95.0 310.0h0M94.8 296.3h0M94.1 294.5h0M95.5 287.2h0M95.0 276.3h0M95.5 285.1h0M95.0 312.0h0M94.4 317.4h0M94.7 265.9h0M95.0 287.2h0M94.3 318.2h0M95.8 280.1h0M94.3 304.3h0M95.7 264.4h0M95.3 300.8h0M94.7 265.2h0M94.3 304.9h0M95.3 302.1h0M94.8 261.9h0M95.4 273.7h0M94.5 321.6h0M94.8 302.1h0M94.3 303.2h0M96.0 265.9h0M95.0 317.2h0M95.3 291.2h0M94.6 291.6h0M95.0 290.3h0M96.0 303.8h0M94.6 310.0h0M95.4 305.3h0M94.6 283.8h0M94.0 320.7h0M94.3 313.8h0M94.2 314.3h0M94.0 284.6h0M95.7 264.3h0M95.8 321.8h0M95.2 309.1h0M94.4 318.9h0M94.7 293.0h0M95.2 284.2h0M95.0 275.1h0M95.3 292.1h0M94.6 272.9h0M95.6 308.1h0M95.9 292.9h0M94.6 292.5h0M95.6 285.9h0M94.4 290.8h0M94.6 289.0h0M94.5 305.9h0M113.2 330.4h0M112.3 320.6h0M111.9 282.5h0M113.4 322.9h0M112.0 293.7h0M112.8 331.2h0M112.8 302.9h0M113.5 325.6h0M112.6 335.9h0M112.4 290.6h0M112.2 337.5h0M112.0 329.7h0M112.6 338.3h0M111.8 317.9h0M111.8 304.3h0M112.5 303.1h0M112.2 323.5h0M112.2 318.9h0M112.9 293.9h0M112.5 299.8h0M112.8 321.2h0M112.4 286.6h0M113.6 306.1h0M112.6 294.6h0M113.4 332.2h0M111.9 310.2h0M113.0 303.7h0M112.9 330.0h0M112.0 304.1h0M112.0 307.7h0M111.8 309.1h0M112.5 284.7h0M112.4 307.1h0M113.8 325.0h0M112.8 289.7h0M112.2 303.1h0M112.5 336.6h0M112.4 319.2h0M113.1 303.0h0M112.5 313.7h0M112.6 334.4h0M112.6 341.8h0M112.6 322.5h0M112.5 308.8h0M112.2 327.1h0M112.7 323.2h0M113.1 291.6h0M113.1 324.4h0M112.1 287.5h0M112.9 312.2h0M113.0 287.4h0M113.2 287.4h0M113.4 314.7h0M112.7 316.3h0M113.3 333.5h0M113.7 302.6h0M112.0 332.9h0M113.7 319.0h0M113.6 313.0h0M113.2 307.6h0M112.2 313.8h0M111.9 338.0h0M111.9 300.8h0M112.1 319.8h0M113.6 297.9h0M113.7 331.2h0M112.3 332.2h0M113.5 315.1h0M112.7 309.2h0M113.2 333.5h0M112.2 304.7h0M112.8 341.7h0M113.3 311.7h0M112.5 327.8h0M113.3 292.4h0M112.8 322.1h0M113.4 309.7h0M112.0 301.9h0M112.8 296.8h0M112.2 303.4h0M113.4 307.5h0M113.1 315.1h0M113.4 330.6h0M113.7 307.4h0M112.6 291.0h0M112.2 312.2h0M112.1 335.9h0M112.2 290.6h0M130.4 306.5h0M129.5 308.0h0M129.6 330.3h0M130.6 321.8h0M130.8 293.6h0M129.6 301.1h0M129.8 315.3h0M129.7 310.5h0M129.7 284.3h0M130.5 294.9h0M130.4 294.8h0M129.9 319.5h0M131.0 292.6h0M129.6 302.2h0M130.4 331.3h0M131.2 304.6h0M130.3 306.6h0M130.8 328.3h0M130.6 311.0h0M131.2 294.5h0M131.3 285.9h0M130.8 332.9h0M130.4 314.8h0M130.9 288.5h0M130.8 319.8h0M129.5 316.0h0M130.7 304.8h0M130.8 299.3h0M131.1 297.7h0M130.3 301.0h0M129.7 307.9h0M131.4 309.0h0M130.0 301.7h0M130.8 332.4h0M131.0 325.2h0M129.6 296.3h0M129.9 305.2h0M130.1 304.7h0M130.4 289.7h0M130.3 294.2h0M130.7 329.6h0M131.3 318.9h0M130.9 287.4h0M129.5 288.3h0M129.7 289.6h0M130.5 286.4h0M130.0 303.5h0M131.0 325.6h0M131.2 303.1h0M130.9 287.0h0M130.1 312.4h0M130.4 307.7h0M130.1 296.4h0M129.7 307.6h0M130.9 308.3h0M131.3 301.3h0M131.1 331.0h0M131.5 313.7h0M130.6 315.6h0M130.7 290.9h0M130.9 291.8h0M130.8 287.2h0M129.9 317.6h0M130.3 331.9h0M131.0 301.3h0M130.6 315.7h0M149.5 319.3h0M149.3 342.6h0M149.0 305.8h0M149.4 340.0h0M148.6 307.1h0M149.2 309.3h0M148.9 335.3h0M148.7 302.3h0M147.8 304.4h0M148.0 301.6h0M149.3 335.5h0M148.4 308.8h0M148.4 294.6h0M149.5 312.4h0M147.6 305.2h0M148.8 298.9h0M148.2 318.7h0M149.6 341.5h0M149.3 337.4h0M148.7 333.7h0M148.7 333.8h0M148.0 307.0h0M149.2 328.7h0M149.4 324.8h0M148.3 333.8h0M147.8 339.5h0M149.5 310.3h0M149.5 325.6h0M148.5 332.1h0M147.8 331.2h0M148.1 324.4h0M147.9 327.5h0M148.3 300.7h0M167.1 313.7h0M166.7 303.5h0M166.6 312.5h0M167.0 328.9h0M166.8 305.9h0M166.8 311.8h0M167.8 309.1h0M165.8 304.6h0M166.6 300.5h0M167.7 328.4h0M167.0 328.4h0M166.3 297.5h0M166.9 320.3h0M166.6 311.1h0M166.0 327.0h0M167.8 319.5h0M167.6 325.4h0M167.6 321.9h0M166.3 328.0h0M166.4 318.6h0M166.5 325.5h0M166.9 317.4h0M167.8 331.3h0M166.9 298.1h0M167.0 324.3h0M166.9 314.9h0M165.8 323.4h0M165.9 309.0h0M167.1 326.6h0M166.6 327.0h0M166.9 305.5h0M167.0 319.7h0M166.8 332.7h0M167.4 311.5h0M167.3 303.6h0M166.3 332.1h0M166.1 315.5h0M166.9 328.5h0M166.5 331.8h0M166.4 302.8h0M166.0 323.3h0M166.1 327.1h0M166.2 327.8h0M167.5 305.6h0M167.3 328.0h0M167.5 326.0h0M167.5 333.9h0M167.2 331.5h0M166.9 322.7h0M166.9 307.3h0M167.2 330.3h0M167.4 322.2h0M166.0 325.7h0M166.7 307.6h0M166.0 327.6h0M166.1 310.1h0M167.1 300.1h0M166.7 329.8h0M166.3 298.2h0M167.4 326.6h0M166.1 316.9h0M166.4 311.4h0M166.5 324.7h0M167.1 307.6h0M167.6 315.0h0M166.9 332.2h0M166.3 329.3h0M167.3 300.9h0M167.8 302.9h0M167.5 315.0h0M166.0 330.5h0M167.6 320.9h0M166.8 321.8h0M166.7 307.8h0M167.7 331.7h0M166.6 321.0h0M167.5 334.2h0M167.5 327.7h0M166.7 305.0h0M167.4 312.4h0M167.8 324.4h0M166.6 305.3h0M167.7 318.6h0M166.0 320.7h0M167.0 299.6h0M166.6 313.8h0M166.1 310.2h0M166.9 332.2h0M184.6 302.6h0M186.0 306.9h0M184.1 311.3h0M185.6 285.7h0M185.6 332.0h0M185.1 303.6h0M185.3 278.3h0M185.8 319.3h0M184.1 327.6h0M184.4 310.7h0M184.9 315.3h0M184.4 290.4h0M185.4 327.3h0M184.8 313.4h0M185.9 311.2h0M185.3 318.2h0M184.5 282.0h0M184.9 329.1h0M185.4 330.7h0M185.4 294.7h0M186.0 311.9h0M185.6 295.6h0M185.0 310.5h0M184.0 289.4h0M184.9 324.0h0M184.4 322.1h0M185.5 309.5h0M184.7 288.1h0M185.5 281.7h0M185.5 312.2h0M184.5 285.0h0M185.8 308.3h0M185.5 335.1h0M184.5 319.7h0M184.9 296.0h0M185.7 332.5h0M185.8 295.2h0M184.2 292.9h0M184.4 298.9h0M185.1 303.9h0M184.7 324.7h0M184.7 311.2h0M185.9 314.2h0M185.4 331.8h0M185.7 290.7h0M185.3 297.8h0M184.2 278.2h0M184.4 330.2h0M185.9 324.1h0M185.9 297.0h0M185.1 332.1h0M185.7 335.3h0M185.2 324.7h0M185.4 321.5h0M184.6 305.5h0M185.0 310.2h0M185.9 318.5h0M184.0 321.7h0M185.2 334.2h0M184.1 327.3h0M184.1 334.1h0M184.3 322.5h0M185.2 332.5h0M185.9 283.9h0M184.1 328.9h0M185.0 319.7h0M185.8 326.4h0M184.5 302.2h0M185.1 304.7h0M185.0 332.0h0M184.0 338.3h0M184.2 296.4h0M185.8 302.1h0M185.4 306.3h0M184.6 321.9h0M185.1 321.8h0M184.3 313.3h0M184.2 326.6h0M185.4 288.9h0M185.6 322.9h0M185.8 308.3h0M185.2 316.7h0M185.1 306.9h0M184.8 283.8h0M184.7 303.0h0M184.7 300.4h0M184.0 337.2h0M184.9 321.3h0M184.5 313.1h0M184.9 335.1h0M185.8 296.1h0M184.5 328.6h0M184.9 319.9h0M185.6 300.2h0M184.2 330.3h0M185.4 313.2h0M184.1 304.7h0M185.6 322.0h0M185.8 317.8h0M201.7 334.9h0M202.0 319.4h0M202.2 298.2h0M202.4 318.7h0M202.9 329.5h0M202.7 335.8h0M202.7 297.7h0M201.6 321.6h0M202.7 300.5h0M202.0 333.5h0M203.1 319.2h0M202.4 299.8h0M201.9 333.8h0M202.2 298.7h0M202.3 310.6h0M203.0 314.2h0M203.3 333.6h0M202.3 316.5h0M203.3 305.0h0M202.4 309.0h0M201.9 316.6h0M202.6 307.9h0M202.0 312.3h0M202.0 317.6h0M202.2 305.9h0M202.9 328.5h0M201.7 332.8h0M202.0 294.7h0M202.7 316.6h0M203.5 312.2h0M201.6 326.8h0M203.2 337.2h0M202.1 308.8h0M203.1 297.3h0M202.0 323.6h0M202.4 308.6h0M201.8 334.9h0M202.5 321.2h0M202.0 297.7h0M202.6 316.0h0M202.4 325.6h0M201.8 293.5h0M201.8 320.0h0M202.9 306.0h0M201.8 328.7h0M201.8 322.6h0M201.8 300.2h0M202.6 310.1h0M201.7 311.0h0M203.1 327.4h0M202.0 318.6h0M202.6 307.3h0M203.3 328.7h0M203.0 307.1h0M202.2 324.1h0M202.2 313.6h0M203.0 307.2h0M202.9 332.7h0M203.0 311.0h0M202.0 317.9h0M201.9 306.5h0M203.1 336.4h0M202.6 316.7h0M201.7 311.3h0M201.8 334.4h0M203.1 323.2h0M201.6 324.1h0M203.1 293.2h0M203.0 299.6h0M203.3 299.8h0M202.5 326.6h0M202.1 328.2h0M203.1 325.9h0M202.9 309.2h0M203.1 313.1h0M201.5 316.7h0M202.5 333.3h0M220.1 322.7h0M220.1 312.0h0M219.6 259.3h0M219.9 300.6h0M221.2 291.0h0M220.3 321.8h0M220.1 280.0h0M219.6 313.0h0M219.7 265.4h0M219.4 273.2h0M220.5 277.3h0M220.5 279.4h0M220.9 302.8h0M220.3 310.0h0M219.5 292.3h0M219.8 292.4h0M220.4 323.0h0M220.9 269.5h0M219.4 333.3h0M220.6 283.5h0M219.8 281.6h0M220.5 320.8h0M221.3 313.5h0M221.4 263.9h0M219.9 297.8h0M220.1 276.5h0M221.3 301.2h0M221.0 324.8h0M220.1 330.1h0M220.8 301.5h0M221.2 307.1h0M219.6 283.2h0M221.3 291.9h0M219.9 328.7h0M220.9 296.6h0M220.2 308.5h0M219.8 299.7h0M220.5 323.4h0M221.2 301.0h0M220.2 290.3h0M219.4 302.3h0M221.0 266.1h0M220.9 269.5h0M219.4 302.9h0M220.6 289.7h0M219.6 333.0h0M219.8 310.4h0M220.4 281.3h0M220.8 268.5h0M219.8 281.2h0M219.6 291.4h0M220.1 314.5h0M220.9 265.8h0M220.8 292.9h0M219.8 303.7h0M221.2 292.2h0M220.7 281.6h0M220.8 313.9h0M220.7 329.7h0M220.1 324.0h0M220.0 333.2h0M220.7 293.2h0M219.4 329.0h0M220.3 261.3h0M221.1 305.5h0M220.5 283.9h0M220.0 256.0h0M219.5 325.2h0M221.0 279.3h0M220.2 286.5h0M219.7 313.7h0M220.0 308.7h0M220.1 297.6h0M221.4 283.2h0M221.0 319.5h0M219.6 265.2h0M220.4 322.1h0M219.4 265.2h0M220.9 333.2h0M221.4 318.9h0M221.3 316.7h0M220.1 273.5h0M220.3 333.6h0M220.4 294.8h0M220.2 316.2h0M221.2 314.4h0M220.2 313.8h0M219.6 300.4h0M219.5 280.2h0M220.6 312.2h0M219.9 320.8h0M219.9 300.2h0M219.7 305.5h0M219.5 276.5h0M220.4 279.5h0M220.7 327.4h0M220.1 301.8h0M219.6 318.1h0M219.7 273.2h0M220.2 256.2h0M219.9 271.9h0M220.2 274.9h0M219.4 284.1h0M220.4 321.7h0M221.2 255.9h0M221.0 291.7h0M220.4 325.9h0M220.0 299.9h0M220.7 304.4h0M219.5 304.6h0M219.8 269.2h0M221.1 323.5h0M220.7 276.2h0M219.6 274.1h0M219.7 318.5h0M220.7 277.6h0M220.9 297.0h0M219.7 272.2h0M219.6 274.8h0M219.8 307.4h0M219.5 302.3h0M220.6 263.1h0M220.5 274.6h0M220.5 286.9h0M220.8 316.3h0M221.3 306.0h0M220.5 315.6h0M221.0 290.3h0M220.4 273.1h0M220.8 289.3h0M220.7 318.7h0M220.3 294.7h0M220.3 283.9h0M219.6 297.7h0M219.7 293.8h0M220.4 290.7h0M219.7 297.5h0M220.1 332.1h0M220.4 280.9h0M219.7 318.4h0M220.2 271.9h0M221.3 290.3h0M221.1 306.3h0M221.3 282.1h0M219.5 297.8h0M220.7 314.4h0M221.2 284.8h0M220.4 273.2h0M219.8 333.0h0M220.2 318.4h0M221.0 317.4h0M220.3 283.8h0M219.9 325.9h0M219.5 267.6h0M238.6 303.5h0M238.5 331.4h0M238.0 315.6h0M238.5 333.7h0M239.4 321.3h0M239.2 320.7h0M237.8 303.6h0M237.8 315.3h0M238.1 325.6h0M239.3 330.2h0M238.3 336.2h0M239.0 314.9h0M238.5 333.0h0M238.4 314.9h0M239.5 304.4h0M238.3 300.8h0M239.3 333.8h0M319.8 280.1h0M321.5 268.3h0M319.7 290.1h0M319.8 302.7h0M320.3 307.8h0M319.8 327.4h0M320.1 270.6h0M321.5 312.2h0M321.2 330.1h0M321.6 322.1h0M320.0 309.3h0M320.8 272.5h0M319.6 329.5h0M320.1 338.6h0M321.2 330.3h0M320.8 332.6h0M320.6 310.4h0M320.9 271.2h0M320.1 268.5h0M320.3 324.7h0M321.3 281.0h0M320.8 291.2h0M320.2 276.5h0M319.6 299.4h0M320.8 302.1h0M320.9 326.6h0M320.6 284.9h0M321.1 304.1h0M320.1 301.5h0M319.7 335.9h0M321.3 311.8h0M320.5 315.5h0M320.3 315.8h0M320.8 324.0h0M320.1 270.4h0M320.7 307.2h0M320.6 334.3h0M321.5 284.4h0M320.3 300.5h0M320.6 277.8h0M321.1 299.6h0M321.0 269.1h0M320.6 309.1h0M321.3 265.1h0M319.8 309.5h0M319.9 333.2h0M321.3 317.7h0M319.8 312.9h0M320.3 298.6h0M319.7 317.5h0M320.8 306.0h0M320.8 331.0h0M319.9 276.5h0M320.9 298.7h0M321.1 313.0h0M320.6 304.9h0M320.6 304.6h0M321.0 287.9h0M320.4 298.4h0M319.9 318.3h0M319.7 300.2h0M320.2 283.2h0M321.3 269.0h0M321.0 323.2h0M320.9 311.0h0M321.0 303.2h0M321.3 272.4h0M321.0 306.8h0M320.7 300.9h0M319.7 264.0h0M321.3 313.6h0M320.9 284.5h0M320.1 309.7h0M321.1 327.7h0M320.4 328.1h0M321.4 290.6h0M320.7 316.1h0M320.3 331.3h0M320.6 316.1h0M320.9 282.6h0M319.8 284.0h0M320.6 290.5h0M321.5 290.8h0M321.5 329.4h0M320.5 313.0h0M321.3 310.0h0M319.6 332.5h0M320.9 323.3h0M321.4 268.1h0M321.5 290.8h0M319.7 277.6h0M319.9 306.3h0M321.5 327.1h0M321.2 318.5h0M320.9 325.5h0M320.3 276.3h0M320.2 329.6h0M319.7 340.2h0M321.5 288.0h0M321.3 290.4h0M320.5 304.1h0M320.2 298.4h0M319.9 303.5h0M321.2 273.8h0M321.5 296.2h0M320.4 273.8h0M320.4 321.5h0M320.2 293.8h0M319.9 337.0h0M321.0 305.3h0M320.2 290.9h0M320.7 296.2h0M320.4 284.3h0M320.5 317.8h0M320.9 306.0h0M319.8 295.9h0M320.0 273.8h0M321.4 314.2h0M320.0 280.6h0M321.2 307.6h0M320.8 315.3h0M319.8 313.8h0M320.3 290.9h0M321.1 312.4h0M320.3 330.1h0M320.0 302.5h0M321.5 302.2h0M319.9 328.0h0M320.5 310.6h0M320.7 295.6h0M321.3 283.8h0M320.2 307.4h0M339.4 297.0h0M337.9 295.7h0M339.3 291.7h0M338.3 275.0h0M339.0 310.3h0M339.1 264.9h0M338.6 292.3h0M338.8 318.5h0M337.8 287.8h0M338.4 315.1h0M339.6 279.8h0M338.9 312.6h0M337.8 295.6h0M338.8 306.4h0M338.0 264.0h0M339.7 301.6h0M337.7 301.9h0M339.4 319.5h0M338.5 291.1h0M339.6 299.4h0M338.9 311.7h0M339.3 303.1h0M339.3 289.8h0M339.4 301.6h0M338.6 264.9h0M339.2 276.3h0M338.9 303.0h0M338.6 292.9h0M337.9 287.3h0M339.2 303.8h0M337.9 295.0h0M339.4 310.6h0M338.7 274.0h0M338.3 305.9h0M338.5 314.2h0M339.1 276.2h0M338.7 284.3h0M339.6 280.0h0M338.1 275.2h0M338.2 293.5h0M338.3 293.2h0M338.2 316.4h0M338.7 298.3h0M338.8 301.2h0M338.9 299.3h0M339.1 273.8h0M338.5 310.8h0M339.4 279.7h0M339.2 296.0h0M338.5 279.4h0M339.0 291.0h0M339.4 272.5h0M339.6 321.1h0M339.2 274.9h0M338.4 263.4h0M339.5 312.8h0M338.8 315.8h0M338.1 273.0h0M337.9 296.8h0M339.0 313.0h0M338.9 287.0h0M339.2 271.3h0M338.4 295.2h0M339.2 291.1h0M338.2 278.3h0M339.5 275.2h0M338.8 306.4h0M338.7 300.2h0M338.3 292.2h0M337.8 316.7h0M338.3 311.3h0M339.5 305.0h0M339.5 303.5h0M339.6 310.4h0M339.0 296.8h0M338.7 286.6h0M339.4 275.7h0M339.1 312.9h0M339.0 293.1h0M338.6 320.2h0M339.3 267.6h0M338.2 310.1h0M338.6 318.0h0M339.1 319.1h0M338.2 269.5h0M339.1 303.0h0M337.9 281.8h0M338.9 312.1h0M338.0 303.7h0M338.2 296.2h0M337.8 291.0h0M339.5 289.5h0M338.8 309.9h0M338.3 281.3h0M339.1 301.5h0M339.4 305.6h0M339.0 309.4h0M338.5 278.9h0M338.9 289.9h0M338.2 315.5h0M339.4 273.9h0M338.4 317.3h0M338.2 280.9h0M338.2 292.6h0M338.0 290.9h0M337.9 270.3h0M339.3 270.2h0M339.3 314.9h0M338.3 312.8h0M337.8 311.4h0M339.5 319.3h0M337.9 307.5h0M339.0 301.1h0M338.7 302.7h0M338.9 300.2h0M338.9 309.0h0M338.8 292.0h0M338.1 279.4h0M338.1 314.4h0M338.9 293.0h0M339.1 290.1h0M339.3 315.0h0M338.2 303.1h0M338.7 281.5h0M339.1 306.3h0M339.0 317.6h0M339.5 319.6h0M338.0 310.4h0M338.4 310.6h0M339.5 290.4h0M337.7 273.4h0M338.1 274.8h0M356.9 290.9h0M357.0 286.9h0M357.3 281.8h0M356.2 307.9h0M355.7 301.7h0M357.6 279.1h0M355.8 270.6h0M356.0 311.5h0M356.7 276.5h0M355.9 266.7h0M356.4 271.5h0M357.2 311.1h0M356.3 295.1h0M357.0 264.3h0M356.0 292.8h0M357.3 278.8h0M357.1 304.8h0M356.1 264.1h0M357.0 308.6h0M356.9 273.8h0M357.3 304.3h0M356.6 316.7h0M356.9 301.6h0M356.6 293.3h0M356.4 287.1h0M357.1 275.3h0M357.3 316.0h0M357.1 269.4h0M355.9 309.6h0M355.8 301.7h0M357.4 296.7h0M356.7 302.4h0M357.6 307.9h0M356.0 297.3h0M356.1 306.2h0M356.9 291.5h0M357.1 317.5h0M356.4 294.4h0M355.8 302.6h0M355.8 292.9h0M355.9 282.7h0M357.0 275.2h0M357.5 319.1h0M355.6 287.9h0M355.9 287.4h0M356.2 311.3h0M355.7 293.9h0M356.6 286.5h0M355.7 264.6h0M356.7 309.4h0M356.1 305.0h0M356.4 288.5h0M356.4 296.3h0M356.6 322.2h0M357.1 307.9h0M356.0 285.1h0M356.0 299.5h0M357.1 272.4h0M356.5 313.2h0M357.2 314.2h0M355.9 301.4h0M356.8 266.8h0M356.7 303.8h0M357.2 321.1h0M356.5 288.7h0M356.2 269.3h0M375.2 315.7h0M373.9 325.5h0M375.1 315.8h0M374.5 300.8h0M375.0 315.7h0M375.2 310.5h0M374.5 319.7h0M373.5 287.0h0M374.3 303.5h0M374.7 293.5h0M374.8 339.7h0M374.2 316.9h0M374.4 279.0h0M374.4 332.1h0M373.6 311.5h0M374.4 293.2h0M375.3 308.4h0M373.6 305.3h0M373.7 328.3h0M373.8 336.5h0M373.7 310.0h0M374.0 279.6h0M374.7 334.6h0M374.4 331.8h0M373.9 292.8h0M373.7 327.1h0M375.3 297.3h0M375.3 328.4h0M373.9 343.2h0M374.6 291.0h0M374.5 312.7h0M375.3 299.2h0M373.7 281.6h0M375.1 327.9h0M374.6 322.8h0M375.0 317.9h0M375.2 300.7h0M373.8 327.8h0M374.5 308.3h0M375.2 295.9h0M375.0 319.4h0M374.3 307.3h0M375.2 302.0h0M374.8 292.6h0M375.4 329.8h0M374.9 326.0h0M375.2 334.3h0M374.2 307.1h0M374.0 313.4h0M374.2 325.9h0M373.7 335.3h0M374.5 313.0h0M375.3 278.5h0M374.7 337.1h0M375.1 312.0h0M374.8 320.9h0M375.0 339.1h0M374.4 328.5h0M374.5 330.3h0M374.1 316.0h0M374.2 318.5h0M374.1 323.6h0M375.1 313.2h0M374.2 296.2h0M375.4 321.6h0M374.2 311.7h0M374.5 280.1h0M373.5 317.3h0M374.7 294.7h0M373.9 289.9h0M374.4 315.8h0M373.6 328.1h0M374.9 321.9h0M375.1 340.5h0M374.4 307.9h0M374.8 303.0h0M373.9 319.9h0M374.0 340.2h0M375.3 316.7h0M373.8 343.6h0M374.0 289.7h0M373.5 323.1h0M374.0 280.0h0M374.1 287.2h0M375.4 326.6h0M373.7 306.2h0M375.2 318.8h0M375.2 287.6h0M391.6 319.0h0M393.0 315.0h0M391.5 323.8h0M392.2 315.1h0M393.5 302.4h0M392.1 305.6h0M392.3 307.6h0M393.4 305.3h0M393.2 321.8h0M391.5 310.7h0M391.5 310.5h0M393.4 333.7h0M392.8 323.3h0M393.2 308.6h0M392.6 322.1h0M392.5 324.3h0M393.0 308.4h0M392.3 303.0h0M392.2 323.0h0M391.6 305.8h0M391.6 311.4h0M393.5 328.6h0M393.0 320.2h0M393.2 305.2h0M392.5 295.1h0M392.4 302.4h0M392.6 303.2h0M392.9 321.1h0M392.5 302.7h0M392.1 316.3h0M393.2 310.4h0M393.5 328.6h0M393.2 303.7h0M392.2 302.3h0M393.2 301.3h0M392.8 323.6h0M392.5 327.7h0M393.2 295.2h0M392.8 316.2h0M392.2 293.5h0M392.6 312.9h0M393.0 300.5h0M393.0 302.2h0M393.2 303.0h0M392.9 311.7h0M391.5 311.6h0M391.5 328.8h0M392.6 315.3h0M393.2 325.6h0M391.6 299.7h0M392.6 289.6h0M392.1 331.0h0M392.2 302.8h0M391.6 317.6h0M391.8 313.1h0M392.3 318.6h0M392.2 287.1h0M392.7 321.7h0M392.5 309.7h0M392.1 304.1h0M393.4 304.5h0M392.3 301.4h0M393.1 294.7h0M392.1 293.6h0M391.7 313.0h0M392.8 308.5h0M409.9 323.0h0M411.2 306.4h0M410.2 331.7h0M410.3 313.3h0M410.2 335.1h0M409.5 306.4h0M411.0 323.6h0M409.9 325.0h0M409.5 304.1h0M409.6 314.9h0M409.6 317.6h0M410.2 313.8h0M410.6 307.2h0M409.9 324.2h0M410.6 315.4h0M411.1 312.8h0M410.9 317.7h0M409.5 320.6h0M410.7 307.8h0M409.7 302.7h0M410.3 300.7h0M410.5 313.6h0M409.5 304.2h0M409.7 299.7h0M410.9 313.5h0M409.5 331.8h0M410.7 335.8h0M411.2 326.5h0M410.4 330.6h0M409.9 330.6h0M409.7 294.4h0M410.1 334.2h0M410.1 312.2h0M427.9 312.6h0M429.1 319.0h0M428.5 312.9h0M428.9 310.9h0M428.8 321.2h0M427.6 325.2h0M427.6 299.5h0M429.4 328.4h0M427.8 324.2h0M429.1 312.8h0M427.4 330.0h0M428.7 321.6h0M428.7 326.7h0M429.3 327.4h0M427.7 321.7h0M429.3 320.7h0M428.4 307.3h0M429.2 331.8h0M429.3 323.8h0M428.5 329.7h0M428.7 298.6h0M428.1 301.3h0M429.1 311.3h0M428.5 324.7h0M429.2 319.5h0M428.7 298.7h0M428.8 304.3h0M429.3 314.5h0M428.1 322.8h0M427.7 323.0h0M428.3 313.9h0M428.7 301.0h0M428.5 304.4h0M428.4 319.8h0M427.9 327.9h0M427.5 309.4h0M428.3 314.7h0M429.1 297.1h0M428.3 313.8h0M429.1 298.9h0M428.0 325.1h0M428.4 299.8h0M429.1 324.8h0M428.7 298.6h0M429.4 299.0h0M428.6 312.0h0M428.1 301.4h0M428.8 324.3h0M429.2 303.7h0M428.6 303.5h0M428.8 333.8h0M429.1 314.1h0M428.0 300.5h0M428.2 324.9h0M428.9 322.9h0M428.8 332.1h0M429.2 326.9h0M429.2 318.5h0M428.3 325.9h0M428.2 318.7h0M428.4 330.3h0M428.0 302.4h0M429.0 319.9h0M427.6 317.2h0M427.7 309.2h0M428.6 328.4h0M429.1 311.0h0M429.4 332.7h0M428.1 325.2h0M427.6 316.4h0M428.6 330.0h0M428.2 312.1h0M428.8 323.5h0M427.4 329.4h0M429.0 331.8h0M427.4 312.0h0M427.5 312.9h0M429.2 297.4h0M428.2 324.8h0M428.0 312.4h0M427.9 310.1h0M428.4 312.9h0M428.5 299.1h0M428.5 305.6h0M429.1 310.5h0M428.5 300.5h0M429.2 312.2h0M427.8 308.8h0M446.7 331.2h0M446.6 299.9h0M445.5 311.4h0M446.8 333.0h0M445.7 294.0h0M447.0 321.3h0M446.8 301.5h0M445.3 306.3h0M447.2 326.6h0M446.9 309.2h0M446.1 292.3h0M446.5 293.5h0M447.1 315.1h0M445.8 281.8h0M447.0 298.3h0M445.9 315.0h0M445.3 324.7h0M446.5 302.8h0M446.0 318.9h0M446.3 329.8h0M446.0 297.1h0M445.9 319.3h0M446.9 304.9h0M446.3 311.3h0M446.4 327.8h0M445.8 316.0h0M445.8 323.8h0M446.6 318.4h0M446.1 333.0h0M447.0 307.0h0M446.1 328.2h0M446.0 326.4h0M447.0 297.7h0M445.2 301.3h0M446.1 328.5h0M445.2 276.9h0M445.8 332.3h0M445.6 305.3h0M447.2 316.3h0M445.4 281.0h0M445.3 293.5h0M446.7 326.7h0M445.2 327.1h0M446.5 312.5h0M446.8 313.7h0M446.2 309.2h0M446.5 305.2h0M445.2 328.4h0M445.9 318.7h0M445.4 308.6h0M446.6 330.8h0M447.1 319.7h0M446.6 303.0h0M446.4 284.3h0M445.6 290.4h0M446.6 321.4h0M446.4 283.6h0M446.8 310.0h0M446.2 316.9h0M446.6 293.6h0M446.2 317.6h0M447.1 299.1h0M447.2 323.7h0M446.2 302.9h0M446.8 306.4h0M446.9 288.6h0M446.1 292.5h0M446.1 285.2h0M447.1 322.4h0M445.3 291.7h0M446.3 295.2h0M445.4 332.3h0M446.8 302.6h0M447.0 301.8h0M447.2 294.0h0M446.5 294.6h0M446.3 310.6h0M445.5 319.6h0M445.2 298.3h0M446.2 324.2h0M445.5 320.1h0M446.9 320.9h0M446.9 307.5h0M446.1 301.1h0M446.6 324.2h0M446.2 307.9h0M447.1 312.2h0M446.3 310.8h0M446.7 334.5h0M446.9 324.6h0M445.8 308.5h0M445.6 310.5h0M446.5 279.5h0M446.4 321.5h0M446.5 316.4h0M446.5 310.1h0M446.6 314.3h0M445.6 323.7h0M445.6 338.6h0M463.3 303.5h0M463.0 303.2h0M464.4 320.8h0M463.4 304.2h0M464.9 309.2h0M463.3 309.4h0M464.6 311.4h0M463.3 302.8h0M463.7 322.6h0M464.2 325.5h0M464.6 311.6h0M463.9 327.8h0M464.4 301.6h0M463.7 309.4h0M464.5 304.5h0M464.7 312.3h0M463.3 299.2h0M463.1 318.3h0M463.9 331.1h0M464.7 296.4h0M464.7 298.6h0M463.0 306.6h0M463.4 317.1h0M463.3 304.2h0M463.8 328.9h0M464.4 305.9h0M463.5 318.3h0M463.7 326.0h0M463.9 319.5h0M464.2 319.3h0M463.2 317.5h0M464.1 311.5h0M464.8 319.9h0M463.2 320.6h0M464.1 319.8h0M464.0 312.4h0M464.8 325.5h0M463.7 316.4h0M463.5 317.4h0M464.0 318.6h0M464.9 328.3h0M464.2 294.7h0M464.8 323.8h0M464.1 301.5h0M463.8 308.5h0M464.4 333.5h0M464.8 318.7h0M463.4 304.0h0M463.7 324.9h0M464.3 307.9h0M464.6 292.1h0M463.4 332.8h0M463.6 312.0h0M464.8 337.0h0M464.9 334.9h0M464.5 334.5h0M463.8 335.1h0M464.8 328.2h0M463.3 312.4h0M463.6 329.7h0M464.7 292.1h0M464.8 312.7h0M463.6 330.5h0M463.5 297.0h0M463.6 301.0h0M463.0 309.3h0M464.1 317.9h0M463.4 321.1h0M464.1 337.7h0M463.3 311.4h0M464.1 302.6h0M463.0 338.6h0M463.2 310.2h0M464.7 316.4h0M464.9 307.4h0M464.5 307.9h0M463.8 324.0h0M481.5 312.1h0M481.3 263.6h0M481.7 277.9h0M481.8 297.2h0M482.0 298.9h0M481.4 296.1h0M481.6 272.5h0M482.1 258.9h0M481.9 291.3h0M481.2 318.3h0M482.5 298.9h0M481.1 284.9h0M481.5 333.4h0M481.8 329.1h0M482.6 289.8h0M481.2 332.5h0M481.5 272.7h0M481.2 304.6h0M481.1 302.0h0M482.2 260.1h0M482.6 260.3h0M481.8 255.9h0M482.4 303.8h0M482.3 289.9h0M482.1 291.9h0M482.0 301.8h0M482.2 294.5h0M482.0 334.4h0M481.4 299.4h0M481.9 288.5h0M482.1 275.9h0M481.5 311.7h0M482.2 308.9h0M481.1 303.4h0M482.4 295.7h0M481.3 290.8h0M481.8 306.6h0M482.4 262.4h0M482.8 316.4h0M481.4 286.4h0M481.2 325.8h0M482.0 278.3h0M481.1 297.6h0M482.4 300.7h0M482.3 323.4h0M482.2 260.2h0M481.1 288.5h0M481.6 323.9h0M481.3 292.7h0M482.8 305.3h0M481.8 318.8h0M481.7 295.7h0M482.8 294.3h0M482.6 289.7h0M482.4 278.1h0M481.4 268.6h0M482.4 295.4h0M481.3 290.5h0M481.7 274.8h0M481.5 307.6h0M482.9 324.6h0M482.0 317.1h0M481.5 321.4h0M481.0 293.7h0M482.3 274.9h0M482.1 290.9h0M482.5 282.9h0M482.5 316.6h0M482.6 320.9h0M482.9 331.9h0M482.5 291.3h0M481.2 263.5h0M481.8 313.4h0M482.5 306.2h0M482.2 303.3h0M482.1 292.3h0M482.6 278.2h0M482.4 320.2h0M482.4 295.5h0M482.5 306.8h0M481.1 285.9h0M481.8 317.2h0M482.8 259.9h0M482.5 277.5h0M481.5 307.7h0M482.9 308.9h0M482.8 296.3h0M482.3 304.9h0M482.8 267.7h0M481.4 292.2h0M482.6 292.8h0M481.8 302.8h0M482.4 272.3h0M481.8 280.3h0M482.9 286.1h0M481.8 312.5h0M481.9 273.5h0M482.0 306.2h0M481.7 269.4h0M481.8 308.2h0M481.4 285.9h0M481.3 304.7h0M482.3 284.5h0M482.4 281.6h0M482.1 293.9h0M481.6 264.9h0M482.4 268.9h0M482.3 297.1h0M482.1 272.6h0M481.8 310.5h0M482.6 282.7h0M482.1 323.7h0M482.5 291.9h0M482.8 297.6h0M481.2 326.9h0M482.4 319.5h0M482.7 259.9h0M482.9 296.3h0M482.4 317.5h0M481.6 286.1h0M481.5 273.6h0M482.6 285.6h0M482.9 309.1h0M482.3 281.7h0M482.4 258.2h0M482.6 298.6h0M481.7 321.6h0M482.6 327.2h0M481.9 262.6h0M481.5 317.8h0M481.0 316.4h0M481.9 277.4h0M481.8 325.6h0M481.1 308.2h0M481.3 285.0h0M481.2 270.4h0M482.2 261.9h0M482.0 307.4h0M481.2 281.9h0M482.8 304.9h0M481.4 272.2h0M482.3 290.7h0M482.9 317.1h0M481.7 291.6h0M482.9 278.4h0M481.5 281.1h0M481.6 312.3h0M481.2 291.0h0M481.8 327.2h0M482.9 308.5h0M482.2 289.9h0M482.5 262.7h0M482.4 317.9h0M482.0 265.8h0M499.4 298.7h0M499.5 320.1h0M500.7 336.1h0M500.9 321.9h0M499.6 299.6h0M501.0 321.5h0M501.0 306.6h0M499.9 326.6h0M500.6 327.1h0M499.3 306.3h0M501.0 298.0h0M500.8 330.6h0M500.6 320.8h0M500.9 314.0h0M500.1 326.4h0M499.7 325.0h0M500.2 300.9h0"/>
<line x1="50.00" y1="306.30" x2="59.00" y2="306.30" stroke="#2a2a2a" stroke-width="1.1"/>
<line x1="59.00" y1="306.30" x2="68.00" y2="306.30" stroke="#2a2a2a" stroke-width="1.1"/>
<line x1="68.00" y1="299.00" x2="76.80" y2="299.00" stroke="#2a2a2a" stroke-width="1.1"/>
<line x1="76.80" y1="299.00" x2="86.00" y2="299.00" stroke="#2a2a2a" stroke-width="1.1"/>
<line x1="86.00" y1="298.30" x2="95.00" y2="298.30" stroke="#2a2a2a" stroke-width="1.1"/>
<line x1="95.00" y1="298.30" x2="104.00" y2="298.30" stroke="#2a2a2a" stroke-width="1.1"/>
<line x1="104.30" y1="319.50" x2="112.80" y2="319.50" stroke="#2a2a2a" stroke-width="1.1"/>
<line x1="112.80" y1="317.30" x2="121.30" y2="317.30" stroke="#2a2a2a" stroke-width="1.1"/>
<line x1="121.60" y1="313.40" x2="130.50" y2="313.40" stroke="#2a2a2a" stroke-width="1.1"/>
<line x1="130.50" y1="312.00" x2="139.70" y2="312.00" stroke="#2a2a2a" stroke-width="1.1"/>
<line x1="140.00" y1="322.70" x2="148.60" y2="322.70" stroke="#2a2a2a" stroke-width="1.1"/>
<line x1="148.60" y1="317.70" x2="157.70" y2="317.70" stroke="#2a2a2a" stroke-width="1.1"/>
<line x1="158.20" y1="312.70" x2="166.80" y2="312.70" stroke="#2a2a2a" stroke-width="1.1"/>
<line x1="166.80" y1="310.50" x2="175.50" y2="310.50" stroke="#2a2a2a" stroke-width="1.1"/>
<line x1="176.30" y1="316.10" x2="185.00" y2="316.10" stroke="#2a2a2a" stroke-width="1.1"/>
<line x1="185.00" y1="316.10" x2="193.90" y2="316.10" stroke="#2a2a2a" stroke-width="1.1"/>
<line x1="193.80" y1="319.30" x2="202.50" y2="319.30" stroke="#2a2a2a" stroke-width="1.1"/>
<line x1="202.50" y1="319.30" x2="211.80" y2="319.30" stroke="#2a2a2a" stroke-width="1.1"/>
<line x1="211.80" y1="302.50" x2="220.40" y2="302.50" stroke="#2a2a2a" stroke-width="1.1"/>
<line x1="220.40" y1="302.50" x2="229.80" y2="302.50" stroke="#2a2a2a" stroke-width="1.1"/>
<line x1="229.80" y1="319.00" x2="238.50" y2="319.00" stroke="#2a2a2a" stroke-width="1.1"/>
<line x1="238.50" y1="316.80" x2="247.70" y2="316.80" stroke="#2a2a2a" stroke-width="1.1"/>
<line x1="311.70" y1="305.40" x2="320.60" y2="305.40" stroke="#2a2a2a" stroke-width="1.1"/>
<line x1="320.60" y1="305.40" x2="329.70" y2="305.40" stroke="#2a2a2a" stroke-width="1.1"/>
<line x1="330.00" y1="299.00" x2="338.70" y2="299.00" stroke="#2a2a2a" stroke-width="1.1"/>
<line x1="338.70" y1="299.00" x2="348.00" y2="299.00" stroke="#2a2a2a" stroke-width="1.1"/>
<line x1="345.00" y1="298.30" x2="356.60" y2="298.30" stroke="#2a2a2a" stroke-width="1.1"/>
<line x1="356.60" y1="298.30" x2="365.70" y2="298.30" stroke="#2a2a2a" stroke-width="1.1"/>
<line x1="366.00" y1="317.70" x2="374.40" y2="317.70" stroke="#2a2a2a" stroke-width="1.1"/>
<line x1="374.40" y1="319.40" x2="383.00" y2="319.40" stroke="#2a2a2a" stroke-width="1.1"/>
<line x1="383.30" y1="312.30" x2="392.50" y2="312.30" stroke="#2a2a2a" stroke-width="1.1"/>
<line x1="392.50" y1="312.30" x2="401.70" y2="312.30" stroke="#2a2a2a" stroke-width="1.1"/>
<line x1="401.70" y1="317.70" x2="410.40" y2="317.70" stroke="#2a2a2a" stroke-width="1.1"/>
<line x1="410.40" y1="320.00" x2="419.30" y2="320.00" stroke="#2a2a2a" stroke-width="1.1"/>
<line x1="419.50" y1="310.20" x2="428.40" y2="310.20" stroke="#2a2a2a" stroke-width="1.1"/>
<line x1="428.40" y1="313.00" x2="437.50" y2="313.00" stroke="#2a2a2a" stroke-width="1.1"/>
<line x1="437.00" y1="316.10" x2="446.20" y2="316.10" stroke="#2a2a2a" stroke-width="1.1"/>
<line x1="446.20" y1="316.10" x2="455.40" y2="316.10" stroke="#2a2a2a" stroke-width="1.1"/>
<line x1="455.20" y1="319.60" x2="464.00" y2="319.60" stroke="#2a2a2a" stroke-width="1.1"/>
<line x1="464.00" y1="319.60" x2="473.50" y2="319.60" stroke="#2a2a2a" stroke-width="1.1"/>
<line x1="473.50" y1="302.50" x2="482.00" y2="302.50" stroke="#2a2a2a" stroke-width="1.1"/>
<line x1="482.00" y1="302.50" x2="491.40" y2="302.50" stroke="#2a2a2a" stroke-width="1.1"/>
<line x1="491.40" y1="316.80" x2="500.20" y2="316.80" stroke="#2a2a2a" stroke-width="1.1"/>
<line x1="500.20" y1="322.00" x2="509.20" y2="322.00" stroke="#2a2a2a" stroke-width="1.1"/>
<text x="7.00" y="231.90" font-size="11.56" text-anchor="start" font-weight="bold" fill="#000">Ci</text>
<path d="M45.6,237.4 H252.3 V355.3 H45.6 Z" fill="none" stroke="#1a1a1a" stroke-width="1.3"/>
<line x1="42.6" y1="241.6" x2="45.6" y2="241.6" stroke="#1a1a1a" stroke-width="1"/>
<text x="40.10" y="244.20" font-size="8.74" text-anchor="end" font-weight="normal" fill="#222" textLength="18.5" lengthAdjust="spacingAndGlyphs" stroke="#222" stroke-width="0.06">1e+06</text>
<line x1="42.6" y1="278.2" x2="45.6" y2="278.2" stroke="#1a1a1a" stroke-width="1"/>
<text x="40.10" y="280.80" font-size="8.74" text-anchor="end" font-weight="normal" fill="#222" textLength="18.5" lengthAdjust="spacingAndGlyphs" stroke="#222" stroke-width="0.06">1e+04</text>
<line x1="42.6" y1="314.7" x2="45.6" y2="314.7" stroke="#1a1a1a" stroke-width="1"/>
<text x="40.10" y="317.30" font-size="8.74" text-anchor="end" font-weight="normal" fill="#222" textLength="18.5" lengthAdjust="spacingAndGlyphs" stroke="#222" stroke-width="0.06">1e+02</text>
<line x1="42.6" y1="351.4" x2="45.6" y2="351.4" stroke="#1a1a1a" stroke-width="1"/>
<text x="40.10" y="354.00" font-size="8.74" text-anchor="end" font-weight="normal" fill="#222" textLength="18.5" lengthAdjust="spacingAndGlyphs" stroke="#222" stroke-width="0.06">1e+00</text>
<line x1="59.5" y1="355.3" x2="59.5" y2="358" stroke="#1a1a1a" stroke-width="1"/>
<text x="59.50" y="367.50" font-size="8.85" text-anchor="middle" font-weight="normal" fill="#222" textLength="10.4" lengthAdjust="spacingAndGlyphs" stroke="#222" stroke-width="0.06">PC</text>
<line x1="78.0" y1="355.3" x2="78.0" y2="358" stroke="#1a1a1a" stroke-width="1"/>
<text x="78.00" y="367.50" font-size="8.85" text-anchor="middle" font-weight="normal" fill="#222" textLength="10.0" lengthAdjust="spacingAndGlyphs" stroke="#222" stroke-width="0.06">PE</text>
<line x1="96.5" y1="355.3" x2="96.5" y2="358" stroke="#1a1a1a" stroke-width="1"/>
<text x="96.50" y="367.50" font-size="8.85" text-anchor="middle" font-weight="normal" fill="#222" textLength="6.8" lengthAdjust="spacingAndGlyphs" stroke="#222" stroke-width="0.06">PI</text>
<line x1="115.3" y1="355.3" x2="115.3" y2="358" stroke="#1a1a1a" stroke-width="1"/>
<text x="115.30" y="367.50" font-size="8.85" text-anchor="middle" font-weight="normal" fill="#222" textLength="13.9" lengthAdjust="spacingAndGlyphs" stroke="#222" stroke-width="0.06">LPC</text>
<line x1="134.3" y1="355.3" x2="134.3" y2="358" stroke="#1a1a1a" stroke-width="1"/>
<text x="134.30" y="367.50" font-size="8.85" text-anchor="middle" font-weight="normal" fill="#222" textLength="13.3" lengthAdjust="spacingAndGlyphs" stroke="#222" stroke-width="0.06">LPE</text>
<line x1="152.1" y1="355.3" x2="152.1" y2="358" stroke="#1a1a1a" stroke-width="1"/>
<text x="152.10" y="367.50" font-size="8.85" text-anchor="middle" font-weight="normal" fill="#222" textLength="10.9" lengthAdjust="spacingAndGlyphs" stroke="#222" stroke-width="0.06">LPI</text>
<line x1="170.4" y1="355.3" x2="170.4" y2="358" stroke="#1a1a1a" stroke-width="1"/>
<text x="170.40" y="367.50" font-size="8.85" text-anchor="middle" font-weight="normal" fill="#222" textLength="12.0" lengthAdjust="spacingAndGlyphs" stroke="#222" stroke-width="0.06">DG</text>
<line x1="189.2" y1="355.3" x2="189.2" y2="358" stroke="#1a1a1a" stroke-width="1"/>
<text x="189.20" y="367.50" font-size="8.85" text-anchor="middle" font-weight="normal" fill="#222" textLength="11.4" lengthAdjust="spacingAndGlyphs" stroke="#222" stroke-width="0.06">TG</text>
<line x1="205.3" y1="355.3" x2="205.3" y2="358" stroke="#1a1a1a" stroke-width="1"/>
<text x="205.30" y="367.50" font-size="8.85" text-anchor="middle" font-weight="normal" fill="#222" textLength="12.7" lengthAdjust="spacingAndGlyphs" stroke="#222" stroke-width="0.06">Cer</text>
<line x1="221.9" y1="355.3" x2="221.9" y2="358" stroke="#1a1a1a" stroke-width="1"/>
<text x="221.90" y="367.50" font-size="8.85" text-anchor="middle" font-weight="normal" fill="#222" textLength="12.1" lengthAdjust="spacingAndGlyphs" stroke="#222" stroke-width="0.06">SM</text>
<line x1="239.2" y1="355.3" x2="239.2" y2="358" stroke="#1a1a1a" stroke-width="1"/>
<text x="239.20" y="367.50" font-size="8.85" text-anchor="middle" font-weight="normal" fill="#222" textLength="10.2" lengthAdjust="spacingAndGlyphs" stroke="#222" stroke-width="0.06">FA</text>
<text transform="translate(14.3,296.2) rotate(-90)" font-size="9.6" text-anchor="middle" fill="#2a2a2a" stroke="#2a2a2a" stroke-width="0.12" textLength="75.7" lengthAdjust="spacingAndGlyphs">Concentration [ng/mL]</text>
<rect x="51.8" y="240.8" width="6.2" height="5.8" fill="#1b5995"/>
<rect x="95.5" y="240.8" width="6.2" height="5.8" fill="#cf1239"/>
<text x="61.30" y="246.30" font-size="8.74" text-anchor="start" font-weight="normal" fill="#222" textLength="24.5" lengthAdjust="spacingAndGlyphs" stroke="#222" stroke-width="0.06">Resting</text>
<text x="105.00" y="246.30" font-size="8.74" text-anchor="start" font-weight="normal" fill="#222" textLength="32.0" lengthAdjust="spacingAndGlyphs" stroke="#222" stroke-width="0.06">Thrombin</text>
<text x="270.00" y="231.90" font-size="11.56" text-anchor="start" font-weight="bold" fill="#000">Cii</text>
<path d="M308.0,237.4 H513.2 V355.3 H308.0 Z" fill="none" stroke="#1a1a1a" stroke-width="1.3"/>
<line x1="305.0" y1="241.6" x2="308.0" y2="241.6" stroke="#1a1a1a" stroke-width="1"/>
<text x="302.50" y="244.20" font-size="8.74" text-anchor="end" font-weight="normal" fill="#222" textLength="18.5" lengthAdjust="spacingAndGlyphs" stroke="#222" stroke-width="0.06">1e+06</text>
<line x1="305.0" y1="278.2" x2="308.0" y2="278.2" stroke="#1a1a1a" stroke-width="1"/>
<text x="302.50" y="280.80" font-size="8.74" text-anchor="end" font-weight="normal" fill="#222" textLength="18.5" lengthAdjust="spacingAndGlyphs" stroke="#222" stroke-width="0.06">1e+04</text>
<line x1="305.0" y1="314.7" x2="308.0" y2="314.7" stroke="#1a1a1a" stroke-width="1"/>
<text x="302.50" y="317.30" font-size="8.74" text-anchor="end" font-weight="normal" fill="#222" textLength="18.5" lengthAdjust="spacingAndGlyphs" stroke="#222" stroke-width="0.06">1e+02</text>
<line x1="305.0" y1="351.4" x2="308.0" y2="351.4" stroke="#1a1a1a" stroke-width="1"/>
<text x="302.50" y="354.00" font-size="8.74" text-anchor="end" font-weight="normal" fill="#222" textLength="18.5" lengthAdjust="spacingAndGlyphs" stroke="#222" stroke-width="0.06">1e+00</text>
<line x1="321.2" y1="355.3" x2="321.2" y2="358" stroke="#1a1a1a" stroke-width="1"/>
<text x="321.20" y="367.50" font-size="8.85" text-anchor="middle" font-weight="normal" fill="#222" textLength="10.4" lengthAdjust="spacingAndGlyphs" stroke="#222" stroke-width="0.06">PC</text>
<line x1="339.8" y1="355.3" x2="339.8" y2="358" stroke="#1a1a1a" stroke-width="1"/>
<text x="339.80" y="367.50" font-size="8.85" text-anchor="middle" font-weight="normal" fill="#222" textLength="10.0" lengthAdjust="spacingAndGlyphs" stroke="#222" stroke-width="0.06">PE</text>
<line x1="358.2" y1="355.3" x2="358.2" y2="358" stroke="#1a1a1a" stroke-width="1"/>
<text x="358.20" y="367.50" font-size="8.85" text-anchor="middle" font-weight="normal" fill="#222" textLength="6.8" lengthAdjust="spacingAndGlyphs" stroke="#222" stroke-width="0.06">PI</text>
<line x1="376.6" y1="355.3" x2="376.6" y2="358" stroke="#1a1a1a" stroke-width="1"/>
<text x="376.60" y="367.50" font-size="8.85" text-anchor="middle" font-weight="normal" fill="#222" textLength="13.9" lengthAdjust="spacingAndGlyphs" stroke="#222" stroke-width="0.06">LPC</text>
<line x1="395.2" y1="355.3" x2="395.2" y2="358" stroke="#1a1a1a" stroke-width="1"/>
<text x="395.20" y="367.50" font-size="8.85" text-anchor="middle" font-weight="normal" fill="#222" textLength="13.3" lengthAdjust="spacingAndGlyphs" stroke="#222" stroke-width="0.06">LPE</text>
<line x1="413.9" y1="355.3" x2="413.9" y2="358" stroke="#1a1a1a" stroke-width="1"/>
<text x="413.90" y="367.50" font-size="8.85" text-anchor="middle" font-weight="normal" fill="#222" textLength="10.9" lengthAdjust="spacingAndGlyphs" stroke="#222" stroke-width="0.06">LPI</text>
<line x1="432.3" y1="355.3" x2="432.3" y2="358" stroke="#1a1a1a" stroke-width="1"/>
<text x="432.30" y="367.50" font-size="8.85" text-anchor="middle" font-weight="normal" fill="#222" textLength="12.0" lengthAdjust="spacingAndGlyphs" stroke="#222" stroke-width="0.06">DG</text>
<line x1="450.3" y1="355.3" x2="450.3" y2="358" stroke="#1a1a1a" stroke-width="1"/>
<text x="450.30" y="367.50" font-size="8.85" text-anchor="middle" font-weight="normal" fill="#222" textLength="11.4" lengthAdjust="spacingAndGlyphs" stroke="#222" stroke-width="0.06">TG</text>
<line x1="467.7" y1="355.3" x2="467.7" y2="358" stroke="#1a1a1a" stroke-width="1"/>
<text x="467.70" y="367.50" font-size="8.85" text-anchor="middle" font-weight="normal" fill="#222" textLength="12.7" lengthAdjust="spacingAndGlyphs" stroke="#222" stroke-width="0.06">Cer</text>
<line x1="483.8" y1="355.3" x2="483.8" y2="358" stroke="#1a1a1a" stroke-width="1"/>
<text x="483.80" y="367.50" font-size="8.85" text-anchor="middle" font-weight="normal" fill="#222" textLength="12.1" lengthAdjust="spacingAndGlyphs" stroke="#222" stroke-width="0.06">SM</text>
<line x1="500.9" y1="355.3" x2="500.9" y2="358" stroke="#1a1a1a" stroke-width="1"/>
<text x="500.90" y="367.50" font-size="8.85" text-anchor="middle" font-weight="normal" fill="#222" textLength="10.2" lengthAdjust="spacingAndGlyphs" stroke="#222" stroke-width="0.06">FA</text>
<text transform="translate(278.2,296.2) rotate(-90)" font-size="9.6" text-anchor="middle" fill="#2a2a2a" stroke="#2a2a2a" stroke-width="0.12" textLength="75.7" lengthAdjust="spacingAndGlyphs">Concentration [ng/mL]</text>
<rect x="314.5" y="240.8" width="6.2" height="5.8" fill="#1b5995"/>
<rect x="366.4" y="240.8" width="6.2" height="5.8" fill="#cf1239"/>
<text x="323.70" y="246.30" font-size="8.74" text-anchor="start" font-weight="normal" fill="#222" textLength="32.6" lengthAdjust="spacingAndGlyphs" stroke="#222" stroke-width="0.06">Thrombin</text>
<text x="375.60" y="246.30" font-size="8.74" text-anchor="start" font-weight="normal" fill="#222" textLength="93.8" lengthAdjust="spacingAndGlyphs" stroke="#222" stroke-width="0.06">CXCR7 agonist + thrombin</text>
</svg>
<div class="frame"></div>
</body></html>
